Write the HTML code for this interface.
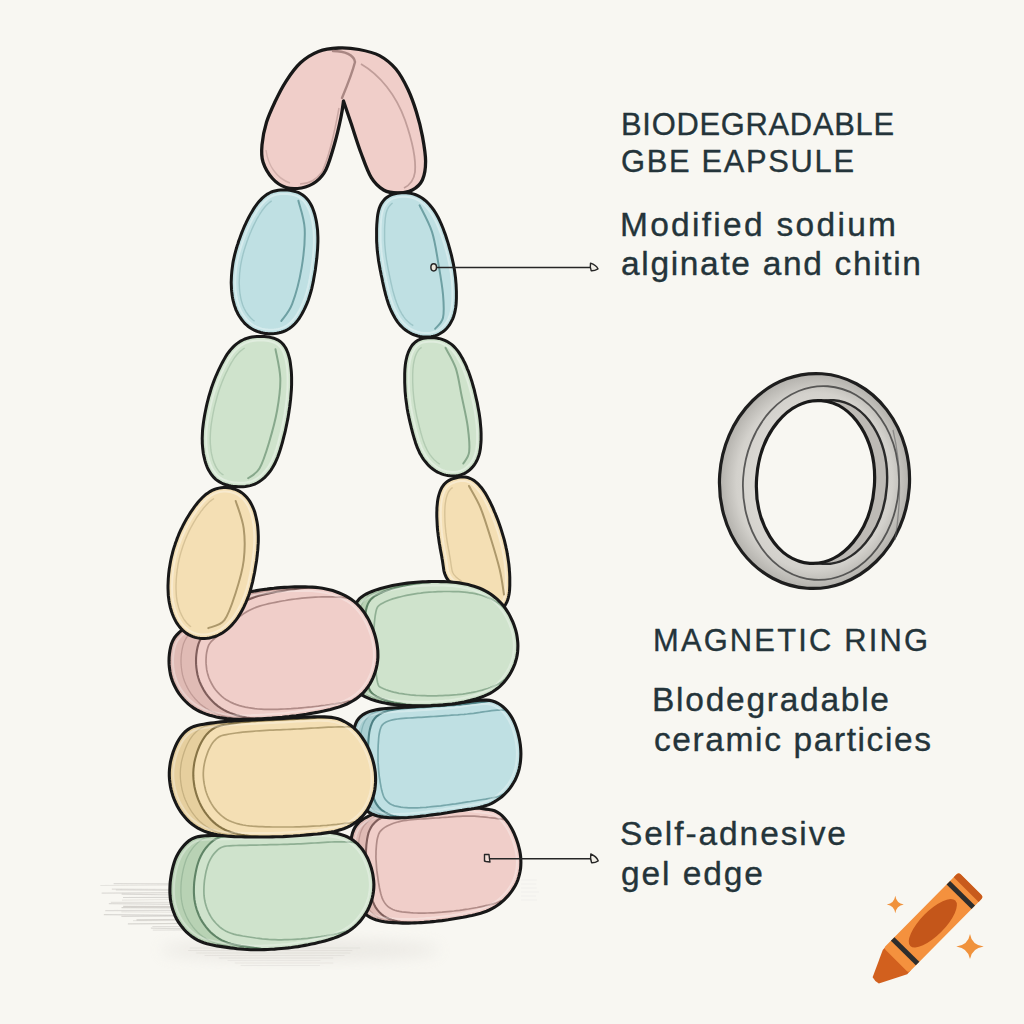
<!DOCTYPE html>
<html><head><meta charset="utf-8"><style>
html,body{margin:0;padding:0;background:#f8f7f2;}
svg{display:block;}
</style></head><body>
<svg width="1024" height="1024" viewBox="0 0 1024 1024">
<defs><filter id="blur06" x="-10%" y="-50%" width="120%" height="200%"><feGaussianBlur stdDeviation="0.7"/></filter><filter id="blur2" x="-50%" y="-50%" width="200%" height="200%"><feGaussianBlur stdDeviation="8"/></filter></defs>
<rect width="1024" height="1024" fill="#f8f7f2"/>
<g stroke="#9f9c97" stroke-width="1.2" filter="url(#blur06)"><line x1="113.6" y1="883.6" x2="176.4" y2="883.8" stroke-opacity="0.30"/><line x1="100.3" y1="885.5" x2="182.0" y2="885.0" stroke-opacity="0.21"/><line x1="111.8" y1="889.2" x2="182.0" y2="889.5" stroke-opacity="0.27"/><line x1="115.9" y1="890.0" x2="182.4" y2="890.5" stroke-opacity="0.28"/><line x1="101.6" y1="893.1" x2="181.1" y2="892.7" stroke-opacity="0.30"/><line x1="121.6" y1="894.2" x2="177.7" y2="895.0" stroke-opacity="0.33"/><line x1="123.0" y1="897.5" x2="176.7" y2="897.4" stroke-opacity="0.35"/><line x1="122.0" y1="900.1" x2="173.2" y2="899.5" stroke-opacity="0.18"/><line x1="110.9" y1="902.3" x2="179.5" y2="902.4" stroke-opacity="0.23"/><line x1="108.8" y1="903.6" x2="179.0" y2="904.4" stroke-opacity="0.30"/><line x1="123.2" y1="906.3" x2="182.3" y2="906.6" stroke-opacity="0.40"/><line x1="121.5" y1="907.7" x2="186.6" y2="907.8" stroke-opacity="0.38"/><line x1="105.3" y1="910.7" x2="188.0" y2="910.3" stroke-opacity="0.29"/><line x1="121.3" y1="911.9" x2="192.9" y2="912.5" stroke-opacity="0.17"/><line x1="103.8" y1="914.7" x2="187.5" y2="915.4" stroke-opacity="0.34"/><line x1="121.4" y1="916.3" x2="187.5" y2="915.9" stroke-opacity="0.33"/><line x1="136.5" y1="919.8" x2="196.1" y2="919.4" stroke-opacity="0.40"/><line x1="133.0" y1="920.7" x2="193.4" y2="920.5" stroke-opacity="0.20"/><line x1="127.9" y1="923.8" x2="196.5" y2="923.4" stroke-opacity="0.37"/><line x1="152.4" y1="926.5" x2="203.5" y2="926.6" stroke-opacity="0.27"/><line x1="150.9" y1="928.2" x2="208.7" y2="929.1" stroke-opacity="0.31"/><line x1="152.8" y1="930.2" x2="213.6" y2="929.8" stroke-opacity="0.21"/><line x1="189.8" y1="948.0" x2="360.4" y2="948.0" stroke-opacity="0.17"/><line x1="188.1" y1="950.5" x2="352.3" y2="950.5" stroke-opacity="0.18"/><line x1="196.2" y1="953.0" x2="350.3" y2="953.0" stroke-opacity="0.18"/><line x1="204.6" y1="955.5" x2="344.5" y2="955.5" stroke-opacity="0.17"/><line x1="218.8" y1="958.0" x2="333.1" y2="958.0" stroke-opacity="0.19"/><line x1="227.4" y1="960.5" x2="320.4" y2="960.5" stroke-opacity="0.13"/><line x1="234.8" y1="963.0" x2="333.3" y2="963.0" stroke-opacity="0.15"/><line x1="240.6" y1="965.5" x2="319.9" y2="965.5" stroke-opacity="0.15"/><line x1="521.0" y1="880.0" x2="536.6" y2="880.0" stroke-opacity="0.08"/><line x1="521.0" y1="884.0" x2="536.1" y2="884.0" stroke-opacity="0.08"/><line x1="521.0" y1="888.0" x2="536.7" y2="888.0" stroke-opacity="0.08"/><line x1="521.0" y1="892.0" x2="539.0" y2="892.0" stroke-opacity="0.08"/><line x1="521.0" y1="896.0" x2="536.0" y2="896.0" stroke-opacity="0.08"/><line x1="521.0" y1="900.0" x2="536.8" y2="900.0" stroke-opacity="0.08"/></g>
<ellipse cx="300" cy="950" rx="140" ry="10" fill="#d9d6d0" opacity="0.45" filter="url(#blur2)"/>
<path d="M343.5,101.0 C343.1,103.7 342.5,109.7 341.0,117.0 C339.5,124.3 336.8,136.1 334.3,144.8 C331.8,153.6 329.1,163.3 326.0,169.5 C322.9,175.7 320.0,178.7 315.9,181.8 C311.8,184.9 306.5,187.1 301.5,188.0 C296.5,188.9 290.8,189.1 286.0,187.5 C281.2,185.9 276.3,182.8 272.5,178.5 C268.7,174.2 264.8,167.6 263.0,162.0 C261.2,156.4 261.4,151.4 262.0,144.8 C262.6,138.2 264.3,129.5 266.5,122.3 C268.7,115.1 271.8,108.6 275.0,101.8 C278.2,95.0 281.8,87.8 286.0,81.3 C290.2,74.8 295.1,67.8 300.5,62.8 C305.9,57.8 312.2,54.0 318.5,51.5 C324.8,49.0 331.6,48.3 338.4,48.0 C345.1,47.7 352.1,48.2 359.0,49.5 C365.9,50.8 373.4,52.4 379.5,55.6 C385.6,58.9 391.1,63.4 395.9,69.0 C400.6,74.7 404.6,82.3 408.0,89.5 C411.4,96.7 414.0,104.2 416.4,112.0 C418.8,119.8 421.0,128.4 422.5,136.6 C424.0,144.8 425.6,154.1 425.6,161.3 C425.6,168.5 424.7,174.9 422.5,179.7 C420.3,184.5 416.4,187.8 412.3,190.0 C408.2,192.2 402.8,193.0 398.0,193.0 C393.2,193.0 388.1,192.6 383.6,190.0 C379.2,187.4 375.1,183.9 371.3,177.7 C367.5,171.5 364.4,162.1 361.0,153.0 C357.6,143.9 353.9,131.7 351.0,123.0 C348.1,114.3 344.8,104.7 343.5,101.0Z" fill="#f0cec9" stroke="#181818" stroke-width="3.3" stroke-linejoin="round"/>
<path d="M333,51 C345,51 354,55 355,62 C352,74 347,86 342,98" fill="none" stroke="#9c7a77" stroke-width="2.4" stroke-linecap="round" opacity="0.85"/>
<path d="M361,64 C380,75 396,95 405,120 C412,140 416,160 415,172 C414,180 410,185 404,188" fill="none" stroke="#b08e8a" stroke-width="1.8" opacity="0.75"/>
<path d="M339,108 C335,130 330,155 322,172 C316,180 308,184 300,184" fill="none" stroke="#b08e8a" stroke-width="1.5" opacity="0.6"/>
<path d="M266,150 C268,165 276,178 290,183" fill="none" stroke="#b08e8a" stroke-width="1.4" opacity="0.45"/>
<path d="M287.5,190.0 L289.8,190.3 L292.1,190.7 L294.3,191.2 L296.5,191.9 L298.7,192.7 L300.7,193.8 L302.7,195.0 L304.5,196.4 L306.2,198.0 L307.7,199.7 L309.1,201.5 L310.3,203.5 L311.4,205.5 L312.4,207.6 L313.2,209.8 L314.0,212.0 L314.7,214.2 L315.3,216.5 L315.8,218.8 L316.3,221.1 L316.7,223.4 L317.0,225.7 L317.3,228.0 L317.6,230.3 L317.7,232.6 L317.8,235.0 L317.9,237.3 L317.9,239.6 L317.9,242.0 L317.8,244.3 L317.7,246.7 L317.6,249.0 L317.4,251.3 L317.2,253.7 L317.0,256.0 L316.8,258.3 L316.5,260.6 L316.2,263.0 L315.9,265.3 L315.6,267.6 L315.3,269.9 L314.9,272.2 L314.5,274.5 L314.1,276.8 L313.7,279.1 L313.3,281.4 L312.8,283.7 L312.3,286.0 L311.8,288.3 L311.2,290.5 L310.6,292.8 L309.9,295.0 L309.2,297.3 L308.5,299.5 L307.7,301.7 L306.8,303.8 L305.9,306.0 L304.9,308.1 L303.9,310.2 L302.8,312.3 L301.7,314.3 L300.5,316.3 L299.2,318.3 L297.9,320.2 L296.4,322.0 L294.9,323.7 L293.2,325.4 L291.5,326.9 L289.7,328.3 L287.7,329.5 L285.7,330.6 L283.5,331.5 L281.3,332.2 L279.1,332.8 L276.8,333.3 L274.5,333.6 L272.2,333.7 L269.9,333.7 L267.6,333.6 L265.2,333.4 L263.0,333.0 L260.7,332.5 L258.5,331.8 L256.3,331.0 L254.2,330.1 L252.1,329.0 L250.1,327.8 L248.3,326.5 L246.5,325.0 L244.8,323.4 L243.3,321.6 L241.8,319.8 L240.5,317.9 L239.2,316.0 L238.0,314.0 L237.0,311.9 L236.0,309.8 L235.2,307.6 L234.4,305.4 L233.8,303.2 L233.2,300.9 L232.7,298.6 L232.3,296.3 L232.0,294.0 L231.7,291.7 L231.5,289.4 L231.4,287.0 L231.3,284.7 L231.2,282.4 L231.3,280.0 L231.4,277.7 L231.5,275.4 L231.7,273.0 L231.9,270.7 L232.2,268.4 L232.5,266.1 L232.8,263.7 L233.2,261.4 L233.7,259.1 L234.2,256.9 L234.7,254.6 L235.3,252.3 L235.9,250.1 L236.6,247.8 L237.2,245.6 L238.0,243.4 L238.7,241.1 L239.5,238.9 L240.3,236.7 L241.1,234.5 L241.9,232.4 L242.8,230.2 L243.7,228.0 L244.6,225.9 L245.6,223.8 L246.6,221.7 L247.6,219.6 L248.7,217.5 L249.8,215.4 L250.9,213.4 L252.1,211.4 L253.3,209.4 L254.6,207.4 L255.9,205.5 L257.3,203.6 L258.8,201.8 L260.4,200.1 L262.0,198.4 L263.7,196.9 L265.5,195.4 L267.4,194.1 L269.4,193.0 L271.5,192.0 L273.7,191.2 L275.9,190.7 L278.2,190.2 L280.5,190.0 L282.8,189.9 L285.2,189.9Z" fill="#bfe0e3" stroke="#181818" stroke-width="3.0"/>
<path d="M287.1,194.0 L289.2,194.2 L291.3,194.6 L293.3,195.1 L295.2,195.6 L297.1,196.4 L298.8,197.2 L300.4,198.3 L301.9,199.4 L303.3,200.7 L304.6,202.2 L305.8,203.8 L306.8,205.5 L307.8,207.3 L308.7,209.2 L309.5,211.2 L310.2,213.2 L310.8,215.3 L311.4,217.5 L311.9,219.6 L312.4,221.8 L312.7,224.0 L313.1,226.2 L313.3,228.4 L313.6,230.6 L313.7,232.9 L313.8,235.1 L313.9,237.4 L313.9,239.6 L313.9,241.9 L313.8,244.2 L313.7,246.4 L313.6,248.7 L313.4,251.0 L313.3,253.3 L313.0,255.6 L312.8,257.9 L312.5,260.2 L312.3,262.4 L312.0,264.7 L311.6,267.0 L311.3,269.3 L311.0,271.6 L310.6,273.9 L310.2,276.1 L309.8,278.4 L309.3,280.6 L308.9,282.9 L308.4,285.1 L307.9,287.3 L307.3,289.5 L306.7,291.7 L306.1,293.9 L305.4,296.0 L304.7,298.1 L303.9,300.2 L303.1,302.3 L302.2,304.4 L301.3,306.4 L300.3,308.4 L299.3,310.4 L298.2,312.3 L297.1,314.2 L295.9,316.0 L294.7,317.8 L293.3,319.4 L292.0,321.0 L290.5,322.5 L289.0,323.8 L287.4,325.0 L285.7,326.1 L283.9,327.0 L282.1,327.8 L280.2,328.4 L278.2,328.9 L276.2,329.3 L274.1,329.6 L272.0,329.7 L270.0,329.7 L267.9,329.6 L265.8,329.4 L263.7,329.1 L261.7,328.6 L259.7,328.0 L257.7,327.3 L255.9,326.5 L254.1,325.6 L252.4,324.5 L250.7,323.3 L249.2,322.0 L247.7,320.6 L246.3,319.0 L245.0,317.4 L243.8,315.7 L242.6,313.9 L241.6,312.1 L240.6,310.2 L239.7,308.2 L238.9,306.2 L238.3,304.2 L237.7,302.1 L237.1,300.0 L236.7,297.8 L236.3,295.7 L236.0,293.5 L235.7,291.3 L235.5,289.1 L235.4,286.8 L235.3,284.6 L235.2,282.4 L235.3,280.1 L235.4,277.9 L235.5,275.6 L235.7,273.4 L235.9,271.1 L236.1,268.9 L236.4,266.6 L236.8,264.4 L237.2,262.2 L237.6,260.0 L238.1,257.7 L238.6,255.5 L239.1,253.4 L239.8,251.2 L240.4,249.0 L241.1,246.8 L241.8,244.6 L242.5,242.4 L243.2,240.3 L244.0,238.1 L244.8,236.0 L245.6,233.8 L246.5,231.7 L247.4,229.6 L248.3,227.5 L249.2,225.5 L250.2,223.4 L251.2,221.4 L252.3,219.3 L253.3,217.3 L254.4,215.4 L255.6,213.4 L256.7,211.5 L257.9,209.6 L259.2,207.8 L260.5,206.1 L261.9,204.4 L263.3,202.8 L264.8,201.3 L266.3,199.9 L267.9,198.7 L269.6,197.5 L271.3,196.5 L273.1,195.7 L274.9,195.1 L276.8,194.6 L278.8,194.2 L280.8,194.0 L282.9,193.9 L285.0,193.9Z" fill="none" stroke="#ffffff" stroke-width="2" opacity="0.35"/>
<path d="M254.6,321.2 L253.2,320.2 L251.9,319.1 L250.6,317.8 L249.4,316.4 L248.2,315.0 L247.1,313.4 L246.0,311.8 L245.1,310.2 L244.2,308.5 L243.4,306.7 L242.7,304.9 L242.1,303.0 L241.5,301.1 L241.0,299.1 L240.6,297.1 L240.2,295.0 L239.9,293.0 L239.7,290.9 L239.5,288.7 L239.4,286.6 L239.3,284.5 L239.2,282.4 L239.3,280.2 L239.4,278.1 L239.5,275.9 L239.6,273.7 L239.9,271.5 L240.1,269.4 L240.4,267.2 L240.7,265.0 L241.1,262.9 L241.5,260.8 L242.0,258.6 L242.5,256.5 L243.0,254.4 L243.6,252.3 L244.2,250.1 L244.9,248.0 L245.6,245.8 L246.3,243.7 L247.0,241.6 L247.8,239.5 L248.5,237.4 L249.4,235.3 L250.2,233.2 L251.1,231.2 L251.9,229.2 L252.9,227.1 L253.8,225.1 L254.8,223.2 L255.8,221.2 L256.8,219.2 L257.9,217.3 L259.0,215.5 L260.1,213.6 L261.3,211.9 L262.4,210.2 L263.7,208.5 L264.9,207.0 L266.2,205.6 L267.5,204.2 L268.9,203.0 L270.3,201.9 L271.7,200.9" fill="none" stroke="#5f9498" stroke-width="1.4" opacity="0.35"/>
<path d="M298.4,200.8 C299.4,205.5 304.2,217.7 304.7,228.9 C305.2,240.1 303.7,255.4 301.6,267.9 C299.5,280.4 295.6,295.0 292.2,303.9 C288.8,312.8 283.1,318.1 281.3,321.0" fill="none" stroke="#5f9498" stroke-width="2" opacity="0.85" stroke-linecap="round"/>
<path d="M399.3,193.0 L401.6,192.8 L403.9,192.7 L406.2,192.8 L408.4,193.0 L410.7,193.3 L412.9,193.9 L415.1,194.5 L417.2,195.4 L419.2,196.4 L421.2,197.5 L423.1,198.8 L424.9,200.2 L426.6,201.7 L428.2,203.3 L429.8,205.0 L431.2,206.7 L432.6,208.5 L434.0,210.4 L435.2,212.3 L436.4,214.3 L437.5,216.3 L438.6,218.3 L439.6,220.4 L440.6,222.5 L441.5,224.6 L442.4,226.7 L443.2,228.8 L444.0,231.0 L444.8,233.1 L445.6,235.3 L446.3,237.5 L447.0,239.7 L447.7,241.9 L448.4,244.1 L449.0,246.3 L449.6,248.5 L450.2,250.7 L450.8,252.9 L451.4,255.2 L451.9,257.4 L452.4,259.6 L452.9,261.9 L453.4,264.1 L453.8,266.4 L454.2,268.6 L454.6,270.9 L454.9,273.2 L455.2,275.5 L455.5,277.7 L455.7,280.0 L455.9,282.3 L456.1,284.6 L456.2,286.9 L456.3,289.2 L456.4,291.5 L456.4,293.8 L456.4,296.1 L456.4,298.4 L456.3,300.7 L456.2,303.0 L456.0,305.3 L455.7,307.5 L455.3,309.8 L454.9,312.0 L454.3,314.2 L453.6,316.4 L452.8,318.6 L451.8,320.6 L450.8,322.6 L449.6,324.6 L448.3,326.4 L446.8,328.2 L445.2,329.8 L443.5,331.3 L441.7,332.6 L439.7,333.8 L437.7,334.8 L435.6,335.6 L433.4,336.2 L431.2,336.7 L428.9,336.9 L426.7,337.1 L424.4,337.0 L422.1,336.8 L419.9,336.5 L417.7,336.0 L415.5,335.3 L413.3,334.5 L411.3,333.6 L409.3,332.5 L407.3,331.3 L405.5,330.0 L403.7,328.6 L402.0,327.0 L400.4,325.4 L398.9,323.6 L397.5,321.8 L396.2,320.0 L395.0,318.0 L393.9,316.0 L392.8,314.0 L391.8,312.0 L390.8,309.9 L389.9,307.7 L389.1,305.6 L388.3,303.5 L387.6,301.3 L386.9,299.1 L386.3,296.9 L385.6,294.7 L385.1,292.4 L384.5,290.2 L384.0,288.0 L383.5,285.7 L383.0,283.5 L382.5,281.2 L382.1,279.0 L381.6,276.7 L381.1,274.5 L380.7,272.2 L380.2,270.0 L379.8,267.7 L379.4,265.5 L379.0,263.2 L378.6,260.9 L378.3,258.7 L378.0,256.4 L377.7,254.1 L377.4,251.8 L377.2,249.5 L377.0,247.2 L376.9,244.9 L376.7,242.7 L376.6,240.4 L376.6,238.1 L376.6,235.8 L376.6,233.5 L376.6,231.2 L376.6,228.9 L376.7,226.6 L376.8,224.3 L377.0,222.0 L377.2,219.7 L377.4,217.4 L377.7,215.1 L378.1,212.9 L378.6,210.7 L379.2,208.5 L380.0,206.4 L381.0,204.3 L382.2,202.4 L383.5,200.6 L385.0,198.9 L386.7,197.5 L388.6,196.2 L390.6,195.2 L392.7,194.4 L394.8,193.8 L397.1,193.3Z" fill="#bfe0e3" stroke="#181818" stroke-width="3.0"/>
<path d="M399.8,197.0 L401.8,196.8 L403.9,196.7 L405.9,196.8 L408.0,197.0 L409.9,197.3 L411.8,197.7 L413.7,198.3 L415.6,199.0 L417.3,199.9 L419.1,200.9 L420.7,202.0 L422.3,203.3 L423.9,204.6 L425.4,206.1 L426.8,207.6 L428.1,209.2 L429.4,210.9 L430.7,212.7 L431.8,214.5 L432.9,216.3 L434.0,218.2 L435.0,220.1 L436.0,222.1 L436.9,224.1 L437.8,226.2 L438.7,228.2 L439.5,230.3 L440.3,232.4 L441.1,234.5 L441.8,236.6 L442.5,238.7 L443.2,240.9 L443.9,243.0 L444.6,245.2 L445.2,247.4 L445.8,249.5 L446.4,251.7 L446.9,253.9 L447.5,256.1 L448.0,258.3 L448.5,260.5 L449.0,262.7 L449.4,264.9 L449.9,267.1 L450.2,269.3 L450.6,271.5 L451.0,273.8 L451.3,276.0 L451.5,278.2 L451.8,280.4 L452.0,282.6 L452.1,284.9 L452.3,287.1 L452.3,289.3 L452.4,291.6 L452.4,293.8 L452.4,296.0 L452.4,298.3 L452.3,300.5 L452.2,302.7 L452.0,304.8 L451.7,307.0 L451.4,309.1 L451.0,311.1 L450.4,313.1 L449.8,315.1 L449.1,317.0 L448.3,318.9 L447.3,320.7 L446.3,322.4 L445.1,324.0 L443.8,325.5 L442.5,326.9 L441.0,328.2 L439.5,329.3 L437.8,330.3 L436.1,331.1 L434.3,331.8 L432.5,332.3 L430.6,332.7 L428.6,333.0 L426.6,333.1 L424.6,333.0 L422.6,332.8 L420.6,332.5 L418.7,332.1 L416.7,331.5 L414.9,330.8 L413.0,330.0 L411.3,329.1 L409.5,328.0 L407.9,326.8 L406.3,325.5 L404.8,324.1 L403.4,322.7 L402.0,321.1 L400.7,319.5 L399.5,317.8 L398.4,316.0 L397.4,314.1 L396.3,312.2 L395.4,310.3 L394.5,308.3 L393.6,306.2 L392.8,304.2 L392.1,302.1 L391.4,300.0 L390.7,297.9 L390.1,295.8 L389.5,293.6 L389.0,291.5 L388.4,289.3 L387.9,287.1 L387.4,284.9 L386.9,282.6 L386.4,280.4 L386.0,278.2 L385.5,275.9 L385.1,273.7 L384.6,271.5 L384.2,269.2 L383.8,267.0 L383.3,264.8 L383.0,262.5 L382.6,260.3 L382.3,258.1 L381.9,255.8 L381.7,253.6 L381.4,251.4 L381.2,249.2 L381.0,246.9 L380.9,244.7 L380.7,242.5 L380.6,240.2 L380.6,238.0 L380.6,235.7 L380.6,233.5 L380.6,231.2 L380.6,229.0 L380.7,226.7 L380.8,224.5 L381.0,222.3 L381.1,220.1 L381.4,217.9 L381.6,215.8 L382.0,213.7 L382.5,211.7 L383.0,209.8 L383.7,207.9 L384.5,206.2 L385.5,204.6 L386.6,203.1 L387.8,201.8 L389.1,200.7 L390.6,199.7 L392.2,198.9 L393.9,198.2 L395.8,197.7 L397.7,197.3Z" fill="none" stroke="#ffffff" stroke-width="2" opacity="0.35"/>
<path d="M413.3,325.6 L411.8,324.7 L410.3,323.6 L408.9,322.5 L407.6,321.3 L406.3,320.0 L405.1,318.6 L404.0,317.1 L402.9,315.5 L401.8,313.9 L400.9,312.2 L399.9,310.4 L399.0,308.6 L398.2,306.7 L397.4,304.7 L396.6,302.8 L395.9,300.8 L395.2,298.8 L394.6,296.8 L394.0,294.7 L393.4,292.6 L392.8,290.5 L392.3,288.4 L391.8,286.2 L391.3,284.0 L390.8,281.8 L390.4,279.6 L389.9,277.3 L389.4,275.1 L389.0,272.9 L388.5,270.7 L388.1,268.5 L387.7,266.3 L387.3,264.1 L386.9,261.9 L386.5,259.7 L386.2,257.5 L385.9,255.3 L385.6,253.1 L385.4,251.0 L385.2,248.8 L385.0,246.6 L384.8,244.5 L384.7,242.3 L384.6,240.1 L384.6,237.9 L384.6,235.7 L384.6,233.5 L384.6,231.3 L384.6,229.1 L384.7,226.9 L384.8,224.7 L385.0,222.5 L385.1,220.4 L385.3,218.4 L385.6,216.4 L385.9,214.5 L386.3,212.7 L386.8,211.0 L387.4,209.5 L388.1,208.1 L388.8,206.8 L389.7,205.7 L390.6,204.7 L391.6,203.8 L392.6,203.1" fill="none" stroke="#5f9498" stroke-width="1.4" opacity="0.35"/>
<path d="M419.6,205.3 C421.7,209.7 428.9,222.3 432.0,231.9 C435.1,241.5 436.5,252.7 438.3,263.1 C440.1,273.5 442.2,285.3 443.0,294.4 C443.8,303.5 444.3,312.1 443.0,317.8 C441.7,323.5 436.5,326.9 435.2,328.8" fill="none" stroke="#5f9498" stroke-width="2" opacity="0.85" stroke-linecap="round"/>
<path d="M264.2,336.6 L266.6,336.8 L269.0,337.1 L271.4,337.6 L273.8,338.2 L276.0,339.1 L278.1,340.1 L280.1,341.4 L281.9,343.0 L283.5,344.8 L284.9,346.7 L286.1,348.8 L287.1,351.0 L288.0,353.3 L288.7,355.6 L289.4,358.0 L289.9,360.3 L290.3,362.8 L290.6,365.2 L290.9,367.6 L291.2,370.1 L291.4,372.5 L291.5,374.9 L291.6,377.4 L291.6,379.9 L291.6,382.3 L291.6,384.8 L291.5,387.2 L291.4,389.7 L291.2,392.1 L291.0,394.6 L290.8,397.0 L290.6,399.4 L290.3,401.9 L290.0,404.3 L289.7,406.8 L289.3,409.2 L289.0,411.6 L288.6,414.0 L288.2,416.5 L287.8,418.9 L287.3,421.3 L286.8,423.7 L286.3,426.1 L285.8,428.5 L285.3,430.9 L284.7,433.3 L284.1,435.7 L283.5,438.0 L282.9,440.4 L282.3,442.8 L281.6,445.1 L280.9,447.5 L280.2,449.8 L279.4,452.2 L278.6,454.5 L277.8,456.8 L276.8,459.1 L275.8,461.3 L274.8,463.5 L273.6,465.7 L272.4,467.8 L271.1,469.8 L269.7,471.8 L268.1,473.7 L266.5,475.6 L264.8,477.3 L263.0,478.9 L261.1,480.4 L259.1,481.8 L257.0,483.0 L254.8,484.1 L252.5,484.9 L250.2,485.6 L247.8,486.1 L245.4,486.5 L243.0,486.7 L240.6,486.8 L238.1,486.8 L235.7,486.6 L233.3,486.4 L230.8,486.0 L228.5,485.5 L226.1,484.8 L223.8,484.0 L221.6,483.0 L219.5,481.9 L217.4,480.6 L215.5,479.1 L213.8,477.4 L212.2,475.6 L210.8,473.7 L209.5,471.6 L208.3,469.5 L207.3,467.3 L206.4,465.0 L205.6,462.7 L204.9,460.3 L204.3,458.0 L203.8,455.6 L203.3,453.2 L203.0,450.7 L202.7,448.3 L202.5,445.9 L202.3,443.4 L202.3,441.0 L202.2,438.5 L202.3,436.1 L202.4,433.6 L202.5,431.2 L202.7,428.7 L203.0,426.3 L203.3,423.8 L203.6,421.4 L204.0,419.0 L204.4,416.6 L204.8,414.2 L205.3,411.8 L205.8,409.3 L206.3,406.9 L206.8,404.6 L207.4,402.2 L208.0,399.8 L208.6,397.4 L209.3,395.0 L210.0,392.7 L210.7,390.3 L211.4,388.0 L212.2,385.7 L213.0,383.4 L213.9,381.1 L214.8,378.8 L215.7,376.5 L216.7,374.3 L217.7,372.0 L218.7,369.8 L219.8,367.6 L220.9,365.4 L222.0,363.2 L223.2,361.1 L224.4,358.9 L225.6,356.8 L226.9,354.7 L228.3,352.7 L229.8,350.8 L231.3,348.9 L233.0,347.1 L234.8,345.4 L236.6,343.9 L238.6,342.4 L240.6,341.1 L242.8,340.0 L245.0,339.0 L247.3,338.2 L249.6,337.5 L252.0,337.0 L254.4,336.7 L256.9,336.5 L259.3,336.4 L261.7,336.5Z" fill="#cfe3cc" stroke="#181818" stroke-width="3.0"/>
<path d="M263.9,340.6 L266.2,340.8 L268.4,341.1 L270.5,341.5 L272.5,342.0 L274.4,342.7 L276.1,343.6 L277.7,344.6 L279.1,345.9 L280.4,347.3 L281.5,348.9 L282.6,350.6 L283.5,352.6 L284.2,354.6 L284.9,356.7 L285.5,358.9 L285.9,361.1 L286.3,363.4 L286.7,365.7 L287.0,368.0 L287.2,370.4 L287.4,372.8 L287.5,375.1 L287.6,377.5 L287.6,379.9 L287.6,382.3 L287.6,384.7 L287.5,387.0 L287.4,389.4 L287.2,391.8 L287.0,394.2 L286.8,396.6 L286.6,399.0 L286.3,401.4 L286.0,403.8 L285.7,406.2 L285.4,408.6 L285.0,411.0 L284.7,413.4 L284.3,415.8 L283.8,418.2 L283.4,420.5 L282.9,422.9 L282.4,425.3 L281.9,427.6 L281.4,430.0 L280.8,432.3 L280.2,434.7 L279.6,437.0 L279.0,439.4 L278.4,441.7 L277.8,444.0 L277.1,446.3 L276.4,448.6 L275.6,450.9 L274.9,453.1 L274.0,455.3 L273.1,457.5 L272.2,459.6 L271.2,461.7 L270.1,463.7 L269.0,465.7 L267.8,467.6 L266.4,469.4 L265.1,471.2 L263.6,472.8 L262.1,474.4 L260.4,475.9 L258.7,477.2 L257.0,478.4 L255.1,479.5 L253.2,480.4 L251.3,481.1 L249.2,481.7 L247.1,482.2 L245.0,482.5 L242.8,482.7 L240.5,482.8 L238.3,482.8 L236.0,482.6 L233.8,482.4 L231.6,482.0 L229.4,481.6 L227.3,481.0 L225.3,480.3 L223.3,479.4 L221.5,478.4 L219.7,477.3 L218.1,476.1 L216.7,474.7 L215.3,473.1 L214.1,471.4 L212.9,469.6 L211.9,467.7 L211.0,465.7 L210.1,463.6 L209.4,461.4 L208.7,459.3 L208.2,457.0 L207.7,454.8 L207.3,452.5 L206.9,450.2 L206.7,447.9 L206.5,445.6 L206.3,443.2 L206.3,440.9 L206.2,438.5 L206.3,436.2 L206.4,433.8 L206.5,431.5 L206.7,429.1 L206.9,426.7 L207.2,424.4 L207.6,422.0 L207.9,419.6 L208.3,417.3 L208.8,414.9 L209.2,412.5 L209.7,410.2 L210.2,407.8 L210.7,405.5 L211.3,403.1 L211.9,400.8 L212.5,398.5 L213.1,396.1 L213.8,393.8 L214.5,391.5 L215.2,389.3 L216.0,387.0 L216.8,384.7 L217.6,382.5 L218.5,380.3 L219.4,378.1 L220.3,375.9 L221.3,373.7 L222.3,371.5 L223.4,369.4 L224.4,367.2 L225.5,365.1 L226.7,363.0 L227.8,360.9 L229.0,358.9 L230.3,356.9 L231.6,355.0 L232.9,353.2 L234.3,351.5 L235.8,349.9 L237.4,348.4 L239.1,347.0 L240.8,345.7 L242.7,344.6 L244.5,343.6 L246.5,342.7 L248.5,342.0 L250.5,341.4 L252.7,341.0 L254.8,340.7 L257.1,340.5 L259.3,340.4 L261.6,340.5Z" fill="none" stroke="#ffffff" stroke-width="2" opacity="0.35"/>
<path d="M223.5,475.0 L222.1,474.1 L220.7,473.0 L219.5,471.9 L218.4,470.6 L217.4,469.2 L216.4,467.6 L215.5,465.9 L214.7,464.1 L213.9,462.2 L213.2,460.2 L212.6,458.2 L212.1,456.1 L211.6,454.0 L211.2,451.9 L210.9,449.7 L210.7,447.5 L210.5,445.3 L210.3,443.1 L210.3,440.8 L210.2,438.5 L210.3,436.3 L210.4,434.0 L210.5,431.7 L210.7,429.5 L210.9,427.2 L211.2,424.9 L211.5,422.6 L211.9,420.3 L212.3,418.0 L212.7,415.6 L213.1,413.3 L213.6,411.0 L214.1,408.7 L214.6,406.4 L215.2,404.1 L215.8,401.8 L216.4,399.5 L217.0,397.2 L217.6,395.0 L218.3,392.7 L219.0,390.5 L219.8,388.3 L220.6,386.1 L221.4,383.9 L222.2,381.7 L223.1,379.6 L224.0,377.5 L225.0,375.3 L225.9,373.2 L227.0,371.1 L228.0,369.0 L229.1,367.0 L230.2,364.9 L231.3,362.9 L232.5,361.0 L233.6,359.1 L234.8,357.4 L236.1,355.7 L237.3,354.2 L238.7,352.7 L240.1,351.4 L241.6,350.2 L243.1,349.0 L244.7,348.0" fill="none" stroke="#7a9e80" stroke-width="1.4" opacity="0.35"/>
<path d="M275.5,349.3 C276.3,354.1 280.0,368.1 280.3,378.3 C280.6,388.5 279.0,399.8 277.1,410.5 C275.2,421.2 271.9,433.0 269.0,442.7 C266.1,452.4 262.9,462.6 259.4,468.5 C255.9,474.4 250.0,476.6 248.1,478.2" fill="none" stroke="#7a9e80" stroke-width="2" opacity="0.85" stroke-linecap="round"/>
<path d="M427.7,337.7 L429.9,337.6 L432.1,337.7 L434.3,337.8 L436.5,338.1 L438.6,338.4 L440.7,338.9 L442.8,339.6 L444.8,340.4 L446.8,341.3 L448.7,342.4 L450.5,343.6 L452.2,344.9 L453.8,346.4 L455.3,347.9 L456.7,349.6 L458.1,351.3 L459.3,353.1 L460.5,355.0 L461.6,356.9 L462.7,358.8 L463.7,360.8 L464.7,362.7 L465.6,364.7 L466.5,366.7 L467.3,368.8 L468.2,370.8 L469.0,372.9 L469.7,375.0 L470.4,377.0 L471.1,379.1 L471.8,381.2 L472.4,383.3 L473.0,385.5 L473.6,387.6 L474.2,389.7 L474.7,391.9 L475.2,394.0 L475.7,396.2 L476.2,398.3 L476.7,400.5 L477.2,402.6 L477.6,404.8 L478.0,407.0 L478.4,409.1 L478.8,411.3 L479.2,413.5 L479.5,415.7 L479.8,417.8 L480.1,420.0 L480.3,422.2 L480.5,424.4 L480.7,426.6 L480.9,428.8 L481.0,431.0 L481.1,433.2 L481.1,435.4 L481.1,437.6 L481.1,439.8 L481.0,442.0 L480.8,444.2 L480.6,446.4 L480.4,448.6 L480.0,450.8 L479.6,452.9 L479.0,455.0 L478.3,457.1 L477.5,459.1 L476.6,461.1 L475.5,463.0 L474.3,464.8 L473.0,466.5 L471.5,468.1 L470.0,469.6 L468.3,471.0 L466.5,472.2 L464.7,473.3 L462.7,474.2 L460.7,474.9 L458.6,475.4 L456.5,475.8 L454.3,475.9 L452.1,476.0 L450.0,475.8 L447.8,475.5 L445.7,475.1 L443.6,474.6 L441.5,473.9 L439.5,473.0 L437.5,472.1 L435.6,471.0 L433.8,469.8 L432.1,468.5 L430.4,467.1 L428.8,465.6 L427.3,464.0 L425.9,462.3 L424.5,460.6 L423.2,458.8 L422.0,457.0 L420.9,455.1 L419.8,453.2 L418.9,451.2 L418.0,449.2 L417.1,447.2 L416.4,445.1 L415.6,443.0 L415.0,440.9 L414.3,438.8 L413.7,436.7 L413.1,434.6 L412.5,432.5 L412.0,430.3 L411.4,428.2 L410.9,426.0 L410.4,423.9 L409.9,421.8 L409.4,419.6 L408.9,417.4 L408.5,415.3 L408.0,413.1 L407.6,411.0 L407.2,408.8 L406.9,406.6 L406.6,404.4 L406.3,402.2 L406.0,400.1 L405.7,397.9 L405.5,395.7 L405.3,393.5 L405.1,391.3 L405.0,389.1 L404.9,386.9 L404.8,384.7 L404.7,382.5 L404.7,380.2 L404.7,378.0 L404.7,375.8 L404.7,373.6 L404.8,371.4 L404.9,369.2 L405.1,367.0 L405.3,364.8 L405.6,362.7 L406.0,360.5 L406.5,358.4 L407.0,356.2 L407.7,354.1 L408.4,352.1 L409.3,350.1 L410.3,348.2 L411.4,346.3 L412.7,344.6 L414.2,343.1 L415.8,341.7 L417.5,340.5 L419.4,339.6 L421.4,338.8 L423.4,338.3 L425.6,337.9Z" fill="#cfe3cc" stroke="#181818" stroke-width="3.0"/>
<path d="M428.0,341.7 L430.0,341.6 L431.9,341.7 L433.9,341.8 L435.9,342.0 L437.8,342.3 L439.7,342.8 L441.5,343.3 L443.2,344.0 L444.9,344.8 L446.6,345.8 L448.1,346.8 L449.6,348.0 L451.0,349.2 L452.4,350.6 L453.6,352.1 L454.8,353.7 L456.0,355.3 L457.1,357.1 L458.1,358.9 L459.1,360.7 L460.1,362.6 L461.1,364.5 L462.0,366.4 L462.8,368.3 L463.7,370.3 L464.4,372.3 L465.2,374.3 L465.9,376.3 L466.6,378.3 L467.3,380.4 L468.0,382.4 L468.6,384.5 L469.2,386.5 L469.7,388.6 L470.3,390.7 L470.8,392.8 L471.4,394.9 L471.9,397.1 L472.3,399.2 L472.8,401.3 L473.3,403.4 L473.7,405.6 L474.1,407.7 L474.5,409.8 L474.9,412.0 L475.2,414.1 L475.5,416.2 L475.8,418.4 L476.1,420.5 L476.3,422.6 L476.6,424.8 L476.7,426.9 L476.9,429.1 L477.0,431.2 L477.1,433.3 L477.1,435.5 L477.1,437.6 L477.1,439.7 L477.0,441.8 L476.9,443.9 L476.7,446.0 L476.4,448.0 L476.1,450.0 L475.7,452.0 L475.2,453.9 L474.6,455.7 L473.9,457.5 L473.1,459.2 L472.1,460.9 L471.1,462.4 L469.9,463.9 L468.7,465.3 L467.3,466.6 L465.9,467.8 L464.4,468.8 L462.8,469.7 L461.2,470.4 L459.5,471.0 L457.8,471.5 L456.0,471.8 L454.1,471.9 L452.2,472.0 L450.3,471.8 L448.5,471.6 L446.6,471.2 L444.7,470.7 L442.9,470.1 L441.1,469.4 L439.4,468.5 L437.7,467.6 L436.1,466.5 L434.6,465.3 L433.1,464.1 L431.6,462.7 L430.2,461.3 L428.9,459.8 L427.7,458.2 L426.5,456.6 L425.4,454.9 L424.4,453.1 L423.4,451.3 L422.5,449.5 L421.6,447.6 L420.9,445.7 L420.1,443.8 L419.4,441.8 L418.8,439.7 L418.2,437.7 L417.6,435.6 L417.0,433.5 L416.4,431.4 L415.9,429.3 L415.3,427.2 L414.8,425.1 L414.3,423.0 L413.8,420.9 L413.3,418.7 L412.8,416.6 L412.4,414.5 L412.0,412.4 L411.6,410.2 L411.2,408.1 L410.8,406.0 L410.5,403.8 L410.2,401.7 L409.9,399.6 L409.7,397.4 L409.5,395.3 L409.3,393.1 L409.1,391.0 L409.0,388.8 L408.9,386.7 L408.8,384.5 L408.7,382.4 L408.7,380.2 L408.7,378.1 L408.7,375.9 L408.7,373.8 L408.8,371.6 L408.9,369.5 L409.1,367.4 L409.3,365.3 L409.6,363.3 L409.9,361.3 L410.4,359.3 L410.9,357.3 L411.4,355.4 L412.1,353.6 L412.9,351.8 L413.8,350.2 L414.7,348.6 L415.8,347.2 L416.9,346.0 L418.2,344.9 L419.5,344.0 L421.0,343.2 L422.6,342.6 L424.3,342.2 L426.1,341.9Z" fill="none" stroke="#ffffff" stroke-width="2" opacity="0.35"/>
<path d="M439.8,464.2 L438.4,463.2 L437.0,462.2 L435.7,461.1 L434.4,459.9 L433.2,458.6 L432.0,457.3 L430.9,455.8 L429.8,454.3 L428.8,452.8 L427.8,451.2 L426.9,449.5 L426.1,447.8 L425.3,446.1 L424.6,444.3 L423.9,442.4 L423.2,440.5 L422.6,438.6 L422.0,436.6 L421.4,434.5 L420.8,432.5 L420.3,430.4 L419.7,428.3 L419.2,426.2 L418.7,424.1 L418.2,422.0 L417.7,420.0 L417.2,417.9 L416.7,415.8 L416.3,413.7 L415.9,411.6 L415.5,409.5 L415.1,407.4 L414.8,405.4 L414.5,403.3 L414.2,401.2 L413.9,399.1 L413.7,397.0 L413.5,394.9 L413.3,392.8 L413.1,390.7 L413.0,388.6 L412.9,386.5 L412.8,384.4 L412.7,382.3 L412.7,380.2 L412.7,378.1 L412.7,376.0 L412.7,373.9 L412.8,371.8 L412.9,369.8 L413.1,367.8 L413.3,365.8 L413.5,363.9 L413.9,362.0 L414.3,360.2 L414.7,358.4 L415.2,356.7 L415.8,355.1 L416.5,353.5 L417.2,352.1 L418.0,350.9 L418.8,349.8 L419.7,348.8 L420.6,348.1 L421.6,347.4" fill="none" stroke="#7a9e80" stroke-width="1.4" opacity="0.35"/>
<path d="M445.5,347.8 C447.2,351.3 453.2,360.4 455.9,368.6 C458.6,376.8 459.8,387.2 461.8,396.8 C463.8,406.4 466.5,417.4 467.7,426.5 C468.9,435.6 469.9,445.5 469.2,451.7 C468.5,457.9 464.3,461.5 463.3,463.5" fill="none" stroke="#7a9e80" stroke-width="2" opacity="0.85" stroke-linecap="round"/>
<path d="M454.4,478.3 L456.4,477.7 L458.4,477.3 L460.5,477.0 L462.5,476.9 L464.6,477.0 L466.6,477.3 L468.5,477.8 L470.4,478.5 L472.3,479.5 L474.0,480.6 L475.7,481.8 L477.2,483.2 L478.7,484.6 L480.1,486.2 L481.5,487.8 L482.7,489.4 L483.9,491.2 L485.1,492.9 L486.2,494.7 L487.2,496.6 L488.2,498.4 L489.2,500.3 L490.2,502.2 L491.1,504.1 L492.0,506.0 L492.9,507.9 L493.7,509.8 L494.5,511.8 L495.4,513.7 L496.1,515.7 L496.9,517.6 L497.7,519.6 L498.4,521.6 L499.1,523.6 L499.8,525.6 L500.5,527.6 L501.2,529.6 L501.8,531.6 L502.4,533.6 L503.0,535.6 L503.6,537.6 L504.2,539.7 L504.7,541.7 L505.2,543.8 L505.7,545.8 L506.1,547.9 L506.6,550.0 L507.0,552.0 L507.3,554.1 L507.7,556.2 L508.0,558.3 L508.3,560.4 L508.6,562.4 L508.9,564.5 L509.1,566.6 L509.3,568.7 L509.4,570.8 L509.6,572.9 L509.7,575.1 L509.8,577.2 L509.8,579.3 L509.8,581.4 L509.8,583.5 L509.8,585.6 L509.7,587.7 L509.6,589.8 L509.4,591.9 L509.1,594.0 L508.7,596.0 L508.2,598.1 L507.6,600.0 L506.9,602.0 L505.9,603.8 L504.9,605.5 L503.6,607.0 L502.2,608.3 L500.6,609.3 L498.8,610.0 L496.9,610.3 L495.0,610.4 L493.0,610.1 L491.0,609.6 L489.1,608.9 L487.2,608.1 L485.4,607.1 L483.6,606.0 L481.8,604.9 L480.1,603.6 L478.4,602.4 L476.8,601.1 L475.1,599.9 L473.4,598.6 L471.6,597.4 L469.9,596.2 L468.2,595.0 L466.4,593.9 L464.6,592.7 L462.8,591.6 L461.0,590.5 L459.3,589.3 L457.5,588.2 L455.8,587.0 L454.1,585.7 L452.4,584.4 L450.9,583.0 L449.4,581.6 L448.1,580.0 L446.9,578.4 L445.9,576.6 L445.1,574.7 L444.4,572.8 L443.9,570.8 L443.6,568.7 L443.3,566.6 L443.0,564.6 L442.7,562.5 L442.4,560.4 L442.0,558.3 L441.7,556.2 L441.3,554.1 L440.9,552.1 L440.5,550.0 L440.1,547.9 L439.8,545.8 L439.4,543.8 L439.1,541.7 L438.8,539.6 L438.5,537.5 L438.2,535.4 L438.0,533.3 L437.7,531.2 L437.5,529.1 L437.3,527.0 L437.2,524.9 L437.1,522.8 L437.0,520.7 L436.9,518.6 L436.8,516.5 L436.8,514.4 L436.8,512.3 L436.9,510.1 L436.9,508.0 L437.1,505.9 L437.3,503.8 L437.5,501.8 L437.8,499.7 L438.2,497.6 L438.7,495.6 L439.3,493.6 L440.0,491.6 L440.8,489.7 L441.7,487.8 L442.8,486.1 L444.0,484.5 L445.4,483.0 L447.0,481.7 L448.7,480.6 L450.5,479.7 L452.4,478.9Z" fill="#f4dfb4" stroke="#181818" stroke-width="3.0"/>
<path d="M455.5,482.1 L457.3,481.6 L459.1,481.2 L460.9,481.0 L462.6,480.9 L464.2,481.0 L465.8,481.2 L467.3,481.6 L468.8,482.2 L470.3,482.9 L471.7,483.9 L473.1,484.9 L474.5,486.1 L475.9,487.4 L477.1,488.8 L478.3,490.3 L479.5,491.8 L480.6,493.4 L481.7,495.1 L482.7,496.8 L483.7,498.5 L484.7,500.3 L485.6,502.1 L486.6,504.0 L487.5,505.8 L488.3,507.7 L489.2,509.5 L490.0,511.4 L490.9,513.3 L491.7,515.2 L492.4,517.2 L493.2,519.1 L493.9,521.0 L494.7,523.0 L495.4,524.9 L496.0,526.9 L496.7,528.8 L497.4,530.8 L498.0,532.8 L498.6,534.7 L499.2,536.7 L499.7,538.7 L500.3,540.7 L500.8,542.7 L501.3,544.7 L501.8,546.7 L502.2,548.7 L502.6,550.8 L503.0,552.8 L503.4,554.8 L503.8,556.8 L504.1,558.9 L504.4,560.9 L504.7,562.9 L504.9,565.0 L505.1,567.0 L505.3,569.1 L505.5,571.1 L505.6,573.2 L505.7,575.2 L505.8,577.3 L505.8,579.3 L505.8,581.4 L505.8,583.5 L505.8,585.5 L505.7,587.5 L505.6,589.5 L505.4,591.4 L505.2,593.3 L504.8,595.2 L504.4,597.0 L503.9,598.7 L503.2,600.3 L502.5,601.8 L501.6,603.1 L500.7,604.2 L499.8,605.1 L498.8,605.7 L497.7,606.1 L496.5,606.3 L495.2,606.4 L493.7,606.2 L492.2,605.8 L490.6,605.2 L489.0,604.5 L487.4,603.6 L485.7,602.7 L484.1,601.6 L482.5,600.4 L480.8,599.2 L479.2,597.9 L477.4,596.6 L475.7,595.4 L473.9,594.1 L472.2,592.9 L470.4,591.7 L468.6,590.5 L466.8,589.4 L465.0,588.2 L463.2,587.1 L461.5,586.0 L459.8,584.8 L458.1,583.7 L456.5,582.5 L455.0,581.3 L453.6,580.1 L452.3,578.9 L451.2,577.6 L450.3,576.2 L449.5,574.8 L448.8,573.3 L448.3,571.7 L447.8,569.9 L447.5,568.1 L447.2,566.1 L446.9,564.0 L446.6,561.9 L446.3,559.8 L446.0,557.6 L445.6,555.5 L445.2,553.4 L444.8,551.3 L444.5,549.3 L444.1,547.2 L443.7,545.2 L443.4,543.1 L443.0,541.1 L442.7,539.0 L442.5,537.0 L442.2,534.9 L441.9,532.9 L441.7,530.8 L441.5,528.7 L441.3,526.7 L441.2,524.6 L441.1,522.6 L440.9,520.5 L440.9,518.5 L440.8,516.4 L440.8,514.4 L440.8,512.3 L440.9,510.3 L440.9,508.2 L441.1,506.2 L441.2,504.3 L441.5,502.3 L441.8,500.4 L442.1,498.5 L442.6,496.6 L443.1,494.8 L443.7,493.0 L444.4,491.3 L445.2,489.8 L446.1,488.4 L447.0,487.1 L448.1,486.0 L449.3,485.0 L450.7,484.1 L452.2,483.3 L453.8,482.7Z" fill="none" stroke="#ffffff" stroke-width="2" opacity="0.35"/>
<path d="M487.9,599.3 L486.4,598.3 L484.8,597.2 L483.2,596.0 L481.5,594.7 L479.8,593.4 L478.0,592.1 L476.2,590.8 L474.4,589.6 L472.6,588.3 L470.7,587.1 L468.9,586.0 L467.1,584.9 L465.4,583.7 L463.7,582.6 L462.0,581.5 L460.4,580.4 L458.9,579.3 L457.6,578.3 L456.3,577.2 L455.3,576.1 L454.4,575.1 L453.6,574.1 L453.0,573.0 L452.5,571.9 L452.1,570.6 L451.8,569.1 L451.5,567.4 L451.2,565.5 L450.9,563.5 L450.6,561.3 L450.3,559.1 L449.9,557.0 L449.5,554.8 L449.2,552.7 L448.8,550.6 L448.4,548.6 L448.0,546.5 L447.7,544.5 L447.3,542.5 L447.0,540.4 L446.7,538.4 L446.4,536.4 L446.2,534.4 L445.9,532.4 L445.7,530.4 L445.5,528.4 L445.3,526.4 L445.2,524.4 L445.0,522.3 L444.9,520.3 L444.9,518.3 L444.8,516.3 L444.8,514.3 L444.8,512.4 L444.8,510.4 L444.9,508.5 L445.0,506.5 L445.2,504.7 L445.4,502.8 L445.7,501.0 L446.0,499.3 L446.4,497.6 L446.9,496.0 L447.4,494.4 L448.0,493.0 L448.7,491.7 L449.4,490.6 L450.1,489.7 L450.8,488.9 L451.7,488.2 L452.7,487.6" fill="none" stroke="#a08c5e" stroke-width="1.4" opacity="0.35"/>
<path d="M469.0,486.0 C470.9,489.7 477.0,499.2 480.6,508.0 C484.2,516.8 487.7,528.5 490.9,538.8 C494.1,549.1 497.5,560.3 499.7,569.6 C501.9,578.9 503.3,590.4 504.0,594.5" fill="none" stroke="#a08c5e" stroke-width="2" opacity="0.85" stroke-linecap="round"/>
<clipPath id="c1"><path d="M380.0,812.1 L383.0,811.5 L386.0,810.9 L389.0,810.4 L392.0,810.0 L395.0,809.7 L398.0,809.5 L401.0,809.2 L404.1,809.0 L407.1,808.8 L410.1,808.6 L413.2,808.4 L416.2,808.2 L419.2,808.0 L422.2,807.8 L425.3,807.6 L428.3,807.3 L431.3,807.1 L434.4,806.9 L437.4,806.6 L440.4,806.5 L443.4,806.3 L446.5,806.2 L449.5,806.1 L452.5,806.1 L455.6,806.1 L458.6,806.2 L461.6,806.4 L464.7,806.6 L467.7,806.9 L470.7,807.2 L473.7,807.5 L476.7,807.9 L479.8,808.3 L482.8,808.7 L485.8,809.1 L488.8,809.5 L491.7,810.0 L494.6,810.8 L497.2,812.1 L499.7,813.7 L502.0,815.7 L504.1,817.8 L506.0,820.1 L507.9,822.5 L509.6,825.0 L511.1,827.6 L512.6,830.3 L513.9,833.0 L515.1,835.8 L516.2,838.6 L517.2,841.5 L518.1,844.3 L518.9,847.3 L519.6,850.2 L520.2,853.2 L520.6,856.2 L520.8,859.2 L520.9,862.2 L520.8,865.3 L520.6,868.3 L520.1,871.3 L519.5,874.2 L518.7,877.1 L517.8,880.0 L516.6,882.8 L515.3,885.5 L513.7,888.1 L512.1,890.6 L510.3,893.1 L508.4,895.4 L506.3,897.6 L504.2,899.8 L501.9,901.8 L499.6,903.7 L497.1,905.5 L494.6,907.2 L492.0,908.6 L489.3,910.0 L486.5,911.2 L483.6,912.2 L480.7,913.2 L477.8,914.0 L474.9,914.8 L471.9,915.5 L469.0,916.1 L466.0,916.7 L463.0,917.3 L460.0,917.8 L457.0,918.3 L454.0,918.8 L451.0,919.3 L448.0,919.8 L445.0,920.2 L442.0,920.6 L439.0,920.9 L436.0,921.3 L433.0,921.6 L430.0,921.9 L426.9,922.1 L423.9,922.4 L420.9,922.6 L417.8,922.8 L414.8,922.9 L411.8,923.0 L408.7,923.1 L405.7,923.1 L402.7,923.1 L399.6,923.0 L396.6,922.8 L393.6,922.6 L390.6,922.4 L387.5,922.1 L384.5,921.7 L381.5,921.2 L378.6,920.6 L375.7,919.8 L372.9,918.7 L370.2,917.4 L367.6,915.8 L365.3,914.0 L363.1,911.9 L361.2,909.6 L359.5,907.1 L358.1,904.4 L356.9,901.7 L355.9,898.8 L355.1,895.9 L354.4,893.0 L353.7,890.0 L353.2,887.0 L352.7,884.0 L352.2,881.0 L351.8,878.0 L351.4,875.0 L351.0,872.0 L350.7,869.0 L350.4,866.0 L350.2,862.9 L350.0,859.9 L349.9,856.9 L350.0,853.8 L350.0,850.8 L350.2,847.8 L350.4,844.7 L350.8,841.7 L351.2,838.7 L351.8,835.8 L352.5,832.9 L353.6,830.1 L355.0,827.4 L356.6,825.0 L358.6,822.7 L360.9,820.7 L363.3,819.0 L365.9,817.5 L368.6,816.1 L371.4,814.9 L374.2,813.9 L377.1,812.9Z"/></clipPath>
<path d="M380.0,812.1 L383.0,811.5 L386.0,810.9 L389.0,810.4 L392.0,810.0 L395.0,809.7 L398.0,809.5 L401.0,809.2 L404.1,809.0 L407.1,808.8 L410.1,808.6 L413.2,808.4 L416.2,808.2 L419.2,808.0 L422.2,807.8 L425.3,807.6 L428.3,807.3 L431.3,807.1 L434.4,806.9 L437.4,806.6 L440.4,806.5 L443.4,806.3 L446.5,806.2 L449.5,806.1 L452.5,806.1 L455.6,806.1 L458.6,806.2 L461.6,806.4 L464.7,806.6 L467.7,806.9 L470.7,807.2 L473.7,807.5 L476.7,807.9 L479.8,808.3 L482.8,808.7 L485.8,809.1 L488.8,809.5 L491.7,810.0 L494.6,810.8 L497.2,812.1 L499.7,813.7 L502.0,815.7 L504.1,817.8 L506.0,820.1 L507.9,822.5 L509.6,825.0 L511.1,827.6 L512.6,830.3 L513.9,833.0 L515.1,835.8 L516.2,838.6 L517.2,841.5 L518.1,844.3 L518.9,847.3 L519.6,850.2 L520.2,853.2 L520.6,856.2 L520.8,859.2 L520.9,862.2 L520.8,865.3 L520.6,868.3 L520.1,871.3 L519.5,874.2 L518.7,877.1 L517.8,880.0 L516.6,882.8 L515.3,885.5 L513.7,888.1 L512.1,890.6 L510.3,893.1 L508.4,895.4 L506.3,897.6 L504.2,899.8 L501.9,901.8 L499.6,903.7 L497.1,905.5 L494.6,907.2 L492.0,908.6 L489.3,910.0 L486.5,911.2 L483.6,912.2 L480.7,913.2 L477.8,914.0 L474.9,914.8 L471.9,915.5 L469.0,916.1 L466.0,916.7 L463.0,917.3 L460.0,917.8 L457.0,918.3 L454.0,918.8 L451.0,919.3 L448.0,919.8 L445.0,920.2 L442.0,920.6 L439.0,920.9 L436.0,921.3 L433.0,921.6 L430.0,921.9 L426.9,922.1 L423.9,922.4 L420.9,922.6 L417.8,922.8 L414.8,922.9 L411.8,923.0 L408.7,923.1 L405.7,923.1 L402.7,923.1 L399.6,923.0 L396.6,922.8 L393.6,922.6 L390.6,922.4 L387.5,922.1 L384.5,921.7 L381.5,921.2 L378.6,920.6 L375.7,919.8 L372.9,918.7 L370.2,917.4 L367.6,915.8 L365.3,914.0 L363.1,911.9 L361.2,909.6 L359.5,907.1 L358.1,904.4 L356.9,901.7 L355.9,898.8 L355.1,895.9 L354.4,893.0 L353.7,890.0 L353.2,887.0 L352.7,884.0 L352.2,881.0 L351.8,878.0 L351.4,875.0 L351.0,872.0 L350.7,869.0 L350.4,866.0 L350.2,862.9 L350.0,859.9 L349.9,856.9 L350.0,853.8 L350.0,850.8 L350.2,847.8 L350.4,844.7 L350.8,841.7 L351.2,838.7 L351.8,835.8 L352.5,832.9 L353.6,830.1 L355.0,827.4 L356.6,825.0 L358.6,822.7 L360.9,820.7 L363.3,819.0 L365.9,817.5 L368.6,816.1 L371.4,814.9 L374.2,813.9 L377.1,812.9Z" fill="#e0bbb5"/>
<g clip-path="url(#c1)"><path d="M380.0,812.1 L383.0,811.5 L386.0,810.9 L389.0,810.4 L392.0,810.0 L395.0,809.7 L398.0,809.5 L401.0,809.2 L404.1,809.0 L407.1,808.8 L410.1,808.6 L413.2,808.4 L416.2,808.2 L419.2,808.0 L422.2,807.8 L425.3,807.6 L428.3,807.3 L431.3,807.1 L434.4,806.9 L437.4,806.6 L440.4,806.5 L443.4,806.3 L446.5,806.2 L449.5,806.1 L452.5,806.1 L455.6,806.1 L458.6,806.2 L461.6,806.4 L464.7,806.6 L467.7,806.9 L470.7,807.2 L473.7,807.5 L476.7,807.9 L479.8,808.3 L482.8,808.7 L485.8,809.1 L488.8,809.5 L491.7,810.0 L494.6,810.8 L497.2,812.1 L499.7,813.7 L502.0,815.7 L504.1,817.8 L506.0,820.1 L507.9,822.5 L509.6,825.0 L511.1,827.6 L512.6,830.3 L513.9,833.0 L515.1,835.8 L516.2,838.6 L517.2,841.5 L518.1,844.3 L518.9,847.3 L519.6,850.2 L520.2,853.2 L520.6,856.2 L520.8,859.2 L520.9,862.2 L520.8,865.3 L520.6,868.3 L520.1,871.3 L519.5,874.2 L518.7,877.1 L517.8,880.0 L516.6,882.8 L515.3,885.5 L513.7,888.1 L512.1,890.6 L510.3,893.1 L508.4,895.4 L506.3,897.6 L504.2,899.8 L501.9,901.8 L499.6,903.7 L497.1,905.5 L494.6,907.2 L492.0,908.6 L489.3,910.0 L486.5,911.2 L483.6,912.2 L480.7,913.2 L477.8,914.0 L474.9,914.8 L471.9,915.5 L469.0,916.1 L466.0,916.7 L463.0,917.3 L460.0,917.8 L457.0,918.3 L454.0,918.8 L451.0,919.3 L448.0,919.8 L445.0,920.2 L442.0,920.6 L439.0,920.9 L436.0,921.3 L433.0,921.6 L430.0,921.9 L426.9,922.1 L423.9,922.4 L420.9,922.6 L417.8,922.8 L414.8,922.9 L411.8,923.0 L408.7,923.1 L405.7,923.1 L402.7,923.1 L399.6,923.0 L396.6,922.8 L393.6,922.6 L390.6,922.4 L387.5,922.1 L384.5,921.7 L381.5,921.2 L378.6,920.6 L375.7,919.8 L372.9,918.7 L370.2,917.4 L367.6,915.8 L365.3,914.0 L363.1,911.9 L361.2,909.6 L359.5,907.1 L358.1,904.4 L356.9,901.7 L355.9,898.8 L355.1,895.9 L354.4,893.0 L353.7,890.0 L353.2,887.0 L352.7,884.0 L352.2,881.0 L351.8,878.0 L351.4,875.0 L351.0,872.0 L350.7,869.0 L350.4,866.0 L350.2,862.9 L350.0,859.9 L349.9,856.9 L350.0,853.8 L350.0,850.8 L350.2,847.8 L350.4,844.7 L350.8,841.7 L351.2,838.7 L351.8,835.8 L352.5,832.9 L353.6,830.1 L355.0,827.4 L356.6,825.0 L358.6,822.7 L360.9,820.7 L363.3,819.0 L365.9,817.5 L368.6,816.1 L371.4,814.9 L374.2,813.9 L377.1,812.9Z" transform="translate(8 0)" fill="none" stroke="#9b7672" stroke-width="1.3" opacity="0.45"/><path d="M380.0,812.1 L383.0,811.5 L386.0,810.9 L389.0,810.4 L392.0,810.0 L395.0,809.7 L398.0,809.5 L401.0,809.2 L404.1,809.0 L407.1,808.8 L410.1,808.6 L413.2,808.4 L416.2,808.2 L419.2,808.0 L422.2,807.8 L425.3,807.6 L428.3,807.3 L431.3,807.1 L434.4,806.9 L437.4,806.6 L440.4,806.5 L443.4,806.3 L446.5,806.2 L449.5,806.1 L452.5,806.1 L455.6,806.1 L458.6,806.2 L461.6,806.4 L464.7,806.6 L467.7,806.9 L470.7,807.2 L473.7,807.5 L476.7,807.9 L479.8,808.3 L482.8,808.7 L485.8,809.1 L488.8,809.5 L491.7,810.0 L494.6,810.8 L497.2,812.1 L499.7,813.7 L502.0,815.7 L504.1,817.8 L506.0,820.1 L507.9,822.5 L509.6,825.0 L511.1,827.6 L512.6,830.3 L513.9,833.0 L515.1,835.8 L516.2,838.6 L517.2,841.5 L518.1,844.3 L518.9,847.3 L519.6,850.2 L520.2,853.2 L520.6,856.2 L520.8,859.2 L520.9,862.2 L520.8,865.3 L520.6,868.3 L520.1,871.3 L519.5,874.2 L518.7,877.1 L517.8,880.0 L516.6,882.8 L515.3,885.5 L513.7,888.1 L512.1,890.6 L510.3,893.1 L508.4,895.4 L506.3,897.6 L504.2,899.8 L501.9,901.8 L499.6,903.7 L497.1,905.5 L494.6,907.2 L492.0,908.6 L489.3,910.0 L486.5,911.2 L483.6,912.2 L480.7,913.2 L477.8,914.0 L474.9,914.8 L471.9,915.5 L469.0,916.1 L466.0,916.7 L463.0,917.3 L460.0,917.8 L457.0,918.3 L454.0,918.8 L451.0,919.3 L448.0,919.8 L445.0,920.2 L442.0,920.6 L439.0,920.9 L436.0,921.3 L433.0,921.6 L430.0,921.9 L426.9,922.1 L423.9,922.4 L420.9,922.6 L417.8,922.8 L414.8,922.9 L411.8,923.0 L408.7,923.1 L405.7,923.1 L402.7,923.1 L399.6,923.0 L396.6,922.8 L393.6,922.6 L390.6,922.4 L387.5,922.1 L384.5,921.7 L381.5,921.2 L378.6,920.6 L375.7,919.8 L372.9,918.7 L370.2,917.4 L367.6,915.8 L365.3,914.0 L363.1,911.9 L361.2,909.6 L359.5,907.1 L358.1,904.4 L356.9,901.7 L355.9,898.8 L355.1,895.9 L354.4,893.0 L353.7,890.0 L353.2,887.0 L352.7,884.0 L352.2,881.0 L351.8,878.0 L351.4,875.0 L351.0,872.0 L350.7,869.0 L350.4,866.0 L350.2,862.9 L350.0,859.9 L349.9,856.9 L350.0,853.8 L350.0,850.8 L350.2,847.8 L350.4,844.7 L350.8,841.7 L351.2,838.7 L351.8,835.8 L352.5,832.9 L353.6,830.1 L355.0,827.4 L356.6,825.0 L358.6,822.7 L360.9,820.7 L363.3,819.0 L365.9,817.5 L368.6,816.1 L371.4,814.9 L374.2,813.9 L377.1,812.9Z" transform="translate(16 0)" fill="#f0cec9" stroke="#7f5e5b" stroke-width="2.1"/><path d="M398.5,821.8 L401.1,821.2 L403.7,820.7 L406.4,820.3 L409.1,820.0 L412.0,819.7 L414.8,819.4 L417.8,819.2 L420.7,819.0 L423.7,818.8 L426.7,818.6 L429.8,818.4 L432.9,818.2 L436.0,818.0 L439.0,817.8 L442.1,817.5 L445.1,817.3 L448.1,817.1 L451.1,816.8 L454.0,816.6 L457.0,816.4 L459.9,816.3 L462.8,816.2 L465.7,816.1 L468.5,816.1 L471.4,816.1 L474.2,816.2 L477.0,816.3 L479.8,816.6 L482.7,816.8 L485.6,817.1 L488.5,817.5 L491.5,817.8 L494.5,818.2 L497.5,818.6 L500.5,819.0 L503.2,819.3 L505.4,819.7 L507.0,820.2 L508.3,820.8 L509.6,821.7 L511.1,822.9 L512.7,824.5 L514.2,826.4 L515.7,828.4 L517.2,830.4 L518.5,832.6 L519.7,834.8 L520.8,837.2 L521.9,839.6 L522.8,842.1 L523.7,844.6 L524.5,847.2 L525.2,849.7 L525.8,852.3 L526.3,854.8 L526.7,857.3 L526.9,859.7 L526.9,862.2 L526.8,864.6 L526.6,867.1 L526.3,869.5 L525.8,871.9 L525.2,874.2 L524.4,876.5 L523.5,878.6 L522.5,880.8 L521.2,882.8 L519.9,884.9 L518.4,886.9 L516.8,888.9 L515.1,890.7 L513.3,892.5 L511.4,894.2 L509.5,895.8 L507.5,897.3 L505.4,898.6 L503.3,899.8 L501.1,900.9 L498.8,901.9 L496.3,902.8 L493.8,903.6 L491.2,904.4 L488.5,905.1 L485.7,905.7 L482.9,906.3 L480.1,906.9 L477.2,907.5 L474.3,908.0 L471.4,908.5 L468.5,909.0 L465.5,909.4 L462.6,909.9 L459.7,910.3 L456.8,910.6 L453.9,911.0 L450.9,911.3 L448.0,911.6 L445.0,911.9 L442.1,912.2 L439.2,912.4 L436.2,912.6 L433.3,912.8 L430.4,912.9 L427.5,913.0 L424.6,913.1 L421.7,913.1 L418.9,913.1 L416.0,913.0 L413.2,912.9 L410.3,912.7 L407.5,912.4 L404.7,912.1 L402.0,911.8 L399.4,911.4 L397.0,910.9 L394.8,910.3 L392.8,909.5 L391.0,908.6 L389.3,907.6 L387.8,906.4 L386.4,905.0 L385.2,903.6 L384.1,901.9 L383.1,900.1 L382.2,898.1 L381.4,895.8 L380.7,893.3 L380.1,890.7 L379.5,888.0 L379.0,885.2 L378.5,882.4 L378.1,879.5 L377.7,876.6 L377.3,873.8 L376.9,870.9 L376.6,868.0 L376.4,865.1 L376.2,862.3 L376.0,859.5 L375.9,856.8 L376.0,854.0 L376.0,851.2 L376.2,848.4 L376.4,845.6 L376.7,842.9 L377.0,840.4 L377.5,838.0 L378.1,835.9 L378.7,834.1 L379.5,832.5 L380.5,831.1 L381.7,829.8 L383.1,828.6 L384.8,827.4 L386.7,826.2 L388.8,825.2 L391.1,824.2 L393.5,823.3 L396.0,822.5Z" fill="none" stroke="#9b7672" stroke-width="1.7" opacity="0.75"/><path d="M381.0,816.0 L383.8,815.4 L386.6,814.8 L389.5,814.4 L392.4,814.0 L395.4,813.7 L398.3,813.4 L401.3,813.2 L404.3,813.0 L407.3,812.8 L410.4,812.6 L413.4,812.4 L416.5,812.2 L419.5,812.0 L422.6,811.8 L425.6,811.6 L428.6,811.3 L431.6,811.1 L434.6,810.8 L437.7,810.6 L440.6,810.4 L443.6,810.3 L446.6,810.2 L449.6,810.1 L452.5,810.1 L455.5,810.1 L458.4,810.2 L461.4,810.4 L464.3,810.6 L467.3,810.8 L470.3,811.2 L473.2,811.5 L476.2,811.9 L479.2,812.3 L482.3,812.7 L485.3,813.0 L488.2,813.4 L490.8,813.9 L493.1,814.6 L495.3,815.5 L497.3,816.9 L499.2,818.6 L501.1,820.5 L502.9,822.6 L504.6,824.9 L506.2,827.2 L507.7,829.6 L509.0,832.1 L510.3,834.7 L511.4,837.3 L512.5,840.0 L513.4,842.7 L514.3,845.5 L515.1,848.3 L515.7,851.0 L516.2,853.8 L516.6,856.6 L516.9,859.4 L516.9,862.2 L516.8,865.0 L516.6,867.8 L516.2,870.6 L515.6,873.3 L514.9,876.0 L514.0,878.6 L513.0,881.1 L511.7,883.6 L510.3,886.0 L508.8,888.3 L507.1,890.6 L505.3,892.8 L503.4,894.9 L501.4,896.9 L499.3,898.8 L497.1,900.6 L494.9,902.2 L492.5,903.7 L490.1,905.1 L487.6,906.3 L485.0,907.4 L482.3,908.4 L479.6,909.3 L476.8,910.1 L473.9,910.9 L471.1,911.6 L468.2,912.2 L465.2,912.8 L462.3,913.4 L459.3,913.9 L456.4,914.4 L453.4,914.9 L450.4,915.4 L447.5,915.8 L444.5,916.2 L441.5,916.6 L438.6,916.9 L435.6,917.3 L432.6,917.6 L429.6,917.9 L426.6,918.1 L423.6,918.4 L420.6,918.6 L417.6,918.8 L414.6,918.9 L411.7,919.0 L408.7,919.1 L405.7,919.1 L402.8,919.1 L399.8,919.0 L396.8,918.8 L393.9,918.6 L390.9,918.4 L388.0,918.1 L385.1,917.7 L382.3,917.3 L379.5,916.7 L376.9,916.0 L374.5,915.0 L372.1,913.9 L369.9,912.5 L367.9,910.9 L366.0,909.1 L364.4,907.2 L362.9,905.0 L361.7,902.7 L360.6,900.2 L359.7,897.6 L358.9,894.9 L358.3,892.1 L357.7,889.2 L357.1,886.3 L356.6,883.4 L356.1,880.4 L355.7,877.5 L355.3,874.5 L355.0,871.5 L354.7,868.6 L354.4,865.6 L354.2,862.7 L354.0,859.7 L353.9,856.8 L354.0,853.9 L354.0,851.0 L354.2,848.0 L354.4,845.1 L354.7,842.2 L355.1,839.4 L355.7,836.7 L356.4,834.1 L357.3,831.7 L358.4,829.5 L359.8,827.4 L361.5,825.6 L363.4,823.9 L365.5,822.3 L367.8,821.0 L370.3,819.7 L372.9,818.6 L375.5,817.7 L378.3,816.8Z" fill="none" stroke="#ffffff" stroke-width="2" opacity="0.3"/></g>
<path d="M380.0,812.1 L383.0,811.5 L386.0,810.9 L389.0,810.4 L392.0,810.0 L395.0,809.7 L398.0,809.5 L401.0,809.2 L404.1,809.0 L407.1,808.8 L410.1,808.6 L413.2,808.4 L416.2,808.2 L419.2,808.0 L422.2,807.8 L425.3,807.6 L428.3,807.3 L431.3,807.1 L434.4,806.9 L437.4,806.6 L440.4,806.5 L443.4,806.3 L446.5,806.2 L449.5,806.1 L452.5,806.1 L455.6,806.1 L458.6,806.2 L461.6,806.4 L464.7,806.6 L467.7,806.9 L470.7,807.2 L473.7,807.5 L476.7,807.9 L479.8,808.3 L482.8,808.7 L485.8,809.1 L488.8,809.5 L491.7,810.0 L494.6,810.8 L497.2,812.1 L499.7,813.7 L502.0,815.7 L504.1,817.8 L506.0,820.1 L507.9,822.5 L509.6,825.0 L511.1,827.6 L512.6,830.3 L513.9,833.0 L515.1,835.8 L516.2,838.6 L517.2,841.5 L518.1,844.3 L518.9,847.3 L519.6,850.2 L520.2,853.2 L520.6,856.2 L520.8,859.2 L520.9,862.2 L520.8,865.3 L520.6,868.3 L520.1,871.3 L519.5,874.2 L518.7,877.1 L517.8,880.0 L516.6,882.8 L515.3,885.5 L513.7,888.1 L512.1,890.6 L510.3,893.1 L508.4,895.4 L506.3,897.6 L504.2,899.8 L501.9,901.8 L499.6,903.7 L497.1,905.5 L494.6,907.2 L492.0,908.6 L489.3,910.0 L486.5,911.2 L483.6,912.2 L480.7,913.2 L477.8,914.0 L474.9,914.8 L471.9,915.5 L469.0,916.1 L466.0,916.7 L463.0,917.3 L460.0,917.8 L457.0,918.3 L454.0,918.8 L451.0,919.3 L448.0,919.8 L445.0,920.2 L442.0,920.6 L439.0,920.9 L436.0,921.3 L433.0,921.6 L430.0,921.9 L426.9,922.1 L423.9,922.4 L420.9,922.6 L417.8,922.8 L414.8,922.9 L411.8,923.0 L408.7,923.1 L405.7,923.1 L402.7,923.1 L399.6,923.0 L396.6,922.8 L393.6,922.6 L390.6,922.4 L387.5,922.1 L384.5,921.7 L381.5,921.2 L378.6,920.6 L375.7,919.8 L372.9,918.7 L370.2,917.4 L367.6,915.8 L365.3,914.0 L363.1,911.9 L361.2,909.6 L359.5,907.1 L358.1,904.4 L356.9,901.7 L355.9,898.8 L355.1,895.9 L354.4,893.0 L353.7,890.0 L353.2,887.0 L352.7,884.0 L352.2,881.0 L351.8,878.0 L351.4,875.0 L351.0,872.0 L350.7,869.0 L350.4,866.0 L350.2,862.9 L350.0,859.9 L349.9,856.9 L350.0,853.8 L350.0,850.8 L350.2,847.8 L350.4,844.7 L350.8,841.7 L351.2,838.7 L351.8,835.8 L352.5,832.9 L353.6,830.1 L355.0,827.4 L356.6,825.0 L358.6,822.7 L360.9,820.7 L363.3,819.0 L365.9,817.5 L368.6,816.1 L371.4,814.9 L374.2,813.9 L377.1,812.9Z" fill="none" stroke="#181818" stroke-width="3.1"/>
<clipPath id="c2"><path d="M360.7,716.4 L363.1,714.6 L365.7,713.1 L368.5,711.9 L371.3,710.9 L374.3,710.2 L377.3,709.6 L380.3,709.1 L383.3,708.8 L386.3,708.5 L389.4,708.2 L392.4,708.0 L395.5,707.8 L398.5,707.6 L401.6,707.5 L404.6,707.3 L407.7,707.1 L410.7,706.9 L413.7,706.7 L416.8,706.5 L419.8,706.3 L422.9,706.1 L425.9,705.9 L429.0,705.7 L432.0,705.5 L435.0,705.3 L438.1,705.1 L441.1,704.8 L444.2,704.6 L447.2,704.3 L450.2,704.0 L453.3,703.7 L456.3,703.3 L459.3,702.9 L462.4,702.5 L465.4,702.0 L468.4,701.6 L471.4,701.2 L474.4,700.8 L477.5,700.4 L480.5,700.2 L483.5,700.0 L486.6,700.1 L489.6,700.4 L492.5,701.0 L495.3,702.0 L498.0,703.3 L500.6,704.9 L502.9,706.8 L505.2,708.8 L507.2,711.0 L509.1,713.4 L510.8,715.9 L512.4,718.5 L513.7,721.2 L515.0,724.0 L516.1,726.9 L517.0,729.7 L517.9,732.7 L518.6,735.6 L519.3,738.6 L519.8,741.6 L520.3,744.6 L520.6,747.6 L520.8,750.7 L520.9,753.7 L520.8,756.8 L520.6,759.8 L520.3,762.8 L519.8,765.8 L519.2,768.8 L518.4,771.7 L517.4,774.6 L516.3,777.4 L515.0,780.2 L513.5,782.8 L511.9,785.4 L510.2,787.9 L508.3,790.3 L506.2,792.5 L504.1,794.7 L501.8,796.7 L499.4,798.6 L496.9,800.3 L494.3,801.9 L491.7,803.3 L488.9,804.6 L486.0,805.6 L483.1,806.5 L480.2,807.3 L477.2,807.9 L474.2,808.5 L471.2,809.0 L468.2,809.4 L465.2,809.9 L462.2,810.4 L459.2,810.8 L456.1,811.3 L453.1,811.8 L450.1,812.3 L447.1,812.8 L444.1,813.2 L441.1,813.7 L438.0,814.1 L435.0,814.5 L432.0,814.9 L429.0,815.3 L425.9,815.7 L422.9,816.0 L419.9,816.4 L416.9,816.7 L413.8,817.0 L410.8,817.2 L407.7,817.5 L404.7,817.7 L401.6,817.8 L398.6,817.9 L395.5,817.9 L392.5,817.8 L389.5,817.7 L386.4,817.4 L383.4,817.1 L380.4,816.6 L377.4,815.9 L374.6,815.0 L371.8,813.8 L369.1,812.4 L366.6,810.7 L364.3,808.8 L362.3,806.6 L360.5,804.2 L359.1,801.5 L357.9,798.8 L356.9,795.9 L356.1,793.0 L355.5,790.0 L354.9,787.0 L354.3,784.0 L353.9,781.0 L353.4,778.0 L353.1,774.9 L352.7,771.9 L352.5,768.9 L352.3,765.8 L352.1,762.8 L352.0,759.7 L352.0,756.7 L352.0,753.6 L352.0,750.6 L352.1,747.5 L352.2,744.5 L352.4,741.4 L352.6,738.4 L352.9,735.4 L353.3,732.4 L353.9,729.4 L354.7,726.4 L355.7,723.6 L357.0,720.9 L358.7,718.5Z"/></clipPath>
<path d="M360.7,716.4 L363.1,714.6 L365.7,713.1 L368.5,711.9 L371.3,710.9 L374.3,710.2 L377.3,709.6 L380.3,709.1 L383.3,708.8 L386.3,708.5 L389.4,708.2 L392.4,708.0 L395.5,707.8 L398.5,707.6 L401.6,707.5 L404.6,707.3 L407.7,707.1 L410.7,706.9 L413.7,706.7 L416.8,706.5 L419.8,706.3 L422.9,706.1 L425.9,705.9 L429.0,705.7 L432.0,705.5 L435.0,705.3 L438.1,705.1 L441.1,704.8 L444.2,704.6 L447.2,704.3 L450.2,704.0 L453.3,703.7 L456.3,703.3 L459.3,702.9 L462.4,702.5 L465.4,702.0 L468.4,701.6 L471.4,701.2 L474.4,700.8 L477.5,700.4 L480.5,700.2 L483.5,700.0 L486.6,700.1 L489.6,700.4 L492.5,701.0 L495.3,702.0 L498.0,703.3 L500.6,704.9 L502.9,706.8 L505.2,708.8 L507.2,711.0 L509.1,713.4 L510.8,715.9 L512.4,718.5 L513.7,721.2 L515.0,724.0 L516.1,726.9 L517.0,729.7 L517.9,732.7 L518.6,735.6 L519.3,738.6 L519.8,741.6 L520.3,744.6 L520.6,747.6 L520.8,750.7 L520.9,753.7 L520.8,756.8 L520.6,759.8 L520.3,762.8 L519.8,765.8 L519.2,768.8 L518.4,771.7 L517.4,774.6 L516.3,777.4 L515.0,780.2 L513.5,782.8 L511.9,785.4 L510.2,787.9 L508.3,790.3 L506.2,792.5 L504.1,794.7 L501.8,796.7 L499.4,798.6 L496.9,800.3 L494.3,801.9 L491.7,803.3 L488.9,804.6 L486.0,805.6 L483.1,806.5 L480.2,807.3 L477.2,807.9 L474.2,808.5 L471.2,809.0 L468.2,809.4 L465.2,809.9 L462.2,810.4 L459.2,810.8 L456.1,811.3 L453.1,811.8 L450.1,812.3 L447.1,812.8 L444.1,813.2 L441.1,813.7 L438.0,814.1 L435.0,814.5 L432.0,814.9 L429.0,815.3 L425.9,815.7 L422.9,816.0 L419.9,816.4 L416.9,816.7 L413.8,817.0 L410.8,817.2 L407.7,817.5 L404.7,817.7 L401.6,817.8 L398.6,817.9 L395.5,817.9 L392.5,817.8 L389.5,817.7 L386.4,817.4 L383.4,817.1 L380.4,816.6 L377.4,815.9 L374.6,815.0 L371.8,813.8 L369.1,812.4 L366.6,810.7 L364.3,808.8 L362.3,806.6 L360.5,804.2 L359.1,801.5 L357.9,798.8 L356.9,795.9 L356.1,793.0 L355.5,790.0 L354.9,787.0 L354.3,784.0 L353.9,781.0 L353.4,778.0 L353.1,774.9 L352.7,771.9 L352.5,768.9 L352.3,765.8 L352.1,762.8 L352.0,759.7 L352.0,756.7 L352.0,753.6 L352.0,750.6 L352.1,747.5 L352.2,744.5 L352.4,741.4 L352.6,738.4 L352.9,735.4 L353.3,732.4 L353.9,729.4 L354.7,726.4 L355.7,723.6 L357.0,720.9 L358.7,718.5Z" fill="#a9cfd2"/>
<g clip-path="url(#c2)"><path d="M360.7,716.4 L363.1,714.6 L365.7,713.1 L368.5,711.9 L371.3,710.9 L374.3,710.2 L377.3,709.6 L380.3,709.1 L383.3,708.8 L386.3,708.5 L389.4,708.2 L392.4,708.0 L395.5,707.8 L398.5,707.6 L401.6,707.5 L404.6,707.3 L407.7,707.1 L410.7,706.9 L413.7,706.7 L416.8,706.5 L419.8,706.3 L422.9,706.1 L425.9,705.9 L429.0,705.7 L432.0,705.5 L435.0,705.3 L438.1,705.1 L441.1,704.8 L444.2,704.6 L447.2,704.3 L450.2,704.0 L453.3,703.7 L456.3,703.3 L459.3,702.9 L462.4,702.5 L465.4,702.0 L468.4,701.6 L471.4,701.2 L474.4,700.8 L477.5,700.4 L480.5,700.2 L483.5,700.0 L486.6,700.1 L489.6,700.4 L492.5,701.0 L495.3,702.0 L498.0,703.3 L500.6,704.9 L502.9,706.8 L505.2,708.8 L507.2,711.0 L509.1,713.4 L510.8,715.9 L512.4,718.5 L513.7,721.2 L515.0,724.0 L516.1,726.9 L517.0,729.7 L517.9,732.7 L518.6,735.6 L519.3,738.6 L519.8,741.6 L520.3,744.6 L520.6,747.6 L520.8,750.7 L520.9,753.7 L520.8,756.8 L520.6,759.8 L520.3,762.8 L519.8,765.8 L519.2,768.8 L518.4,771.7 L517.4,774.6 L516.3,777.4 L515.0,780.2 L513.5,782.8 L511.9,785.4 L510.2,787.9 L508.3,790.3 L506.2,792.5 L504.1,794.7 L501.8,796.7 L499.4,798.6 L496.9,800.3 L494.3,801.9 L491.7,803.3 L488.9,804.6 L486.0,805.6 L483.1,806.5 L480.2,807.3 L477.2,807.9 L474.2,808.5 L471.2,809.0 L468.2,809.4 L465.2,809.9 L462.2,810.4 L459.2,810.8 L456.1,811.3 L453.1,811.8 L450.1,812.3 L447.1,812.8 L444.1,813.2 L441.1,813.7 L438.0,814.1 L435.0,814.5 L432.0,814.9 L429.0,815.3 L425.9,815.7 L422.9,816.0 L419.9,816.4 L416.9,816.7 L413.8,817.0 L410.8,817.2 L407.7,817.5 L404.7,817.7 L401.6,817.8 L398.6,817.9 L395.5,817.9 L392.5,817.8 L389.5,817.7 L386.4,817.4 L383.4,817.1 L380.4,816.6 L377.4,815.9 L374.6,815.0 L371.8,813.8 L369.1,812.4 L366.6,810.7 L364.3,808.8 L362.3,806.6 L360.5,804.2 L359.1,801.5 L357.9,798.8 L356.9,795.9 L356.1,793.0 L355.5,790.0 L354.9,787.0 L354.3,784.0 L353.9,781.0 L353.4,778.0 L353.1,774.9 L352.7,771.9 L352.5,768.9 L352.3,765.8 L352.1,762.8 L352.0,759.7 L352.0,756.7 L352.0,753.6 L352.0,750.6 L352.1,747.5 L352.2,744.5 L352.4,741.4 L352.6,738.4 L352.9,735.4 L353.3,732.4 L353.9,729.4 L354.7,726.4 L355.7,723.6 L357.0,720.9 L358.7,718.5Z" transform="translate(8 0)" fill="none" stroke="#5f9498" stroke-width="1.3" opacity="0.45"/><path d="M360.7,716.4 L363.1,714.6 L365.7,713.1 L368.5,711.9 L371.3,710.9 L374.3,710.2 L377.3,709.6 L380.3,709.1 L383.3,708.8 L386.3,708.5 L389.4,708.2 L392.4,708.0 L395.5,707.8 L398.5,707.6 L401.6,707.5 L404.6,707.3 L407.7,707.1 L410.7,706.9 L413.7,706.7 L416.8,706.5 L419.8,706.3 L422.9,706.1 L425.9,705.9 L429.0,705.7 L432.0,705.5 L435.0,705.3 L438.1,705.1 L441.1,704.8 L444.2,704.6 L447.2,704.3 L450.2,704.0 L453.3,703.7 L456.3,703.3 L459.3,702.9 L462.4,702.5 L465.4,702.0 L468.4,701.6 L471.4,701.2 L474.4,700.8 L477.5,700.4 L480.5,700.2 L483.5,700.0 L486.6,700.1 L489.6,700.4 L492.5,701.0 L495.3,702.0 L498.0,703.3 L500.6,704.9 L502.9,706.8 L505.2,708.8 L507.2,711.0 L509.1,713.4 L510.8,715.9 L512.4,718.5 L513.7,721.2 L515.0,724.0 L516.1,726.9 L517.0,729.7 L517.9,732.7 L518.6,735.6 L519.3,738.6 L519.8,741.6 L520.3,744.6 L520.6,747.6 L520.8,750.7 L520.9,753.7 L520.8,756.8 L520.6,759.8 L520.3,762.8 L519.8,765.8 L519.2,768.8 L518.4,771.7 L517.4,774.6 L516.3,777.4 L515.0,780.2 L513.5,782.8 L511.9,785.4 L510.2,787.9 L508.3,790.3 L506.2,792.5 L504.1,794.7 L501.8,796.7 L499.4,798.6 L496.9,800.3 L494.3,801.9 L491.7,803.3 L488.9,804.6 L486.0,805.6 L483.1,806.5 L480.2,807.3 L477.2,807.9 L474.2,808.5 L471.2,809.0 L468.2,809.4 L465.2,809.9 L462.2,810.4 L459.2,810.8 L456.1,811.3 L453.1,811.8 L450.1,812.3 L447.1,812.8 L444.1,813.2 L441.1,813.7 L438.0,814.1 L435.0,814.5 L432.0,814.9 L429.0,815.3 L425.9,815.7 L422.9,816.0 L419.9,816.4 L416.9,816.7 L413.8,817.0 L410.8,817.2 L407.7,817.5 L404.7,817.7 L401.6,817.8 L398.6,817.9 L395.5,817.9 L392.5,817.8 L389.5,817.7 L386.4,817.4 L383.4,817.1 L380.4,816.6 L377.4,815.9 L374.6,815.0 L371.8,813.8 L369.1,812.4 L366.6,810.7 L364.3,808.8 L362.3,806.6 L360.5,804.2 L359.1,801.5 L357.9,798.8 L356.9,795.9 L356.1,793.0 L355.5,790.0 L354.9,787.0 L354.3,784.0 L353.9,781.0 L353.4,778.0 L353.1,774.9 L352.7,771.9 L352.5,768.9 L352.3,765.8 L352.1,762.8 L352.0,759.7 L352.0,756.7 L352.0,753.6 L352.0,750.6 L352.1,747.5 L352.2,744.5 L352.4,741.4 L352.6,738.4 L352.9,735.4 L353.3,732.4 L353.9,729.4 L354.7,726.4 L355.7,723.6 L357.0,720.9 L358.7,718.5Z" transform="translate(16 0)" fill="#bfe0e3" stroke="#4d8084" stroke-width="2.1"/><path d="M383.4,723.9 L384.6,722.9 L386.2,722.0 L388.0,721.2 L390.1,720.5 L392.5,719.9 L395.0,719.4 L397.7,719.0 L400.4,718.7 L403.2,718.4 L406.1,718.2 L409.1,718.0 L412.1,717.8 L415.1,717.6 L418.1,717.4 L421.2,717.3 L424.3,717.1 L427.3,716.9 L430.4,716.7 L433.5,716.5 L436.5,716.3 L439.5,716.1 L442.6,715.9 L445.6,715.7 L448.7,715.5 L451.7,715.2 L454.8,715.0 L457.9,714.8 L461.0,714.5 L464.1,714.3 L467.3,714.0 L470.4,713.6 L473.6,713.3 L476.7,712.8 L479.8,712.4 L482.9,711.9 L485.8,711.5 L488.8,711.1 L491.6,710.7 L494.4,710.4 L497.1,710.2 L499.7,710.0 L502.0,710.1 L504.0,710.2 L505.8,710.6 L507.5,711.2 L509.1,712.0 L510.8,713.1 L512.5,714.4 L514.1,715.9 L515.6,717.5 L517.0,719.3 L518.4,721.3 L519.6,723.4 L520.7,725.6 L521.8,727.9 L522.7,730.3 L523.5,732.7 L524.2,735.3 L524.9,737.9 L525.5,740.6 L526.0,743.2 L526.4,745.9 L526.7,748.5 L526.8,751.1 L526.9,753.7 L526.8,756.3 L526.7,758.9 L526.4,761.5 L526.0,764.0 L525.4,766.4 L524.8,768.8 L524.0,771.2 L523.1,773.4 L522.0,775.7 L520.9,777.8 L519.6,779.9 L518.2,781.9 L516.6,783.8 L515.0,785.6 L513.2,787.4 L511.4,789.0 L509.4,790.6 L507.4,792.0 L505.4,793.2 L503.3,794.4 L501.1,795.3 L498.8,796.2 L496.4,796.9 L493.9,797.5 L491.3,798.1 L488.5,798.6 L485.6,799.1 L482.7,799.5 L479.6,800.0 L476.6,800.5 L473.6,801.0 L470.6,801.5 L467.6,801.9 L464.6,802.4 L461.6,802.9 L458.6,803.3 L455.6,803.8 L452.6,804.2 L449.7,804.6 L446.7,805.0 L443.7,805.4 L440.8,805.8 L437.8,806.1 L434.8,806.4 L431.9,806.7 L428.9,807.0 L426.0,807.3 L423.0,807.5 L420.1,807.7 L417.3,807.8 L414.4,807.9 L411.6,807.9 L408.8,807.9 L406.1,807.7 L403.5,807.5 L400.9,807.2 L398.4,806.7 L396.0,806.2 L393.9,805.6 L392.0,804.8 L390.3,803.9 L388.7,802.8 L387.2,801.5 L386.0,800.2 L384.9,798.8 L384.0,797.1 L383.2,795.3 L382.5,793.0 L381.8,790.6 L381.2,787.9 L380.7,785.2 L380.2,782.3 L379.8,779.5 L379.3,776.6 L379.0,773.8 L378.7,771.0 L378.5,768.1 L378.3,765.3 L378.1,762.4 L378.0,759.5 L378.0,756.6 L378.0,753.7 L378.0,750.8 L378.1,747.8 L378.2,744.9 L378.4,742.1 L378.6,739.3 L378.8,736.6 L379.2,734.0 L379.7,731.5 L380.2,729.4 L380.9,727.5 L381.6,726.0 L382.4,724.9Z" fill="none" stroke="#5f9498" stroke-width="1.7" opacity="0.75"/><path d="M363.4,719.4 L365.3,717.9 L367.5,716.7 L369.9,715.6 L372.5,714.8 L375.2,714.1 L378.0,713.5 L380.8,713.1 L383.8,712.7 L386.7,712.4 L389.7,712.2 L392.7,712.0 L395.7,711.8 L398.7,711.6 L401.8,711.4 L404.8,711.3 L407.9,711.1 L411.0,710.9 L414.0,710.7 L417.1,710.5 L420.1,710.3 L423.1,710.1 L426.2,709.9 L429.2,709.7 L432.3,709.5 L435.3,709.3 L438.4,709.0 L441.4,708.8 L444.5,708.6 L447.6,708.3 L450.7,708.0 L453.7,707.7 L456.8,707.3 L459.9,706.9 L462.9,706.4 L466.0,706.0 L469.0,705.5 L471.9,705.1 L474.9,704.7 L477.8,704.4 L480.7,704.2 L483.6,704.0 L486.3,704.1 L488.9,704.3 L491.4,704.8 L493.8,705.7 L496.1,706.8 L498.3,708.2 L500.4,709.8 L502.3,711.6 L504.2,713.6 L505.9,715.8 L507.4,718.1 L508.9,720.5 L510.1,723.0 L511.3,725.6 L512.3,728.2 L513.2,730.9 L514.0,733.7 L514.8,736.5 L515.4,739.4 L515.9,742.3 L516.3,745.1 L516.6,748.0 L516.8,750.9 L516.9,753.7 L516.8,756.6 L516.6,759.4 L516.3,762.3 L515.9,765.1 L515.3,767.8 L514.5,770.6 L513.6,773.2 L512.6,775.8 L511.4,778.4 L510.1,780.8 L508.6,783.2 L507.0,785.5 L505.2,787.7 L503.3,789.8 L501.3,791.8 L499.2,793.6 L497.0,795.4 L494.7,797.0 L492.4,798.4 L489.9,799.7 L487.4,800.9 L484.8,801.9 L482.1,802.7 L479.3,803.4 L476.4,804.0 L473.5,804.5 L470.6,805.0 L467.6,805.5 L464.6,805.9 L461.5,806.4 L458.5,806.9 L455.5,807.4 L452.5,807.9 L449.5,808.3 L446.5,808.8 L443.5,809.3 L440.5,809.7 L437.5,810.1 L434.5,810.5 L431.5,811.0 L428.5,811.3 L425.5,811.7 L422.5,812.1 L419.5,812.4 L416.5,812.7 L413.5,813.0 L410.5,813.3 L407.5,813.5 L404.5,813.7 L401.5,813.8 L398.5,813.9 L395.6,813.9 L392.6,813.9 L389.7,813.7 L386.8,813.5 L384.0,813.1 L381.2,812.6 L378.5,812.0 L375.9,811.2 L373.5,810.2 L371.2,809.0 L369.1,807.5 L367.1,805.9 L365.4,804.0 L363.9,802.0 L362.6,799.8 L361.6,797.4 L360.8,794.8 L360.0,792.0 L359.4,789.2 L358.8,786.3 L358.3,783.3 L357.8,780.4 L357.4,777.4 L357.0,774.5 L356.7,771.5 L356.5,768.6 L356.3,765.6 L356.1,762.6 L356.0,759.6 L356.0,756.6 L356.0,753.7 L356.0,750.7 L356.1,747.7 L356.2,744.7 L356.4,741.7 L356.6,738.8 L356.9,735.8 L357.3,733.0 L357.8,730.2 L358.5,727.6 L359.4,725.2 L360.4,723.0 L361.8,721.0Z" fill="none" stroke="#ffffff" stroke-width="2" opacity="0.3"/></g>
<path d="M360.7,716.4 L363.1,714.6 L365.7,713.1 L368.5,711.9 L371.3,710.9 L374.3,710.2 L377.3,709.6 L380.3,709.1 L383.3,708.8 L386.3,708.5 L389.4,708.2 L392.4,708.0 L395.5,707.8 L398.5,707.6 L401.6,707.5 L404.6,707.3 L407.7,707.1 L410.7,706.9 L413.7,706.7 L416.8,706.5 L419.8,706.3 L422.9,706.1 L425.9,705.9 L429.0,705.7 L432.0,705.5 L435.0,705.3 L438.1,705.1 L441.1,704.8 L444.2,704.6 L447.2,704.3 L450.2,704.0 L453.3,703.7 L456.3,703.3 L459.3,702.9 L462.4,702.5 L465.4,702.0 L468.4,701.6 L471.4,701.2 L474.4,700.8 L477.5,700.4 L480.5,700.2 L483.5,700.0 L486.6,700.1 L489.6,700.4 L492.5,701.0 L495.3,702.0 L498.0,703.3 L500.6,704.9 L502.9,706.8 L505.2,708.8 L507.2,711.0 L509.1,713.4 L510.8,715.9 L512.4,718.5 L513.7,721.2 L515.0,724.0 L516.1,726.9 L517.0,729.7 L517.9,732.7 L518.6,735.6 L519.3,738.6 L519.8,741.6 L520.3,744.6 L520.6,747.6 L520.8,750.7 L520.9,753.7 L520.8,756.8 L520.6,759.8 L520.3,762.8 L519.8,765.8 L519.2,768.8 L518.4,771.7 L517.4,774.6 L516.3,777.4 L515.0,780.2 L513.5,782.8 L511.9,785.4 L510.2,787.9 L508.3,790.3 L506.2,792.5 L504.1,794.7 L501.8,796.7 L499.4,798.6 L496.9,800.3 L494.3,801.9 L491.7,803.3 L488.9,804.6 L486.0,805.6 L483.1,806.5 L480.2,807.3 L477.2,807.9 L474.2,808.5 L471.2,809.0 L468.2,809.4 L465.2,809.9 L462.2,810.4 L459.2,810.8 L456.1,811.3 L453.1,811.8 L450.1,812.3 L447.1,812.8 L444.1,813.2 L441.1,813.7 L438.0,814.1 L435.0,814.5 L432.0,814.9 L429.0,815.3 L425.9,815.7 L422.9,816.0 L419.9,816.4 L416.9,816.7 L413.8,817.0 L410.8,817.2 L407.7,817.5 L404.7,817.7 L401.6,817.8 L398.6,817.9 L395.5,817.9 L392.5,817.8 L389.5,817.7 L386.4,817.4 L383.4,817.1 L380.4,816.6 L377.4,815.9 L374.6,815.0 L371.8,813.8 L369.1,812.4 L366.6,810.7 L364.3,808.8 L362.3,806.6 L360.5,804.2 L359.1,801.5 L357.9,798.8 L356.9,795.9 L356.1,793.0 L355.5,790.0 L354.9,787.0 L354.3,784.0 L353.9,781.0 L353.4,778.0 L353.1,774.9 L352.7,771.9 L352.5,768.9 L352.3,765.8 L352.1,762.8 L352.0,759.7 L352.0,756.7 L352.0,753.6 L352.0,750.6 L352.1,747.5 L352.2,744.5 L352.4,741.4 L352.6,738.4 L352.9,735.4 L353.3,732.4 L353.9,729.4 L354.7,726.4 L355.7,723.6 L357.0,720.9 L358.7,718.5Z" fill="none" stroke="#181818" stroke-width="3.1"/>
<clipPath id="c3"><path d="M359.0,599.2 L361.3,597.2 L363.7,595.5 L366.4,594.0 L369.1,592.7 L371.9,591.5 L374.7,590.4 L377.6,589.4 L380.5,588.5 L383.5,587.7 L386.4,587.0 L389.4,586.3 L392.4,585.6 L395.4,585.0 L398.4,584.5 L401.4,584.0 L404.4,583.5 L407.4,583.1 L410.5,582.8 L413.5,582.5 L416.5,582.2 L419.6,582.0 L422.6,581.8 L425.7,581.7 L428.7,581.6 L431.8,581.5 L434.8,581.5 L437.9,581.5 L440.9,581.6 L444.0,581.6 L447.0,581.7 L450.1,581.9 L453.1,582.2 L456.1,582.5 L459.2,582.9 L462.2,583.4 L465.2,584.0 L468.1,584.6 L471.1,585.4 L474.0,586.2 L476.9,587.2 L479.7,588.3 L482.5,589.5 L485.2,590.9 L487.9,592.4 L490.5,594.0 L492.9,595.8 L495.3,597.7 L497.6,599.7 L499.8,601.8 L501.9,604.0 L503.9,606.3 L505.7,608.8 L507.3,611.3 L508.9,613.9 L510.3,616.6 L511.6,619.4 L512.9,622.2 L514.0,625.0 L515.0,627.9 L515.9,630.8 L516.6,633.7 L517.1,636.7 L517.5,639.7 L517.8,642.8 L517.9,645.8 L517.8,648.8 L517.6,651.9 L517.2,654.9 L516.6,657.9 L515.8,660.8 L514.9,663.7 L513.8,666.5 L512.5,669.3 L511.1,672.0 L509.6,674.6 L507.9,677.2 L506.1,679.6 L504.2,682.0 L502.1,684.2 L499.9,686.3 L497.6,688.3 L495.2,690.1 L492.7,691.8 L490.0,693.3 L487.3,694.7 L484.5,695.9 L481.7,697.0 L478.8,698.0 L475.9,698.9 L472.9,699.7 L470.0,700.5 L467.0,701.2 L464.1,701.9 L461.1,702.5 L458.1,703.1 L455.1,703.6 L452.0,704.0 L449.0,704.3 L446.0,704.6 L442.9,704.9 L439.9,705.1 L436.8,705.3 L433.8,705.4 L430.8,705.6 L427.7,705.7 L424.7,705.7 L421.6,705.8 L418.5,705.8 L415.5,705.8 L412.4,705.7 L409.4,705.6 L406.4,705.5 L403.3,705.3 L400.3,705.1 L397.2,704.8 L394.2,704.5 L391.2,704.1 L388.2,703.6 L385.2,703.1 L382.2,702.5 L379.2,701.8 L376.3,701.0 L373.3,700.1 L370.5,699.1 L367.7,697.9 L364.9,696.7 L362.4,695.2 L360.1,693.3 L358.3,691.1 L357.0,688.5 L356.1,685.7 L355.4,682.7 L354.9,679.7 L354.5,676.7 L354.2,673.7 L353.9,670.6 L353.6,667.6 L353.4,664.5 L353.1,661.5 L352.9,658.4 L352.7,655.4 L352.5,652.4 L352.4,649.3 L352.2,646.3 L352.1,643.2 L352.1,640.2 L352.0,637.1 L352.0,634.1 L352.0,631.0 L352.1,628.0 L352.3,624.9 L352.5,621.9 L352.7,618.8 L353.1,615.8 L353.6,612.8 L354.1,609.8 L354.8,606.9 L355.8,604.1 L357.2,601.5Z"/></clipPath>
<path d="M359.0,599.2 L361.3,597.2 L363.7,595.5 L366.4,594.0 L369.1,592.7 L371.9,591.5 L374.7,590.4 L377.6,589.4 L380.5,588.5 L383.5,587.7 L386.4,587.0 L389.4,586.3 L392.4,585.6 L395.4,585.0 L398.4,584.5 L401.4,584.0 L404.4,583.5 L407.4,583.1 L410.5,582.8 L413.5,582.5 L416.5,582.2 L419.6,582.0 L422.6,581.8 L425.7,581.7 L428.7,581.6 L431.8,581.5 L434.8,581.5 L437.9,581.5 L440.9,581.6 L444.0,581.6 L447.0,581.7 L450.1,581.9 L453.1,582.2 L456.1,582.5 L459.2,582.9 L462.2,583.4 L465.2,584.0 L468.1,584.6 L471.1,585.4 L474.0,586.2 L476.9,587.2 L479.7,588.3 L482.5,589.5 L485.2,590.9 L487.9,592.4 L490.5,594.0 L492.9,595.8 L495.3,597.7 L497.6,599.7 L499.8,601.8 L501.9,604.0 L503.9,606.3 L505.7,608.8 L507.3,611.3 L508.9,613.9 L510.3,616.6 L511.6,619.4 L512.9,622.2 L514.0,625.0 L515.0,627.9 L515.9,630.8 L516.6,633.7 L517.1,636.7 L517.5,639.7 L517.8,642.8 L517.9,645.8 L517.8,648.8 L517.6,651.9 L517.2,654.9 L516.6,657.9 L515.8,660.8 L514.9,663.7 L513.8,666.5 L512.5,669.3 L511.1,672.0 L509.6,674.6 L507.9,677.2 L506.1,679.6 L504.2,682.0 L502.1,684.2 L499.9,686.3 L497.6,688.3 L495.2,690.1 L492.7,691.8 L490.0,693.3 L487.3,694.7 L484.5,695.9 L481.7,697.0 L478.8,698.0 L475.9,698.9 L472.9,699.7 L470.0,700.5 L467.0,701.2 L464.1,701.9 L461.1,702.5 L458.1,703.1 L455.1,703.6 L452.0,704.0 L449.0,704.3 L446.0,704.6 L442.9,704.9 L439.9,705.1 L436.8,705.3 L433.8,705.4 L430.8,705.6 L427.7,705.7 L424.7,705.7 L421.6,705.8 L418.5,705.8 L415.5,705.8 L412.4,705.7 L409.4,705.6 L406.4,705.5 L403.3,705.3 L400.3,705.1 L397.2,704.8 L394.2,704.5 L391.2,704.1 L388.2,703.6 L385.2,703.1 L382.2,702.5 L379.2,701.8 L376.3,701.0 L373.3,700.1 L370.5,699.1 L367.7,697.9 L364.9,696.7 L362.4,695.2 L360.1,693.3 L358.3,691.1 L357.0,688.5 L356.1,685.7 L355.4,682.7 L354.9,679.7 L354.5,676.7 L354.2,673.7 L353.9,670.6 L353.6,667.6 L353.4,664.5 L353.1,661.5 L352.9,658.4 L352.7,655.4 L352.5,652.4 L352.4,649.3 L352.2,646.3 L352.1,643.2 L352.1,640.2 L352.0,637.1 L352.0,634.1 L352.0,631.0 L352.1,628.0 L352.3,624.9 L352.5,621.9 L352.7,618.8 L353.1,615.8 L353.6,612.8 L354.1,609.8 L354.8,606.9 L355.8,604.1 L357.2,601.5Z" fill="#b8d2b4"/>
<g clip-path="url(#c3)"><path d="M359.0,599.2 L361.3,597.2 L363.7,595.5 L366.4,594.0 L369.1,592.7 L371.9,591.5 L374.7,590.4 L377.6,589.4 L380.5,588.5 L383.5,587.7 L386.4,587.0 L389.4,586.3 L392.4,585.6 L395.4,585.0 L398.4,584.5 L401.4,584.0 L404.4,583.5 L407.4,583.1 L410.5,582.8 L413.5,582.5 L416.5,582.2 L419.6,582.0 L422.6,581.8 L425.7,581.7 L428.7,581.6 L431.8,581.5 L434.8,581.5 L437.9,581.5 L440.9,581.6 L444.0,581.6 L447.0,581.7 L450.1,581.9 L453.1,582.2 L456.1,582.5 L459.2,582.9 L462.2,583.4 L465.2,584.0 L468.1,584.6 L471.1,585.4 L474.0,586.2 L476.9,587.2 L479.7,588.3 L482.5,589.5 L485.2,590.9 L487.9,592.4 L490.5,594.0 L492.9,595.8 L495.3,597.7 L497.6,599.7 L499.8,601.8 L501.9,604.0 L503.9,606.3 L505.7,608.8 L507.3,611.3 L508.9,613.9 L510.3,616.6 L511.6,619.4 L512.9,622.2 L514.0,625.0 L515.0,627.9 L515.9,630.8 L516.6,633.7 L517.1,636.7 L517.5,639.7 L517.8,642.8 L517.9,645.8 L517.8,648.8 L517.6,651.9 L517.2,654.9 L516.6,657.9 L515.8,660.8 L514.9,663.7 L513.8,666.5 L512.5,669.3 L511.1,672.0 L509.6,674.6 L507.9,677.2 L506.1,679.6 L504.2,682.0 L502.1,684.2 L499.9,686.3 L497.6,688.3 L495.2,690.1 L492.7,691.8 L490.0,693.3 L487.3,694.7 L484.5,695.9 L481.7,697.0 L478.8,698.0 L475.9,698.9 L472.9,699.7 L470.0,700.5 L467.0,701.2 L464.1,701.9 L461.1,702.5 L458.1,703.1 L455.1,703.6 L452.0,704.0 L449.0,704.3 L446.0,704.6 L442.9,704.9 L439.9,705.1 L436.8,705.3 L433.8,705.4 L430.8,705.6 L427.7,705.7 L424.7,705.7 L421.6,705.8 L418.5,705.8 L415.5,705.8 L412.4,705.7 L409.4,705.6 L406.4,705.5 L403.3,705.3 L400.3,705.1 L397.2,704.8 L394.2,704.5 L391.2,704.1 L388.2,703.6 L385.2,703.1 L382.2,702.5 L379.2,701.8 L376.3,701.0 L373.3,700.1 L370.5,699.1 L367.7,697.9 L364.9,696.7 L362.4,695.2 L360.1,693.3 L358.3,691.1 L357.0,688.5 L356.1,685.7 L355.4,682.7 L354.9,679.7 L354.5,676.7 L354.2,673.7 L353.9,670.6 L353.6,667.6 L353.4,664.5 L353.1,661.5 L352.9,658.4 L352.7,655.4 L352.5,652.4 L352.4,649.3 L352.2,646.3 L352.1,643.2 L352.1,640.2 L352.0,637.1 L352.0,634.1 L352.0,631.0 L352.1,628.0 L352.3,624.9 L352.5,621.9 L352.7,618.8 L353.1,615.8 L353.6,612.8 L354.1,609.8 L354.8,606.9 L355.8,604.1 L357.2,601.5Z" transform="translate(6 0)" fill="none" stroke="#7a9e80" stroke-width="1.3" opacity="0.45"/><path d="M359.0,599.2 L361.3,597.2 L363.7,595.5 L366.4,594.0 L369.1,592.7 L371.9,591.5 L374.7,590.4 L377.6,589.4 L380.5,588.5 L383.5,587.7 L386.4,587.0 L389.4,586.3 L392.4,585.6 L395.4,585.0 L398.4,584.5 L401.4,584.0 L404.4,583.5 L407.4,583.1 L410.5,582.8 L413.5,582.5 L416.5,582.2 L419.6,582.0 L422.6,581.8 L425.7,581.7 L428.7,581.6 L431.8,581.5 L434.8,581.5 L437.9,581.5 L440.9,581.6 L444.0,581.6 L447.0,581.7 L450.1,581.9 L453.1,582.2 L456.1,582.5 L459.2,582.9 L462.2,583.4 L465.2,584.0 L468.1,584.6 L471.1,585.4 L474.0,586.2 L476.9,587.2 L479.7,588.3 L482.5,589.5 L485.2,590.9 L487.9,592.4 L490.5,594.0 L492.9,595.8 L495.3,597.7 L497.6,599.7 L499.8,601.8 L501.9,604.0 L503.9,606.3 L505.7,608.8 L507.3,611.3 L508.9,613.9 L510.3,616.6 L511.6,619.4 L512.9,622.2 L514.0,625.0 L515.0,627.9 L515.9,630.8 L516.6,633.7 L517.1,636.7 L517.5,639.7 L517.8,642.8 L517.9,645.8 L517.8,648.8 L517.6,651.9 L517.2,654.9 L516.6,657.9 L515.8,660.8 L514.9,663.7 L513.8,666.5 L512.5,669.3 L511.1,672.0 L509.6,674.6 L507.9,677.2 L506.1,679.6 L504.2,682.0 L502.1,684.2 L499.9,686.3 L497.6,688.3 L495.2,690.1 L492.7,691.8 L490.0,693.3 L487.3,694.7 L484.5,695.9 L481.7,697.0 L478.8,698.0 L475.9,698.9 L472.9,699.7 L470.0,700.5 L467.0,701.2 L464.1,701.9 L461.1,702.5 L458.1,703.1 L455.1,703.6 L452.0,704.0 L449.0,704.3 L446.0,704.6 L442.9,704.9 L439.9,705.1 L436.8,705.3 L433.8,705.4 L430.8,705.6 L427.7,705.7 L424.7,705.7 L421.6,705.8 L418.5,705.8 L415.5,705.8 L412.4,705.7 L409.4,705.6 L406.4,705.5 L403.3,705.3 L400.3,705.1 L397.2,704.8 L394.2,704.5 L391.2,704.1 L388.2,703.6 L385.2,703.1 L382.2,702.5 L379.2,701.8 L376.3,701.0 L373.3,700.1 L370.5,699.1 L367.7,697.9 L364.9,696.7 L362.4,695.2 L360.1,693.3 L358.3,691.1 L357.0,688.5 L356.1,685.7 L355.4,682.7 L354.9,679.7 L354.5,676.7 L354.2,673.7 L353.9,670.6 L353.6,667.6 L353.4,664.5 L353.1,661.5 L352.9,658.4 L352.7,655.4 L352.5,652.4 L352.4,649.3 L352.2,646.3 L352.1,643.2 L352.1,640.2 L352.0,637.1 L352.0,634.1 L352.0,631.0 L352.1,628.0 L352.3,624.9 L352.5,621.9 L352.7,618.8 L353.1,615.8 L353.6,612.8 L354.1,609.8 L354.8,606.9 L355.8,604.1 L357.2,601.5Z" transform="translate(12 0)" fill="#cfe3cc" stroke="#5f8466" stroke-width="2.1"/><path d="M378.3,606.1 L379.4,605.1 L381.0,604.0 L383.0,602.9 L385.3,601.8 L387.7,600.8 L390.2,599.8 L392.7,598.9 L395.4,598.1 L398.0,597.4 L400.8,596.7 L403.6,596.0 L406.4,595.4 L409.2,594.9 L412.1,594.4 L415.0,593.9 L417.8,593.4 L420.7,593.1 L423.6,592.7 L426.4,592.4 L429.3,592.2 L432.2,592.0 L435.1,591.8 L438.0,591.7 L441.0,591.6 L443.9,591.5 L446.9,591.5 L449.8,591.5 L452.8,591.6 L455.7,591.6 L458.6,591.7 L461.4,591.9 L464.2,592.1 L466.9,592.4 L469.7,592.8 L472.4,593.2 L475.1,593.7 L477.8,594.3 L480.4,595.0 L483.0,595.8 L485.5,596.6 L487.9,597.6 L490.3,598.6 L492.5,599.7 L494.7,601.0 L496.9,602.3 L499.0,603.8 L501.0,605.4 L502.9,607.1 L504.7,608.8 L506.4,610.6 L508.0,612.5 L509.5,614.5 L510.9,616.6 L512.2,618.8 L513.4,621.1 L514.6,623.5 L515.6,626.0 L516.6,628.5 L517.5,630.9 L518.2,633.4 L518.8,635.8 L519.3,638.3 L519.6,640.8 L519.8,643.3 L519.9,645.8 L519.8,648.4 L519.6,650.8 L519.3,653.3 L518.8,655.6 L518.2,658.0 L517.5,660.3 L516.5,662.6 L515.5,664.9 L514.3,667.2 L513.1,669.4 L511.7,671.5 L510.2,673.5 L508.6,675.4 L506.9,677.2 L505.2,678.9 L503.4,680.5 L501.4,682.0 L499.4,683.3 L497.3,684.5 L495.1,685.6 L492.7,686.6 L490.2,687.6 L487.7,688.5 L485.0,689.3 L482.3,690.1 L479.5,690.8 L476.7,691.5 L473.9,692.1 L471.1,692.7 L468.4,693.2 L465.6,693.7 L462.8,694.1 L460.0,694.4 L457.1,694.7 L454.2,694.9 L451.3,695.1 L448.3,695.3 L445.3,695.4 L442.4,695.6 L439.4,695.7 L436.4,695.8 L433.5,695.8 L430.6,695.8 L427.6,695.8 L424.7,695.7 L421.8,695.7 L418.9,695.5 L416.0,695.4 L413.1,695.1 L410.3,694.9 L407.4,694.5 L404.6,694.2 L401.8,693.7 L399.0,693.3 L396.3,692.7 L393.6,692.1 L391.1,691.4 L388.6,690.6 L386.1,689.7 L383.6,688.7 L381.5,687.8 L380.0,687.0 L379.2,686.3 L378.7,685.7 L378.2,684.6 L377.7,683.0 L377.2,680.8 L376.8,678.2 L376.4,675.5 L376.1,672.6 L375.8,669.7 L375.6,666.7 L375.3,663.7 L375.1,660.7 L374.9,657.7 L374.7,654.8 L374.5,651.8 L374.3,648.8 L374.2,645.9 L374.1,642.9 L374.0,640.0 L374.0,637.0 L374.0,634.1 L374.0,631.2 L374.1,628.3 L374.2,625.5 L374.4,622.7 L374.7,619.9 L375.0,617.2 L375.4,614.5 L375.9,611.9 L376.4,609.7 L377.0,608.1 L377.6,607.0Z" fill="none" stroke="#7a9e80" stroke-width="1.7" opacity="0.75"/><path d="M361.9,602.0 L363.7,600.4 L365.9,598.9 L368.2,597.6 L370.8,596.3 L373.4,595.2 L376.1,594.2 L378.9,593.2 L381.7,592.4 L384.5,591.6 L387.4,590.8 L390.3,590.2 L393.2,589.6 L396.1,589.0 L399.1,588.4 L402.0,587.9 L405.0,587.5 L407.9,587.1 L410.9,586.7 L413.9,586.4 L416.8,586.2 L419.8,586.0 L422.8,585.8 L425.8,585.7 L428.8,585.6 L431.8,585.5 L434.8,585.5 L437.9,585.5 L440.9,585.6 L443.9,585.6 L446.8,585.7 L449.8,585.9 L452.7,586.1 L455.7,586.4 L458.6,586.8 L461.5,587.3 L464.3,587.9 L467.2,588.5 L470.0,589.2 L472.8,590.1 L475.5,591.0 L478.2,592.0 L480.8,593.2 L483.4,594.4 L485.8,595.8 L488.2,597.4 L490.5,599.0 L492.8,600.8 L494.9,602.6 L497.0,604.6 L498.9,606.7 L500.7,608.8 L502.4,611.1 L504.0,613.4 L505.4,615.9 L506.7,618.4 L508.0,621.0 L509.2,623.7 L510.2,626.4 L511.2,629.1 L512.0,631.8 L512.7,634.6 L513.2,637.3 L513.6,640.1 L513.8,643.0 L513.9,645.8 L513.8,648.6 L513.6,651.5 L513.2,654.2 L512.7,657.0 L512.0,659.7 L511.1,662.3 L510.1,665.0 L508.9,667.6 L507.6,670.1 L506.2,672.5 L504.6,674.9 L502.9,677.2 L501.2,679.4 L499.2,681.4 L497.2,683.4 L495.1,685.2 L492.9,686.9 L490.6,688.4 L488.1,689.8 L485.6,691.0 L483.0,692.2 L480.3,693.2 L477.5,694.2 L474.7,695.0 L471.9,695.9 L469.0,696.6 L466.1,697.3 L463.2,698.0 L460.3,698.6 L457.4,699.1 L454.5,699.6 L451.5,700.0 L448.6,700.4 L445.6,700.6 L442.6,700.9 L439.6,701.1 L436.6,701.3 L433.6,701.4 L430.6,701.6 L427.6,701.7 L424.6,701.7 L421.6,701.8 L418.6,701.8 L415.5,701.8 L412.5,701.7 L409.5,701.7 L406.6,701.5 L403.6,701.3 L400.6,701.1 L397.6,700.8 L394.7,700.5 L391.7,700.1 L388.8,699.7 L385.9,699.2 L383.0,698.6 L380.2,697.9 L377.4,697.2 L374.6,696.3 L371.9,695.3 L369.3,694.3 L366.8,693.1 L364.6,691.9 L363.0,690.5 L361.7,688.9 L360.7,686.9 L359.9,684.6 L359.3,681.9 L358.8,679.1 L358.5,676.2 L358.1,673.2 L357.9,670.3 L357.6,667.2 L357.4,664.2 L357.1,661.2 L356.9,658.2 L356.7,655.1 L356.5,652.1 L356.3,649.1 L356.2,646.1 L356.1,643.1 L356.1,640.1 L356.0,637.1 L356.0,634.1 L356.0,631.1 L356.1,628.1 L356.3,625.1 L356.5,622.2 L356.7,619.3 L357.1,616.4 L357.5,613.5 L358.0,610.6 L358.7,608.0 L359.5,605.7 L360.5,603.7Z" fill="none" stroke="#ffffff" stroke-width="2" opacity="0.3"/></g>
<path d="M359.0,599.2 L361.3,597.2 L363.7,595.5 L366.4,594.0 L369.1,592.7 L371.9,591.5 L374.7,590.4 L377.6,589.4 L380.5,588.5 L383.5,587.7 L386.4,587.0 L389.4,586.3 L392.4,585.6 L395.4,585.0 L398.4,584.5 L401.4,584.0 L404.4,583.5 L407.4,583.1 L410.5,582.8 L413.5,582.5 L416.5,582.2 L419.6,582.0 L422.6,581.8 L425.7,581.7 L428.7,581.6 L431.8,581.5 L434.8,581.5 L437.9,581.5 L440.9,581.6 L444.0,581.6 L447.0,581.7 L450.1,581.9 L453.1,582.2 L456.1,582.5 L459.2,582.9 L462.2,583.4 L465.2,584.0 L468.1,584.6 L471.1,585.4 L474.0,586.2 L476.9,587.2 L479.7,588.3 L482.5,589.5 L485.2,590.9 L487.9,592.4 L490.5,594.0 L492.9,595.8 L495.3,597.7 L497.6,599.7 L499.8,601.8 L501.9,604.0 L503.9,606.3 L505.7,608.8 L507.3,611.3 L508.9,613.9 L510.3,616.6 L511.6,619.4 L512.9,622.2 L514.0,625.0 L515.0,627.9 L515.9,630.8 L516.6,633.7 L517.1,636.7 L517.5,639.7 L517.8,642.8 L517.9,645.8 L517.8,648.8 L517.6,651.9 L517.2,654.9 L516.6,657.9 L515.8,660.8 L514.9,663.7 L513.8,666.5 L512.5,669.3 L511.1,672.0 L509.6,674.6 L507.9,677.2 L506.1,679.6 L504.2,682.0 L502.1,684.2 L499.9,686.3 L497.6,688.3 L495.2,690.1 L492.7,691.8 L490.0,693.3 L487.3,694.7 L484.5,695.9 L481.7,697.0 L478.8,698.0 L475.9,698.9 L472.9,699.7 L470.0,700.5 L467.0,701.2 L464.1,701.9 L461.1,702.5 L458.1,703.1 L455.1,703.6 L452.0,704.0 L449.0,704.3 L446.0,704.6 L442.9,704.9 L439.9,705.1 L436.8,705.3 L433.8,705.4 L430.8,705.6 L427.7,705.7 L424.7,705.7 L421.6,705.8 L418.5,705.8 L415.5,705.8 L412.4,705.7 L409.4,705.6 L406.4,705.5 L403.3,705.3 L400.3,705.1 L397.2,704.8 L394.2,704.5 L391.2,704.1 L388.2,703.6 L385.2,703.1 L382.2,702.5 L379.2,701.8 L376.3,701.0 L373.3,700.1 L370.5,699.1 L367.7,697.9 L364.9,696.7 L362.4,695.2 L360.1,693.3 L358.3,691.1 L357.0,688.5 L356.1,685.7 L355.4,682.7 L354.9,679.7 L354.5,676.7 L354.2,673.7 L353.9,670.6 L353.6,667.6 L353.4,664.5 L353.1,661.5 L352.9,658.4 L352.7,655.4 L352.5,652.4 L352.4,649.3 L352.2,646.3 L352.1,643.2 L352.1,640.2 L352.0,637.1 L352.0,634.1 L352.0,631.0 L352.1,628.0 L352.3,624.9 L352.5,621.9 L352.7,618.8 L353.1,615.8 L353.6,612.8 L354.1,609.8 L354.8,606.9 L355.8,604.1 L357.2,601.5Z" fill="none" stroke="#181818" stroke-width="3.1"/>
<clipPath id="c4"><path d="M198.3,836.6 L201.6,836.1 L205.0,835.8 L208.4,835.6 L211.8,835.5 L215.2,835.4 L218.6,835.4 L222.0,835.3 L225.4,835.2 L228.8,835.2 L232.2,835.1 L235.6,835.0 L239.0,834.9 L242.4,834.8 L245.8,834.7 L249.2,834.7 L252.6,834.6 L256.0,834.5 L259.4,834.4 L262.8,834.3 L266.2,834.2 L269.6,834.1 L273.0,833.9 L276.4,833.8 L279.8,833.6 L283.1,833.4 L286.5,833.2 L289.9,833.0 L293.3,832.8 L296.7,832.6 L300.1,832.4 L303.5,832.2 L306.9,832.0 L310.3,831.9 L313.7,831.9 L317.1,831.9 L320.5,831.9 L323.9,832.0 L327.3,832.2 L330.7,832.5 L334.0,832.9 L337.4,833.5 L340.7,834.4 L343.9,835.4 L347.0,836.7 L350.0,838.3 L352.8,840.1 L355.5,842.2 L358.0,844.4 L360.3,846.9 L362.4,849.5 L364.3,852.3 L366.0,855.2 L367.6,858.2 L368.9,861.3 L370.1,864.5 L371.2,867.7 L372.1,871.0 L372.8,874.3 L373.3,877.7 L373.7,881.0 L373.9,884.4 L373.8,887.8 L373.5,891.2 L373.0,894.5 L372.3,897.8 L371.4,901.1 L370.3,904.3 L369.0,907.4 L367.5,910.5 L365.8,913.4 L364.0,916.2 L361.9,919.0 L359.8,921.6 L357.5,924.0 L355.0,926.4 L352.4,928.5 L349.7,930.5 L346.8,932.3 L343.8,933.9 L340.8,935.4 L337.6,936.7 L334.5,937.9 L331.2,939.0 L328.0,940.0 L324.7,940.9 L321.5,941.8 L318.2,942.6 L314.8,943.4 L311.5,944.1 L308.2,944.8 L304.8,945.4 L301.5,946.0 L298.1,946.6 L294.8,947.0 L291.4,947.5 L288.0,947.9 L284.6,948.2 L281.3,948.5 L277.9,948.8 L274.5,949.1 L271.1,949.3 L267.7,949.5 L264.3,949.6 L260.9,949.7 L257.5,949.8 L254.1,949.8 L250.7,949.7 L247.3,949.5 L243.9,949.3 L240.5,949.0 L237.1,948.7 L233.8,948.3 L230.4,947.9 L227.0,947.4 L223.6,946.9 L220.3,946.4 L216.9,945.9 L213.6,945.2 L210.3,944.5 L207.0,943.7 L203.7,942.7 L200.6,941.5 L197.5,940.1 L194.6,938.4 L191.8,936.5 L189.1,934.4 L186.6,932.2 L184.3,929.7 L182.1,927.1 L180.1,924.4 L178.2,921.6 L176.5,918.7 L175.0,915.6 L173.8,912.5 L172.6,909.3 L171.7,906.0 L171.0,902.7 L170.4,899.4 L170.1,896.0 L169.9,892.6 L169.9,889.2 L170.0,885.8 L170.2,882.4 L170.6,879.1 L171.1,875.7 L171.7,872.4 L172.4,869.0 L173.2,865.8 L174.2,862.5 L175.3,859.3 L176.7,856.2 L178.3,853.2 L180.1,850.4 L182.1,847.7 L184.3,845.1 L186.7,842.7 L189.2,840.6 L192.0,838.8 L195.1,837.5Z"/></clipPath>
<path d="M198.3,836.6 L201.6,836.1 L205.0,835.8 L208.4,835.6 L211.8,835.5 L215.2,835.4 L218.6,835.4 L222.0,835.3 L225.4,835.2 L228.8,835.2 L232.2,835.1 L235.6,835.0 L239.0,834.9 L242.4,834.8 L245.8,834.7 L249.2,834.7 L252.6,834.6 L256.0,834.5 L259.4,834.4 L262.8,834.3 L266.2,834.2 L269.6,834.1 L273.0,833.9 L276.4,833.8 L279.8,833.6 L283.1,833.4 L286.5,833.2 L289.9,833.0 L293.3,832.8 L296.7,832.6 L300.1,832.4 L303.5,832.2 L306.9,832.0 L310.3,831.9 L313.7,831.9 L317.1,831.9 L320.5,831.9 L323.9,832.0 L327.3,832.2 L330.7,832.5 L334.0,832.9 L337.4,833.5 L340.7,834.4 L343.9,835.4 L347.0,836.7 L350.0,838.3 L352.8,840.1 L355.5,842.2 L358.0,844.4 L360.3,846.9 L362.4,849.5 L364.3,852.3 L366.0,855.2 L367.6,858.2 L368.9,861.3 L370.1,864.5 L371.2,867.7 L372.1,871.0 L372.8,874.3 L373.3,877.7 L373.7,881.0 L373.9,884.4 L373.8,887.8 L373.5,891.2 L373.0,894.5 L372.3,897.8 L371.4,901.1 L370.3,904.3 L369.0,907.4 L367.5,910.5 L365.8,913.4 L364.0,916.2 L361.9,919.0 L359.8,921.6 L357.5,924.0 L355.0,926.4 L352.4,928.5 L349.7,930.5 L346.8,932.3 L343.8,933.9 L340.8,935.4 L337.6,936.7 L334.5,937.9 L331.2,939.0 L328.0,940.0 L324.7,940.9 L321.5,941.8 L318.2,942.6 L314.8,943.4 L311.5,944.1 L308.2,944.8 L304.8,945.4 L301.5,946.0 L298.1,946.6 L294.8,947.0 L291.4,947.5 L288.0,947.9 L284.6,948.2 L281.3,948.5 L277.9,948.8 L274.5,949.1 L271.1,949.3 L267.7,949.5 L264.3,949.6 L260.9,949.7 L257.5,949.8 L254.1,949.8 L250.7,949.7 L247.3,949.5 L243.9,949.3 L240.5,949.0 L237.1,948.7 L233.8,948.3 L230.4,947.9 L227.0,947.4 L223.6,946.9 L220.3,946.4 L216.9,945.9 L213.6,945.2 L210.3,944.5 L207.0,943.7 L203.7,942.7 L200.6,941.5 L197.5,940.1 L194.6,938.4 L191.8,936.5 L189.1,934.4 L186.6,932.2 L184.3,929.7 L182.1,927.1 L180.1,924.4 L178.2,921.6 L176.5,918.7 L175.0,915.6 L173.8,912.5 L172.6,909.3 L171.7,906.0 L171.0,902.7 L170.4,899.4 L170.1,896.0 L169.9,892.6 L169.9,889.2 L170.0,885.8 L170.2,882.4 L170.6,879.1 L171.1,875.7 L171.7,872.4 L172.4,869.0 L173.2,865.8 L174.2,862.5 L175.3,859.3 L176.7,856.2 L178.3,853.2 L180.1,850.4 L182.1,847.7 L184.3,845.1 L186.7,842.7 L189.2,840.6 L192.0,838.8 L195.1,837.5Z" fill="#b8d2b4"/>
<g clip-path="url(#c4)"><path d="M198.3,836.6 L201.6,836.1 L205.0,835.8 L208.4,835.6 L211.8,835.5 L215.2,835.4 L218.6,835.4 L222.0,835.3 L225.4,835.2 L228.8,835.2 L232.2,835.1 L235.6,835.0 L239.0,834.9 L242.4,834.8 L245.8,834.7 L249.2,834.7 L252.6,834.6 L256.0,834.5 L259.4,834.4 L262.8,834.3 L266.2,834.2 L269.6,834.1 L273.0,833.9 L276.4,833.8 L279.8,833.6 L283.1,833.4 L286.5,833.2 L289.9,833.0 L293.3,832.8 L296.7,832.6 L300.1,832.4 L303.5,832.2 L306.9,832.0 L310.3,831.9 L313.7,831.9 L317.1,831.9 L320.5,831.9 L323.9,832.0 L327.3,832.2 L330.7,832.5 L334.0,832.9 L337.4,833.5 L340.7,834.4 L343.9,835.4 L347.0,836.7 L350.0,838.3 L352.8,840.1 L355.5,842.2 L358.0,844.4 L360.3,846.9 L362.4,849.5 L364.3,852.3 L366.0,855.2 L367.6,858.2 L368.9,861.3 L370.1,864.5 L371.2,867.7 L372.1,871.0 L372.8,874.3 L373.3,877.7 L373.7,881.0 L373.9,884.4 L373.8,887.8 L373.5,891.2 L373.0,894.5 L372.3,897.8 L371.4,901.1 L370.3,904.3 L369.0,907.4 L367.5,910.5 L365.8,913.4 L364.0,916.2 L361.9,919.0 L359.8,921.6 L357.5,924.0 L355.0,926.4 L352.4,928.5 L349.7,930.5 L346.8,932.3 L343.8,933.9 L340.8,935.4 L337.6,936.7 L334.5,937.9 L331.2,939.0 L328.0,940.0 L324.7,940.9 L321.5,941.8 L318.2,942.6 L314.8,943.4 L311.5,944.1 L308.2,944.8 L304.8,945.4 L301.5,946.0 L298.1,946.6 L294.8,947.0 L291.4,947.5 L288.0,947.9 L284.6,948.2 L281.3,948.5 L277.9,948.8 L274.5,949.1 L271.1,949.3 L267.7,949.5 L264.3,949.6 L260.9,949.7 L257.5,949.8 L254.1,949.8 L250.7,949.7 L247.3,949.5 L243.9,949.3 L240.5,949.0 L237.1,948.7 L233.8,948.3 L230.4,947.9 L227.0,947.4 L223.6,946.9 L220.3,946.4 L216.9,945.9 L213.6,945.2 L210.3,944.5 L207.0,943.7 L203.7,942.7 L200.6,941.5 L197.5,940.1 L194.6,938.4 L191.8,936.5 L189.1,934.4 L186.6,932.2 L184.3,929.7 L182.1,927.1 L180.1,924.4 L178.2,921.6 L176.5,918.7 L175.0,915.6 L173.8,912.5 L172.6,909.3 L171.7,906.0 L171.0,902.7 L170.4,899.4 L170.1,896.0 L169.9,892.6 L169.9,889.2 L170.0,885.8 L170.2,882.4 L170.6,879.1 L171.1,875.7 L171.7,872.4 L172.4,869.0 L173.2,865.8 L174.2,862.5 L175.3,859.3 L176.7,856.2 L178.3,853.2 L180.1,850.4 L182.1,847.7 L184.3,845.1 L186.7,842.7 L189.2,840.6 L192.0,838.8 L195.1,837.5Z" transform="translate(11 0)" fill="none" stroke="#7a9e80" stroke-width="1.3" opacity="0.45"/><path d="M198.3,836.6 L201.6,836.1 L205.0,835.8 L208.4,835.6 L211.8,835.5 L215.2,835.4 L218.6,835.4 L222.0,835.3 L225.4,835.2 L228.8,835.2 L232.2,835.1 L235.6,835.0 L239.0,834.9 L242.4,834.8 L245.8,834.7 L249.2,834.7 L252.6,834.6 L256.0,834.5 L259.4,834.4 L262.8,834.3 L266.2,834.2 L269.6,834.1 L273.0,833.9 L276.4,833.8 L279.8,833.6 L283.1,833.4 L286.5,833.2 L289.9,833.0 L293.3,832.8 L296.7,832.6 L300.1,832.4 L303.5,832.2 L306.9,832.0 L310.3,831.9 L313.7,831.9 L317.1,831.9 L320.5,831.9 L323.9,832.0 L327.3,832.2 L330.7,832.5 L334.0,832.9 L337.4,833.5 L340.7,834.4 L343.9,835.4 L347.0,836.7 L350.0,838.3 L352.8,840.1 L355.5,842.2 L358.0,844.4 L360.3,846.9 L362.4,849.5 L364.3,852.3 L366.0,855.2 L367.6,858.2 L368.9,861.3 L370.1,864.5 L371.2,867.7 L372.1,871.0 L372.8,874.3 L373.3,877.7 L373.7,881.0 L373.9,884.4 L373.8,887.8 L373.5,891.2 L373.0,894.5 L372.3,897.8 L371.4,901.1 L370.3,904.3 L369.0,907.4 L367.5,910.5 L365.8,913.4 L364.0,916.2 L361.9,919.0 L359.8,921.6 L357.5,924.0 L355.0,926.4 L352.4,928.5 L349.7,930.5 L346.8,932.3 L343.8,933.9 L340.8,935.4 L337.6,936.7 L334.5,937.9 L331.2,939.0 L328.0,940.0 L324.7,940.9 L321.5,941.8 L318.2,942.6 L314.8,943.4 L311.5,944.1 L308.2,944.8 L304.8,945.4 L301.5,946.0 L298.1,946.6 L294.8,947.0 L291.4,947.5 L288.0,947.9 L284.6,948.2 L281.3,948.5 L277.9,948.8 L274.5,949.1 L271.1,949.3 L267.7,949.5 L264.3,949.6 L260.9,949.7 L257.5,949.8 L254.1,949.8 L250.7,949.7 L247.3,949.5 L243.9,949.3 L240.5,949.0 L237.1,948.7 L233.8,948.3 L230.4,947.9 L227.0,947.4 L223.6,946.9 L220.3,946.4 L216.9,945.9 L213.6,945.2 L210.3,944.5 L207.0,943.7 L203.7,942.7 L200.6,941.5 L197.5,940.1 L194.6,938.4 L191.8,936.5 L189.1,934.4 L186.6,932.2 L184.3,929.7 L182.1,927.1 L180.1,924.4 L178.2,921.6 L176.5,918.7 L175.0,915.6 L173.8,912.5 L172.6,909.3 L171.7,906.0 L171.0,902.7 L170.4,899.4 L170.1,896.0 L169.9,892.6 L169.9,889.2 L170.0,885.8 L170.2,882.4 L170.6,879.1 L171.1,875.7 L171.7,872.4 L172.4,869.0 L173.2,865.8 L174.2,862.5 L175.3,859.3 L176.7,856.2 L178.3,853.2 L180.1,850.4 L182.1,847.7 L184.3,845.1 L186.7,842.7 L189.2,840.6 L192.0,838.8 L195.1,837.5Z" transform="translate(24 0)" fill="#cfe3cc" stroke="#5f8466" stroke-width="2.1"/><path d="M224.4,846.4 L226.9,846.0 L229.7,845.8 L232.8,845.6 L236.0,845.5 L239.3,845.4 L242.7,845.4 L246.2,845.3 L249.6,845.2 L253.0,845.2 L256.4,845.1 L259.8,845.0 L263.2,844.9 L266.6,844.8 L270.0,844.7 L273.4,844.7 L276.8,844.6 L280.2,844.5 L283.6,844.4 L287.1,844.3 L290.5,844.2 L293.9,844.1 L297.4,843.9 L300.8,843.8 L304.3,843.6 L307.7,843.4 L311.2,843.2 L314.6,843.0 L318.0,842.8 L321.3,842.6 L324.7,842.4 L328.0,842.2 L331.3,842.0 L334.6,841.9 L337.8,841.9 L341.0,841.9 L344.3,841.9 L347.5,842.0 L350.6,842.2 L353.6,842.5 L356.5,842.8 L359.3,843.3 L361.9,844.0 L364.4,844.8 L366.7,845.8 L368.9,846.9 L371.1,848.3 L373.1,849.8 L375.0,851.6 L376.8,853.4 L378.4,855.5 L379.9,857.7 L381.3,860.0 L382.5,862.5 L383.7,865.1 L384.7,867.8 L385.6,870.6 L386.3,873.4 L387.0,876.2 L387.4,879.0 L387.7,881.8 L387.9,884.5 L387.8,887.3 L387.6,890.0 L387.2,892.7 L386.6,895.4 L385.8,898.1 L384.9,900.8 L383.9,903.3 L382.7,905.8 L381.3,908.2 L379.8,910.5 L378.1,912.8 L376.3,914.9 L374.4,917.0 L372.4,918.9 L370.3,920.6 L368.1,922.2 L365.7,923.7 L363.3,925.0 L360.7,926.3 L357.9,927.4 L355.1,928.5 L352.1,929.5 L349.1,930.4 L346.1,931.3 L343.0,932.1 L339.8,932.9 L336.6,933.7 L333.5,934.4 L330.3,935.0 L327.1,935.6 L323.9,936.2 L320.7,936.7 L317.4,937.1 L314.2,937.5 L310.9,937.9 L307.6,938.3 L304.4,938.6 L301.1,938.9 L297.8,939.1 L294.5,939.3 L291.2,939.5 L287.9,939.6 L284.7,939.7 L281.4,939.8 L278.2,939.8 L275.0,939.7 L271.8,939.6 L268.6,939.4 L265.4,939.1 L262.2,938.8 L259.0,938.4 L255.7,938.0 L252.4,937.5 L249.1,937.0 L245.9,936.5 L242.7,936.0 L239.6,935.4 L236.6,934.8 L233.7,934.1 L231.0,933.2 L228.4,932.3 L226.1,931.2 L223.8,929.9 L221.7,928.5 L219.6,926.8 L217.6,925.0 L215.7,923.0 L213.9,920.9 L212.2,918.7 L210.7,916.4 L209.4,914.0 L208.2,911.5 L207.1,908.9 L206.2,906.3 L205.4,903.6 L204.8,900.8 L204.3,898.0 L204.0,895.2 L203.9,892.3 L203.9,889.4 L204.0,886.4 L204.2,883.4 L204.5,880.3 L205.0,877.3 L205.5,874.3 L206.1,871.3 L206.9,868.4 L207.7,865.6 L208.6,863.0 L209.7,860.6 L210.9,858.3 L212.3,856.0 L213.9,853.9 L215.7,851.9 L217.4,850.1 L219.1,848.7 L220.7,847.7 L222.4,847.0Z" fill="none" stroke="#7a9e80" stroke-width="1.7" opacity="0.75"/><path d="M199.1,840.6 L202.1,840.1 L205.3,839.8 L208.5,839.6 L211.9,839.5 L215.2,839.4 L218.6,839.4 L222.0,839.3 L225.5,839.2 L228.9,839.2 L232.3,839.1 L235.7,839.0 L239.1,838.9 L242.5,838.8 L245.9,838.7 L249.3,838.7 L252.7,838.6 L256.1,838.5 L259.5,838.4 L262.9,838.3 L266.3,838.2 L269.7,838.1 L273.1,837.9 L276.6,837.8 L280.0,837.6 L283.4,837.4 L286.8,837.2 L290.2,837.0 L293.6,836.8 L297.0,836.6 L300.3,836.4 L303.7,836.2 L307.1,836.0 L310.4,835.9 L313.7,835.9 L317.1,835.9 L320.4,835.9 L323.7,836.0 L327.0,836.2 L330.3,836.5 L333.4,836.9 L336.5,837.5 L339.5,838.2 L342.5,839.2 L345.3,840.3 L348.0,841.8 L350.5,843.4 L352.9,845.2 L355.2,847.3 L357.3,849.5 L359.2,851.9 L361.0,854.4 L362.5,857.1 L363.9,859.9 L365.2,862.8 L366.3,865.8 L367.3,868.9 L368.2,872.0 L368.9,875.1 L369.4,878.2 L369.7,881.3 L369.9,884.5 L369.8,887.6 L369.5,890.7 L369.1,893.8 L368.4,896.9 L367.6,899.9 L366.5,902.9 L365.3,905.8 L364.0,908.6 L362.4,911.3 L360.7,913.9 L358.8,916.5 L356.8,918.9 L354.6,921.2 L352.4,923.4 L350.0,925.4 L347.4,927.2 L344.8,928.9 L342.0,930.4 L339.1,931.7 L336.2,933.0 L333.1,934.1 L330.0,935.2 L326.9,936.2 L323.7,937.1 L320.5,938.0 L317.2,938.8 L314.0,939.5 L310.7,940.2 L307.4,940.9 L304.1,941.5 L300.8,942.1 L297.5,942.6 L294.2,943.1 L290.9,943.5 L287.6,943.9 L284.2,944.2 L280.9,944.6 L277.5,944.8 L274.2,945.1 L270.8,945.3 L267.5,945.5 L264.1,945.6 L260.8,945.7 L257.5,945.8 L254.1,945.8 L250.8,945.7 L247.5,945.5 L244.2,945.3 L240.9,945.1 L237.6,944.7 L234.2,944.3 L230.9,943.9 L227.6,943.5 L224.2,943.0 L220.9,942.5 L217.6,941.9 L214.4,941.3 L211.2,940.6 L208.1,939.8 L205.0,938.9 L202.1,937.8 L199.3,936.5 L196.7,935.0 L194.1,933.3 L191.7,931.4 L189.4,929.3 L187.3,927.0 L185.2,924.6 L183.3,922.1 L181.6,919.5 L180.1,916.8 L178.7,914.0 L177.5,911.1 L176.5,908.1 L175.6,905.0 L174.9,902.0 L174.4,898.8 L174.1,895.7 L173.9,892.5 L173.9,889.3 L174.0,886.1 L174.2,882.8 L174.6,879.6 L175.0,876.3 L175.6,873.1 L176.3,870.0 L177.1,866.8 L178.0,863.8 L179.1,860.8 L180.3,858.0 L181.7,855.3 L183.4,852.6 L185.2,850.2 L187.2,847.8 L189.4,845.7 L191.6,843.8 L193.9,842.4 L196.4,841.3Z" fill="none" stroke="#ffffff" stroke-width="2" opacity="0.3"/></g>
<path d="M198.3,836.6 L201.6,836.1 L205.0,835.8 L208.4,835.6 L211.8,835.5 L215.2,835.4 L218.6,835.4 L222.0,835.3 L225.4,835.2 L228.8,835.2 L232.2,835.1 L235.6,835.0 L239.0,834.9 L242.4,834.8 L245.8,834.7 L249.2,834.7 L252.6,834.6 L256.0,834.5 L259.4,834.4 L262.8,834.3 L266.2,834.2 L269.6,834.1 L273.0,833.9 L276.4,833.8 L279.8,833.6 L283.1,833.4 L286.5,833.2 L289.9,833.0 L293.3,832.8 L296.7,832.6 L300.1,832.4 L303.5,832.2 L306.9,832.0 L310.3,831.9 L313.7,831.9 L317.1,831.9 L320.5,831.9 L323.9,832.0 L327.3,832.2 L330.7,832.5 L334.0,832.9 L337.4,833.5 L340.7,834.4 L343.9,835.4 L347.0,836.7 L350.0,838.3 L352.8,840.1 L355.5,842.2 L358.0,844.4 L360.3,846.9 L362.4,849.5 L364.3,852.3 L366.0,855.2 L367.6,858.2 L368.9,861.3 L370.1,864.5 L371.2,867.7 L372.1,871.0 L372.8,874.3 L373.3,877.7 L373.7,881.0 L373.9,884.4 L373.8,887.8 L373.5,891.2 L373.0,894.5 L372.3,897.8 L371.4,901.1 L370.3,904.3 L369.0,907.4 L367.5,910.5 L365.8,913.4 L364.0,916.2 L361.9,919.0 L359.8,921.6 L357.5,924.0 L355.0,926.4 L352.4,928.5 L349.7,930.5 L346.8,932.3 L343.8,933.9 L340.8,935.4 L337.6,936.7 L334.5,937.9 L331.2,939.0 L328.0,940.0 L324.7,940.9 L321.5,941.8 L318.2,942.6 L314.8,943.4 L311.5,944.1 L308.2,944.8 L304.8,945.4 L301.5,946.0 L298.1,946.6 L294.8,947.0 L291.4,947.5 L288.0,947.9 L284.6,948.2 L281.3,948.5 L277.9,948.8 L274.5,949.1 L271.1,949.3 L267.7,949.5 L264.3,949.6 L260.9,949.7 L257.5,949.8 L254.1,949.8 L250.7,949.7 L247.3,949.5 L243.9,949.3 L240.5,949.0 L237.1,948.7 L233.8,948.3 L230.4,947.9 L227.0,947.4 L223.6,946.9 L220.3,946.4 L216.9,945.9 L213.6,945.2 L210.3,944.5 L207.0,943.7 L203.7,942.7 L200.6,941.5 L197.5,940.1 L194.6,938.4 L191.8,936.5 L189.1,934.4 L186.6,932.2 L184.3,929.7 L182.1,927.1 L180.1,924.4 L178.2,921.6 L176.5,918.7 L175.0,915.6 L173.8,912.5 L172.6,909.3 L171.7,906.0 L171.0,902.7 L170.4,899.4 L170.1,896.0 L169.9,892.6 L169.9,889.2 L170.0,885.8 L170.2,882.4 L170.6,879.1 L171.1,875.7 L171.7,872.4 L172.4,869.0 L173.2,865.8 L174.2,862.5 L175.3,859.3 L176.7,856.2 L178.3,853.2 L180.1,850.4 L182.1,847.7 L184.3,845.1 L186.7,842.7 L189.2,840.6 L192.0,838.8 L195.1,837.5Z" fill="none" stroke="#181818" stroke-width="3.1"/>
<clipPath id="c5"><path d="M200.4,724.8 L203.8,724.2 L207.2,723.6 L210.7,723.1 L214.1,722.7 L217.5,722.3 L221.0,721.9 L224.4,721.6 L227.8,721.3 L231.3,721.1 L234.7,720.8 L238.2,720.6 L241.6,720.4 L245.1,720.3 L248.6,720.1 L252.0,719.9 L255.5,719.8 L258.9,719.6 L262.4,719.5 L265.8,719.3 L269.3,719.1 L272.7,719.0 L276.2,718.8 L279.6,718.6 L283.1,718.4 L286.5,718.2 L290.0,718.0 L293.4,717.8 L296.9,717.6 L300.4,717.4 L303.8,717.2 L307.3,717.1 L310.7,717.0 L314.2,716.9 L317.6,716.8 L321.1,716.8 L324.5,716.9 L328.0,717.1 L331.4,717.4 L334.8,718.0 L338.1,718.8 L341.3,720.0 L344.4,721.5 L347.4,723.2 L350.3,725.1 L353.0,727.2 L355.5,729.5 L357.9,732.0 L360.1,734.6 L362.1,737.4 L364.0,740.3 L365.8,743.3 L367.4,746.3 L368.9,749.4 L370.2,752.6 L371.4,755.8 L372.5,759.1 L373.4,762.4 L374.2,765.8 L374.8,769.2 L375.3,772.6 L375.5,776.1 L375.6,779.5 L375.5,782.9 L375.2,786.4 L374.8,789.8 L374.1,793.2 L373.2,796.5 L372.1,799.8 L370.8,803.0 L369.4,806.1 L367.7,809.1 L365.8,812.0 L363.7,814.7 L361.4,817.2 L358.9,819.6 L356.3,821.8 L353.5,823.8 L350.6,825.6 L347.5,827.2 L344.3,828.5 L341.1,829.6 L337.8,830.6 L334.4,831.4 L331.0,832.1 L327.6,832.6 L324.2,833.1 L320.8,833.6 L317.4,834.0 L313.9,834.3 L310.5,834.6 L307.0,834.9 L303.6,835.2 L300.1,835.5 L296.7,835.7 L293.2,836.0 L289.8,836.2 L286.3,836.4 L282.9,836.6 L279.4,836.7 L276.0,836.8 L272.5,836.9 L269.1,837.0 L265.6,837.0 L262.1,837.0 L258.7,837.0 L255.2,837.0 L251.8,837.0 L248.3,837.0 L244.9,836.9 L241.4,836.8 L237.9,836.7 L234.5,836.6 L231.0,836.4 L227.6,836.2 L224.1,835.8 L220.7,835.4 L217.3,834.8 L213.9,834.1 L210.6,833.3 L207.3,832.3 L204.1,831.1 L200.9,829.7 L197.9,828.1 L195.0,826.3 L192.2,824.3 L189.6,822.1 L187.1,819.7 L184.8,817.1 L182.6,814.4 L180.6,811.6 L178.8,808.7 L177.1,805.7 L175.6,802.6 L174.2,799.4 L173.0,796.2 L172.0,792.9 L171.1,789.6 L170.4,786.2 L169.9,782.8 L169.5,779.4 L169.3,775.9 L169.3,772.5 L169.5,769.0 L169.9,765.6 L170.4,762.2 L171.2,758.8 L172.1,755.5 L173.1,752.2 L174.3,749.0 L175.6,745.8 L177.1,742.7 L178.8,739.7 L180.7,736.8 L182.8,734.2 L185.2,731.7 L187.9,729.6 L190.7,727.8 L193.8,726.4 L197.1,725.5Z"/></clipPath>
<path d="M200.4,724.8 L203.8,724.2 L207.2,723.6 L210.7,723.1 L214.1,722.7 L217.5,722.3 L221.0,721.9 L224.4,721.6 L227.8,721.3 L231.3,721.1 L234.7,720.8 L238.2,720.6 L241.6,720.4 L245.1,720.3 L248.6,720.1 L252.0,719.9 L255.5,719.8 L258.9,719.6 L262.4,719.5 L265.8,719.3 L269.3,719.1 L272.7,719.0 L276.2,718.8 L279.6,718.6 L283.1,718.4 L286.5,718.2 L290.0,718.0 L293.4,717.8 L296.9,717.6 L300.4,717.4 L303.8,717.2 L307.3,717.1 L310.7,717.0 L314.2,716.9 L317.6,716.8 L321.1,716.8 L324.5,716.9 L328.0,717.1 L331.4,717.4 L334.8,718.0 L338.1,718.8 L341.3,720.0 L344.4,721.5 L347.4,723.2 L350.3,725.1 L353.0,727.2 L355.5,729.5 L357.9,732.0 L360.1,734.6 L362.1,737.4 L364.0,740.3 L365.8,743.3 L367.4,746.3 L368.9,749.4 L370.2,752.6 L371.4,755.8 L372.5,759.1 L373.4,762.4 L374.2,765.8 L374.8,769.2 L375.3,772.6 L375.5,776.1 L375.6,779.5 L375.5,782.9 L375.2,786.4 L374.8,789.8 L374.1,793.2 L373.2,796.5 L372.1,799.8 L370.8,803.0 L369.4,806.1 L367.7,809.1 L365.8,812.0 L363.7,814.7 L361.4,817.2 L358.9,819.6 L356.3,821.8 L353.5,823.8 L350.6,825.6 L347.5,827.2 L344.3,828.5 L341.1,829.6 L337.8,830.6 L334.4,831.4 L331.0,832.1 L327.6,832.6 L324.2,833.1 L320.8,833.6 L317.4,834.0 L313.9,834.3 L310.5,834.6 L307.0,834.9 L303.6,835.2 L300.1,835.5 L296.7,835.7 L293.2,836.0 L289.8,836.2 L286.3,836.4 L282.9,836.6 L279.4,836.7 L276.0,836.8 L272.5,836.9 L269.1,837.0 L265.6,837.0 L262.1,837.0 L258.7,837.0 L255.2,837.0 L251.8,837.0 L248.3,837.0 L244.9,836.9 L241.4,836.8 L237.9,836.7 L234.5,836.6 L231.0,836.4 L227.6,836.2 L224.1,835.8 L220.7,835.4 L217.3,834.8 L213.9,834.1 L210.6,833.3 L207.3,832.3 L204.1,831.1 L200.9,829.7 L197.9,828.1 L195.0,826.3 L192.2,824.3 L189.6,822.1 L187.1,819.7 L184.8,817.1 L182.6,814.4 L180.6,811.6 L178.8,808.7 L177.1,805.7 L175.6,802.6 L174.2,799.4 L173.0,796.2 L172.0,792.9 L171.1,789.6 L170.4,786.2 L169.9,782.8 L169.5,779.4 L169.3,775.9 L169.3,772.5 L169.5,769.0 L169.9,765.6 L170.4,762.2 L171.2,758.8 L172.1,755.5 L173.1,752.2 L174.3,749.0 L175.6,745.8 L177.1,742.7 L178.8,739.7 L180.7,736.8 L182.8,734.2 L185.2,731.7 L187.9,729.6 L190.7,727.8 L193.8,726.4 L197.1,725.5Z" fill="#e6cf9e"/>
<g clip-path="url(#c5)"><path d="M200.4,724.8 L203.8,724.2 L207.2,723.6 L210.7,723.1 L214.1,722.7 L217.5,722.3 L221.0,721.9 L224.4,721.6 L227.8,721.3 L231.3,721.1 L234.7,720.8 L238.2,720.6 L241.6,720.4 L245.1,720.3 L248.6,720.1 L252.0,719.9 L255.5,719.8 L258.9,719.6 L262.4,719.5 L265.8,719.3 L269.3,719.1 L272.7,719.0 L276.2,718.8 L279.6,718.6 L283.1,718.4 L286.5,718.2 L290.0,718.0 L293.4,717.8 L296.9,717.6 L300.4,717.4 L303.8,717.2 L307.3,717.1 L310.7,717.0 L314.2,716.9 L317.6,716.8 L321.1,716.8 L324.5,716.9 L328.0,717.1 L331.4,717.4 L334.8,718.0 L338.1,718.8 L341.3,720.0 L344.4,721.5 L347.4,723.2 L350.3,725.1 L353.0,727.2 L355.5,729.5 L357.9,732.0 L360.1,734.6 L362.1,737.4 L364.0,740.3 L365.8,743.3 L367.4,746.3 L368.9,749.4 L370.2,752.6 L371.4,755.8 L372.5,759.1 L373.4,762.4 L374.2,765.8 L374.8,769.2 L375.3,772.6 L375.5,776.1 L375.6,779.5 L375.5,782.9 L375.2,786.4 L374.8,789.8 L374.1,793.2 L373.2,796.5 L372.1,799.8 L370.8,803.0 L369.4,806.1 L367.7,809.1 L365.8,812.0 L363.7,814.7 L361.4,817.2 L358.9,819.6 L356.3,821.8 L353.5,823.8 L350.6,825.6 L347.5,827.2 L344.3,828.5 L341.1,829.6 L337.8,830.6 L334.4,831.4 L331.0,832.1 L327.6,832.6 L324.2,833.1 L320.8,833.6 L317.4,834.0 L313.9,834.3 L310.5,834.6 L307.0,834.9 L303.6,835.2 L300.1,835.5 L296.7,835.7 L293.2,836.0 L289.8,836.2 L286.3,836.4 L282.9,836.6 L279.4,836.7 L276.0,836.8 L272.5,836.9 L269.1,837.0 L265.6,837.0 L262.1,837.0 L258.7,837.0 L255.2,837.0 L251.8,837.0 L248.3,837.0 L244.9,836.9 L241.4,836.8 L237.9,836.7 L234.5,836.6 L231.0,836.4 L227.6,836.2 L224.1,835.8 L220.7,835.4 L217.3,834.8 L213.9,834.1 L210.6,833.3 L207.3,832.3 L204.1,831.1 L200.9,829.7 L197.9,828.1 L195.0,826.3 L192.2,824.3 L189.6,822.1 L187.1,819.7 L184.8,817.1 L182.6,814.4 L180.6,811.6 L178.8,808.7 L177.1,805.7 L175.6,802.6 L174.2,799.4 L173.0,796.2 L172.0,792.9 L171.1,789.6 L170.4,786.2 L169.9,782.8 L169.5,779.4 L169.3,775.9 L169.3,772.5 L169.5,769.0 L169.9,765.6 L170.4,762.2 L171.2,758.8 L172.1,755.5 L173.1,752.2 L174.3,749.0 L175.6,745.8 L177.1,742.7 L178.8,739.7 L180.7,736.8 L182.8,734.2 L185.2,731.7 L187.9,729.6 L190.7,727.8 L193.8,726.4 L197.1,725.5Z" transform="translate(11 0)" fill="none" stroke="#a08c5e" stroke-width="1.3" opacity="0.45"/><path d="M200.4,724.8 L203.8,724.2 L207.2,723.6 L210.7,723.1 L214.1,722.7 L217.5,722.3 L221.0,721.9 L224.4,721.6 L227.8,721.3 L231.3,721.1 L234.7,720.8 L238.2,720.6 L241.6,720.4 L245.1,720.3 L248.6,720.1 L252.0,719.9 L255.5,719.8 L258.9,719.6 L262.4,719.5 L265.8,719.3 L269.3,719.1 L272.7,719.0 L276.2,718.8 L279.6,718.6 L283.1,718.4 L286.5,718.2 L290.0,718.0 L293.4,717.8 L296.9,717.6 L300.4,717.4 L303.8,717.2 L307.3,717.1 L310.7,717.0 L314.2,716.9 L317.6,716.8 L321.1,716.8 L324.5,716.9 L328.0,717.1 L331.4,717.4 L334.8,718.0 L338.1,718.8 L341.3,720.0 L344.4,721.5 L347.4,723.2 L350.3,725.1 L353.0,727.2 L355.5,729.5 L357.9,732.0 L360.1,734.6 L362.1,737.4 L364.0,740.3 L365.8,743.3 L367.4,746.3 L368.9,749.4 L370.2,752.6 L371.4,755.8 L372.5,759.1 L373.4,762.4 L374.2,765.8 L374.8,769.2 L375.3,772.6 L375.5,776.1 L375.6,779.5 L375.5,782.9 L375.2,786.4 L374.8,789.8 L374.1,793.2 L373.2,796.5 L372.1,799.8 L370.8,803.0 L369.4,806.1 L367.7,809.1 L365.8,812.0 L363.7,814.7 L361.4,817.2 L358.9,819.6 L356.3,821.8 L353.5,823.8 L350.6,825.6 L347.5,827.2 L344.3,828.5 L341.1,829.6 L337.8,830.6 L334.4,831.4 L331.0,832.1 L327.6,832.6 L324.2,833.1 L320.8,833.6 L317.4,834.0 L313.9,834.3 L310.5,834.6 L307.0,834.9 L303.6,835.2 L300.1,835.5 L296.7,835.7 L293.2,836.0 L289.8,836.2 L286.3,836.4 L282.9,836.6 L279.4,836.7 L276.0,836.8 L272.5,836.9 L269.1,837.0 L265.6,837.0 L262.1,837.0 L258.7,837.0 L255.2,837.0 L251.8,837.0 L248.3,837.0 L244.9,836.9 L241.4,836.8 L237.9,836.7 L234.5,836.6 L231.0,836.4 L227.6,836.2 L224.1,835.8 L220.7,835.4 L217.3,834.8 L213.9,834.1 L210.6,833.3 L207.3,832.3 L204.1,831.1 L200.9,829.7 L197.9,828.1 L195.0,826.3 L192.2,824.3 L189.6,822.1 L187.1,819.7 L184.8,817.1 L182.6,814.4 L180.6,811.6 L178.8,808.7 L177.1,805.7 L175.6,802.6 L174.2,799.4 L173.0,796.2 L172.0,792.9 L171.1,789.6 L170.4,786.2 L169.9,782.8 L169.5,779.4 L169.3,775.9 L169.3,772.5 L169.5,769.0 L169.9,765.6 L170.4,762.2 L171.2,758.8 L172.1,755.5 L173.1,752.2 L174.3,749.0 L175.6,745.8 L177.1,742.7 L178.8,739.7 L180.7,736.8 L182.8,734.2 L185.2,731.7 L187.9,729.6 L190.7,727.8 L193.8,726.4 L197.1,725.5Z" transform="translate(24 0)" fill="#f4dfb4" stroke="#877446" stroke-width="2.1"/><path d="M226.3,734.6 L229.4,734.0 L232.7,733.5 L236.0,733.0 L239.3,732.6 L242.6,732.2 L246.0,731.9 L249.3,731.6 L252.6,731.3 L256.0,731.0 L259.4,730.8 L262.8,730.6 L266.2,730.4 L269.6,730.2 L273.0,730.1 L276.5,729.9 L279.9,729.8 L283.4,729.6 L286.8,729.5 L290.3,729.3 L293.8,729.1 L297.2,729.0 L300.7,728.8 L304.2,728.6 L307.7,728.4 L311.1,728.2 L314.6,728.0 L318.0,727.8 L321.4,727.6 L324.9,727.4 L328.3,727.2 L331.6,727.1 L335.0,727.0 L338.4,726.9 L341.7,726.8 L345.0,726.8 L348.2,726.9 L351.3,727.0 L354.1,727.3 L356.7,727.8 L359.1,728.4 L361.5,729.3 L363.8,730.3 L366.1,731.6 L368.3,733.1 L370.5,734.8 L372.5,736.7 L374.4,738.7 L376.2,740.8 L377.9,743.1 L379.5,745.6 L381.0,748.1 L382.4,750.8 L383.7,753.6 L384.9,756.4 L386.0,759.2 L386.9,762.0 L387.8,764.9 L388.4,767.8 L388.9,770.7 L389.3,773.6 L389.5,776.5 L389.6,779.5 L389.5,782.4 L389.3,785.3 L388.9,788.1 L388.3,790.9 L387.6,793.6 L386.7,796.4 L385.7,799.0 L384.5,801.5 L383.2,803.9 L381.7,806.1 L380.1,808.2 L378.2,810.2 L376.3,812.1 L374.2,813.9 L372.0,815.5 L369.7,816.9 L367.3,818.1 L364.7,819.2 L362.1,820.1 L359.2,820.9 L356.3,821.6 L353.2,822.2 L350.1,822.8 L346.9,823.2 L343.6,823.6 L340.3,824.0 L336.9,824.4 L333.6,824.7 L330.2,825.0 L326.8,825.3 L323.4,825.5 L320.0,825.8 L316.6,826.0 L313.2,826.2 L309.8,826.4 L306.4,826.6 L303.1,826.7 L299.7,826.8 L296.3,826.9 L292.9,827.0 L289.5,827.0 L286.1,827.0 L282.7,827.0 L279.3,827.0 L275.9,827.0 L272.4,827.0 L269.0,826.9 L265.6,826.8 L262.3,826.7 L258.9,826.6 L255.7,826.4 L252.4,826.2 L249.3,825.9 L246.2,825.5 L243.1,825.0 L240.2,824.4 L237.3,823.7 L234.5,822.8 L231.8,821.8 L229.3,820.7 L226.8,819.4 L224.5,818.0 L222.4,816.4 L220.3,814.7 L218.3,812.7 L216.4,810.6 L214.6,808.4 L212.9,806.0 L211.4,803.6 L209.9,801.0 L208.7,798.4 L207.5,795.8 L206.5,793.0 L205.6,790.2 L204.9,787.3 L204.3,784.4 L203.8,781.5 L203.5,778.6 L203.3,775.6 L203.3,772.7 L203.5,769.8 L203.8,766.9 L204.3,764.1 L204.9,761.2 L205.7,758.3 L206.6,755.4 L207.6,752.6 L208.7,749.9 L210.0,747.3 L211.3,744.9 L212.7,742.8 L214.3,740.8 L216.0,739.1 L217.7,737.7 L219.4,736.6 L221.3,735.8 L223.5,735.2Z" fill="none" stroke="#a08c5e" stroke-width="1.7" opacity="0.75"/><path d="M201.2,728.7 L204.5,728.1 L207.8,727.6 L211.2,727.1 L214.6,726.7 L218.0,726.3 L221.4,725.9 L224.8,725.6 L228.2,725.3 L231.6,725.0 L235.0,724.8 L238.4,724.6 L241.9,724.4 L245.3,724.3 L248.7,724.1 L252.2,723.9 L255.6,723.8 L259.1,723.6 L262.6,723.5 L266.0,723.3 L269.5,723.1 L272.9,723.0 L276.4,722.8 L279.9,722.6 L283.3,722.4 L286.8,722.2 L290.2,722.0 L293.7,721.8 L297.1,721.6 L300.6,721.4 L304.0,721.2 L307.4,721.1 L310.8,721.0 L314.2,720.9 L317.7,720.8 L321.0,720.8 L324.4,720.9 L327.7,721.1 L330.9,721.4 L333.9,721.9 L336.9,722.7 L339.8,723.7 L342.6,725.0 L345.3,726.5 L347.9,728.3 L350.4,730.3 L352.7,732.4 L354.9,734.7 L356.9,737.1 L358.9,739.7 L360.6,742.4 L362.3,745.2 L363.8,748.1 L365.2,751.1 L366.5,754.1 L367.7,757.2 L368.7,760.3 L369.6,763.4 L370.3,766.6 L370.9,769.8 L371.3,773.0 L371.5,776.3 L371.6,779.5 L371.5,782.7 L371.3,785.9 L370.8,789.1 L370.2,792.3 L369.4,795.4 L368.3,798.4 L367.2,801.4 L365.8,804.3 L364.3,807.0 L362.6,809.6 L360.7,812.1 L358.5,814.4 L356.3,816.6 L353.8,818.6 L351.3,820.5 L348.6,822.1 L345.8,823.5 L342.9,824.8 L339.9,825.8 L336.8,826.7 L333.6,827.5 L330.3,828.1 L327.0,828.7 L323.7,829.2 L320.3,829.6 L316.9,830.0 L313.5,830.3 L310.1,830.7 L306.7,831.0 L303.3,831.2 L299.8,831.5 L296.4,831.8 L293.0,832.0 L289.6,832.2 L286.1,832.4 L282.7,832.6 L279.3,832.7 L275.9,832.8 L272.4,832.9 L269.0,833.0 L265.6,833.0 L262.1,833.0 L258.7,833.0 L255.2,833.0 L251.8,833.0 L248.4,833.0 L244.9,832.9 L241.5,832.8 L238.1,832.7 L234.7,832.6 L231.3,832.4 L227.9,832.2 L224.6,831.9 L221.3,831.4 L218.0,830.9 L214.8,830.2 L211.7,829.5 L208.6,828.5 L205.6,827.4 L202.7,826.1 L199.9,824.6 L197.2,823.0 L194.7,821.1 L192.2,819.1 L190.0,816.9 L187.8,814.5 L185.8,812.0 L184.0,809.4 L182.2,806.6 L180.6,803.8 L179.2,800.9 L177.9,798.0 L176.8,794.9 L175.9,791.8 L175.0,788.7 L174.4,785.5 L173.9,782.3 L173.5,779.0 L173.3,775.8 L173.3,772.6 L173.5,769.4 L173.9,766.1 L174.4,762.9 L175.1,759.8 L175.9,756.6 L176.9,753.5 L178.0,750.4 L179.3,747.4 L180.6,744.5 L182.2,741.8 L183.9,739.2 L185.8,736.8 L187.9,734.7 L190.2,732.8 L192.6,731.3 L195.2,730.2 L198.1,729.3Z" fill="none" stroke="#ffffff" stroke-width="2" opacity="0.3"/></g>
<path d="M200.4,724.8 L203.8,724.2 L207.2,723.6 L210.7,723.1 L214.1,722.7 L217.5,722.3 L221.0,721.9 L224.4,721.6 L227.8,721.3 L231.3,721.1 L234.7,720.8 L238.2,720.6 L241.6,720.4 L245.1,720.3 L248.6,720.1 L252.0,719.9 L255.5,719.8 L258.9,719.6 L262.4,719.5 L265.8,719.3 L269.3,719.1 L272.7,719.0 L276.2,718.8 L279.6,718.6 L283.1,718.4 L286.5,718.2 L290.0,718.0 L293.4,717.8 L296.9,717.6 L300.4,717.4 L303.8,717.2 L307.3,717.1 L310.7,717.0 L314.2,716.9 L317.6,716.8 L321.1,716.8 L324.5,716.9 L328.0,717.1 L331.4,717.4 L334.8,718.0 L338.1,718.8 L341.3,720.0 L344.4,721.5 L347.4,723.2 L350.3,725.1 L353.0,727.2 L355.5,729.5 L357.9,732.0 L360.1,734.6 L362.1,737.4 L364.0,740.3 L365.8,743.3 L367.4,746.3 L368.9,749.4 L370.2,752.6 L371.4,755.8 L372.5,759.1 L373.4,762.4 L374.2,765.8 L374.8,769.2 L375.3,772.6 L375.5,776.1 L375.6,779.5 L375.5,782.9 L375.2,786.4 L374.8,789.8 L374.1,793.2 L373.2,796.5 L372.1,799.8 L370.8,803.0 L369.4,806.1 L367.7,809.1 L365.8,812.0 L363.7,814.7 L361.4,817.2 L358.9,819.6 L356.3,821.8 L353.5,823.8 L350.6,825.6 L347.5,827.2 L344.3,828.5 L341.1,829.6 L337.8,830.6 L334.4,831.4 L331.0,832.1 L327.6,832.6 L324.2,833.1 L320.8,833.6 L317.4,834.0 L313.9,834.3 L310.5,834.6 L307.0,834.9 L303.6,835.2 L300.1,835.5 L296.7,835.7 L293.2,836.0 L289.8,836.2 L286.3,836.4 L282.9,836.6 L279.4,836.7 L276.0,836.8 L272.5,836.9 L269.1,837.0 L265.6,837.0 L262.1,837.0 L258.7,837.0 L255.2,837.0 L251.8,837.0 L248.3,837.0 L244.9,836.9 L241.4,836.8 L237.9,836.7 L234.5,836.6 L231.0,836.4 L227.6,836.2 L224.1,835.8 L220.7,835.4 L217.3,834.8 L213.9,834.1 L210.6,833.3 L207.3,832.3 L204.1,831.1 L200.9,829.7 L197.9,828.1 L195.0,826.3 L192.2,824.3 L189.6,822.1 L187.1,819.7 L184.8,817.1 L182.6,814.4 L180.6,811.6 L178.8,808.7 L177.1,805.7 L175.6,802.6 L174.2,799.4 L173.0,796.2 L172.0,792.9 L171.1,789.6 L170.4,786.2 L169.9,782.8 L169.5,779.4 L169.3,775.9 L169.3,772.5 L169.5,769.0 L169.9,765.6 L170.4,762.2 L171.2,758.8 L172.1,755.5 L173.1,752.2 L174.3,749.0 L175.6,745.8 L177.1,742.7 L178.8,739.7 L180.7,736.8 L182.8,734.2 L185.2,731.7 L187.9,729.6 L190.7,727.8 L193.8,726.4 L197.1,725.5Z" fill="none" stroke="#181818" stroke-width="3.1"/>
<clipPath id="c6"><path d="M249.8,591.8 L253.2,591.2 L256.7,590.6 L260.1,590.0 L263.6,589.5 L267.0,589.1 L270.5,588.6 L273.9,588.3 L277.4,587.9 L280.9,587.6 L284.4,587.4 L287.8,587.2 L291.3,587.0 L294.8,586.9 L298.3,586.9 L301.8,586.8 L305.2,586.9 L308.7,587.0 L312.2,587.1 L315.7,587.4 L319.1,587.8 L322.6,588.3 L326.0,588.9 L329.4,589.7 L332.7,590.6 L336.0,591.7 L339.3,593.0 L342.5,594.4 L345.6,595.9 L348.6,597.6 L351.5,599.5 L354.3,601.6 L356.9,603.9 L359.3,606.3 L361.6,609.0 L363.7,611.7 L365.6,614.6 L367.4,617.6 L369.1,620.6 L370.6,623.8 L372.0,626.9 L373.3,630.2 L374.4,633.5 L375.4,636.8 L376.2,640.2 L376.9,643.6 L377.4,647.0 L377.8,650.5 L377.9,654.0 L377.9,657.4 L377.6,660.9 L377.1,664.3 L376.4,667.7 L375.5,671.1 L374.4,674.4 L373.1,677.6 L371.6,680.7 L370.0,683.8 L368.1,686.7 L366.0,689.5 L363.8,692.1 L361.3,694.5 L358.7,696.8 L355.9,698.9 L353.0,700.8 L350.0,702.5 L346.9,704.0 L343.7,705.3 L340.4,706.5 L337.1,707.6 L333.7,708.5 L330.4,709.4 L327.0,710.2 L323.6,711.0 L320.2,711.7 L316.7,712.4 L313.3,713.0 L309.9,713.6 L306.4,714.2 L303.0,714.7 L299.6,715.2 L296.1,715.7 L292.6,716.1 L289.2,716.5 L285.7,716.8 L282.2,717.2 L278.8,717.5 L275.3,717.8 L271.8,718.1 L268.3,718.3 L264.9,718.5 L261.4,718.8 L257.9,718.9 L254.4,719.1 L250.9,719.3 L247.5,719.4 L244.0,719.4 L240.5,719.4 L237.0,719.4 L233.5,719.2 L230.1,718.9 L226.6,718.6 L223.1,718.1 L219.7,717.6 L216.3,716.9 L212.9,716.1 L209.5,715.2 L206.2,714.1 L203.0,712.9 L199.8,711.5 L196.7,709.9 L193.8,708.1 L190.9,706.1 L188.2,703.9 L185.7,701.5 L183.3,699.0 L181.1,696.4 L179.0,693.6 L177.1,690.7 L175.4,687.6 L173.9,684.5 L172.5,681.3 L171.4,678.0 L170.5,674.7 L169.9,671.3 L169.4,667.8 L169.1,664.4 L169.0,660.9 L169.1,657.4 L169.4,654.0 L169.9,650.5 L170.6,647.1 L171.5,643.8 L172.8,640.7 L174.5,637.7 L176.6,635.1 L179.0,632.7 L181.6,630.4 L184.2,628.1 L186.7,625.7 L189.2,623.3 L191.7,620.9 L194.3,618.5 L197.0,616.3 L199.7,614.1 L202.4,611.9 L205.1,609.7 L207.9,607.6 L210.8,605.6 L213.7,603.7 L216.7,602.0 L219.8,600.4 L222.9,599.0 L226.2,597.7 L229.5,596.6 L232.8,595.6 L236.2,594.7 L239.6,593.9 L243.0,593.2 L246.4,592.5Z"/></clipPath>
<path d="M249.8,591.8 L253.2,591.2 L256.7,590.6 L260.1,590.0 L263.6,589.5 L267.0,589.1 L270.5,588.6 L273.9,588.3 L277.4,587.9 L280.9,587.6 L284.4,587.4 L287.8,587.2 L291.3,587.0 L294.8,586.9 L298.3,586.9 L301.8,586.8 L305.2,586.9 L308.7,587.0 L312.2,587.1 L315.7,587.4 L319.1,587.8 L322.6,588.3 L326.0,588.9 L329.4,589.7 L332.7,590.6 L336.0,591.7 L339.3,593.0 L342.5,594.4 L345.6,595.9 L348.6,597.6 L351.5,599.5 L354.3,601.6 L356.9,603.9 L359.3,606.3 L361.6,609.0 L363.7,611.7 L365.6,614.6 L367.4,617.6 L369.1,620.6 L370.6,623.8 L372.0,626.9 L373.3,630.2 L374.4,633.5 L375.4,636.8 L376.2,640.2 L376.9,643.6 L377.4,647.0 L377.8,650.5 L377.9,654.0 L377.9,657.4 L377.6,660.9 L377.1,664.3 L376.4,667.7 L375.5,671.1 L374.4,674.4 L373.1,677.6 L371.6,680.7 L370.0,683.8 L368.1,686.7 L366.0,689.5 L363.8,692.1 L361.3,694.5 L358.7,696.8 L355.9,698.9 L353.0,700.8 L350.0,702.5 L346.9,704.0 L343.7,705.3 L340.4,706.5 L337.1,707.6 L333.7,708.5 L330.4,709.4 L327.0,710.2 L323.6,711.0 L320.2,711.7 L316.7,712.4 L313.3,713.0 L309.9,713.6 L306.4,714.2 L303.0,714.7 L299.6,715.2 L296.1,715.7 L292.6,716.1 L289.2,716.5 L285.7,716.8 L282.2,717.2 L278.8,717.5 L275.3,717.8 L271.8,718.1 L268.3,718.3 L264.9,718.5 L261.4,718.8 L257.9,718.9 L254.4,719.1 L250.9,719.3 L247.5,719.4 L244.0,719.4 L240.5,719.4 L237.0,719.4 L233.5,719.2 L230.1,718.9 L226.6,718.6 L223.1,718.1 L219.7,717.6 L216.3,716.9 L212.9,716.1 L209.5,715.2 L206.2,714.1 L203.0,712.9 L199.8,711.5 L196.7,709.9 L193.8,708.1 L190.9,706.1 L188.2,703.9 L185.7,701.5 L183.3,699.0 L181.1,696.4 L179.0,693.6 L177.1,690.7 L175.4,687.6 L173.9,684.5 L172.5,681.3 L171.4,678.0 L170.5,674.7 L169.9,671.3 L169.4,667.8 L169.1,664.4 L169.0,660.9 L169.1,657.4 L169.4,654.0 L169.9,650.5 L170.6,647.1 L171.5,643.8 L172.8,640.7 L174.5,637.7 L176.6,635.1 L179.0,632.7 L181.6,630.4 L184.2,628.1 L186.7,625.7 L189.2,623.3 L191.7,620.9 L194.3,618.5 L197.0,616.3 L199.7,614.1 L202.4,611.9 L205.1,609.7 L207.9,607.6 L210.8,605.6 L213.7,603.7 L216.7,602.0 L219.8,600.4 L222.9,599.0 L226.2,597.7 L229.5,596.6 L232.8,595.6 L236.2,594.7 L239.6,593.9 L243.0,593.2 L246.4,592.5Z" fill="#e0bbb5"/>
<g clip-path="url(#c6)"><path d="M249.8,591.8 L253.2,591.2 L256.7,590.6 L260.1,590.0 L263.6,589.5 L267.0,589.1 L270.5,588.6 L273.9,588.3 L277.4,587.9 L280.9,587.6 L284.4,587.4 L287.8,587.2 L291.3,587.0 L294.8,586.9 L298.3,586.9 L301.8,586.8 L305.2,586.9 L308.7,587.0 L312.2,587.1 L315.7,587.4 L319.1,587.8 L322.6,588.3 L326.0,588.9 L329.4,589.7 L332.7,590.6 L336.0,591.7 L339.3,593.0 L342.5,594.4 L345.6,595.9 L348.6,597.6 L351.5,599.5 L354.3,601.6 L356.9,603.9 L359.3,606.3 L361.6,609.0 L363.7,611.7 L365.6,614.6 L367.4,617.6 L369.1,620.6 L370.6,623.8 L372.0,626.9 L373.3,630.2 L374.4,633.5 L375.4,636.8 L376.2,640.2 L376.9,643.6 L377.4,647.0 L377.8,650.5 L377.9,654.0 L377.9,657.4 L377.6,660.9 L377.1,664.3 L376.4,667.7 L375.5,671.1 L374.4,674.4 L373.1,677.6 L371.6,680.7 L370.0,683.8 L368.1,686.7 L366.0,689.5 L363.8,692.1 L361.3,694.5 L358.7,696.8 L355.9,698.9 L353.0,700.8 L350.0,702.5 L346.9,704.0 L343.7,705.3 L340.4,706.5 L337.1,707.6 L333.7,708.5 L330.4,709.4 L327.0,710.2 L323.6,711.0 L320.2,711.7 L316.7,712.4 L313.3,713.0 L309.9,713.6 L306.4,714.2 L303.0,714.7 L299.6,715.2 L296.1,715.7 L292.6,716.1 L289.2,716.5 L285.7,716.8 L282.2,717.2 L278.8,717.5 L275.3,717.8 L271.8,718.1 L268.3,718.3 L264.9,718.5 L261.4,718.8 L257.9,718.9 L254.4,719.1 L250.9,719.3 L247.5,719.4 L244.0,719.4 L240.5,719.4 L237.0,719.4 L233.5,719.2 L230.1,718.9 L226.6,718.6 L223.1,718.1 L219.7,717.6 L216.3,716.9 L212.9,716.1 L209.5,715.2 L206.2,714.1 L203.0,712.9 L199.8,711.5 L196.7,709.9 L193.8,708.1 L190.9,706.1 L188.2,703.9 L185.7,701.5 L183.3,699.0 L181.1,696.4 L179.0,693.6 L177.1,690.7 L175.4,687.6 L173.9,684.5 L172.5,681.3 L171.4,678.0 L170.5,674.7 L169.9,671.3 L169.4,667.8 L169.1,664.4 L169.0,660.9 L169.1,657.4 L169.4,654.0 L169.9,650.5 L170.6,647.1 L171.5,643.8 L172.8,640.7 L174.5,637.7 L176.6,635.1 L179.0,632.7 L181.6,630.4 L184.2,628.1 L186.7,625.7 L189.2,623.3 L191.7,620.9 L194.3,618.5 L197.0,616.3 L199.7,614.1 L202.4,611.9 L205.1,609.7 L207.9,607.6 L210.8,605.6 L213.7,603.7 L216.7,602.0 L219.8,600.4 L222.9,599.0 L226.2,597.7 L229.5,596.6 L232.8,595.6 L236.2,594.7 L239.6,593.9 L243.0,593.2 L246.4,592.5Z" transform="translate(12 0)" fill="none" stroke="#9b7672" stroke-width="1.3" opacity="0.45"/><path d="M249.8,591.8 L253.2,591.2 L256.7,590.6 L260.1,590.0 L263.6,589.5 L267.0,589.1 L270.5,588.6 L273.9,588.3 L277.4,587.9 L280.9,587.6 L284.4,587.4 L287.8,587.2 L291.3,587.0 L294.8,586.9 L298.3,586.9 L301.8,586.8 L305.2,586.9 L308.7,587.0 L312.2,587.1 L315.7,587.4 L319.1,587.8 L322.6,588.3 L326.0,588.9 L329.4,589.7 L332.7,590.6 L336.0,591.7 L339.3,593.0 L342.5,594.4 L345.6,595.9 L348.6,597.6 L351.5,599.5 L354.3,601.6 L356.9,603.9 L359.3,606.3 L361.6,609.0 L363.7,611.7 L365.6,614.6 L367.4,617.6 L369.1,620.6 L370.6,623.8 L372.0,626.9 L373.3,630.2 L374.4,633.5 L375.4,636.8 L376.2,640.2 L376.9,643.6 L377.4,647.0 L377.8,650.5 L377.9,654.0 L377.9,657.4 L377.6,660.9 L377.1,664.3 L376.4,667.7 L375.5,671.1 L374.4,674.4 L373.1,677.6 L371.6,680.7 L370.0,683.8 L368.1,686.7 L366.0,689.5 L363.8,692.1 L361.3,694.5 L358.7,696.8 L355.9,698.9 L353.0,700.8 L350.0,702.5 L346.9,704.0 L343.7,705.3 L340.4,706.5 L337.1,707.6 L333.7,708.5 L330.4,709.4 L327.0,710.2 L323.6,711.0 L320.2,711.7 L316.7,712.4 L313.3,713.0 L309.9,713.6 L306.4,714.2 L303.0,714.7 L299.6,715.2 L296.1,715.7 L292.6,716.1 L289.2,716.5 L285.7,716.8 L282.2,717.2 L278.8,717.5 L275.3,717.8 L271.8,718.1 L268.3,718.3 L264.9,718.5 L261.4,718.8 L257.9,718.9 L254.4,719.1 L250.9,719.3 L247.5,719.4 L244.0,719.4 L240.5,719.4 L237.0,719.4 L233.5,719.2 L230.1,718.9 L226.6,718.6 L223.1,718.1 L219.7,717.6 L216.3,716.9 L212.9,716.1 L209.5,715.2 L206.2,714.1 L203.0,712.9 L199.8,711.5 L196.7,709.9 L193.8,708.1 L190.9,706.1 L188.2,703.9 L185.7,701.5 L183.3,699.0 L181.1,696.4 L179.0,693.6 L177.1,690.7 L175.4,687.6 L173.9,684.5 L172.5,681.3 L171.4,678.0 L170.5,674.7 L169.9,671.3 L169.4,667.8 L169.1,664.4 L169.0,660.9 L169.1,657.4 L169.4,654.0 L169.9,650.5 L170.6,647.1 L171.5,643.8 L172.8,640.7 L174.5,637.7 L176.6,635.1 L179.0,632.7 L181.6,630.4 L184.2,628.1 L186.7,625.7 L189.2,623.3 L191.7,620.9 L194.3,618.5 L197.0,616.3 L199.7,614.1 L202.4,611.9 L205.1,609.7 L207.9,607.6 L210.8,605.6 L213.7,603.7 L216.7,602.0 L219.8,600.4 L222.9,599.0 L226.2,597.7 L229.5,596.6 L232.8,595.6 L236.2,594.7 L239.6,593.9 L243.0,593.2 L246.4,592.5Z" transform="translate(27 0)" fill="#f0cec9" stroke="#7f5e5b" stroke-width="2.1"/><path d="M278.7,601.7 L282.0,601.0 L285.3,600.5 L288.6,599.9 L292.0,599.4 L295.3,599.0 L298.6,598.6 L302.0,598.2 L305.3,597.9 L308.6,597.6 L312.0,597.4 L315.3,597.2 L318.7,597.0 L322.1,596.9 L325.4,596.9 L328.8,596.8 L332.1,596.9 L335.4,597.0 L338.6,597.1 L341.8,597.3 L344.9,597.7 L348.0,598.1 L350.9,598.7 L353.9,599.4 L356.8,600.2 L359.7,601.2 L362.5,602.2 L365.3,603.5 L367.9,604.8 L370.5,606.2 L372.8,607.7 L375.0,609.3 L377.0,611.1 L379.0,613.1 L380.8,615.2 L382.5,617.5 L384.2,620.0 L385.8,622.6 L387.2,625.2 L388.5,628.0 L389.8,630.8 L390.9,633.6 L391.9,636.5 L392.7,639.5 L393.5,642.4 L394.1,645.4 L394.5,648.3 L394.8,651.2 L394.9,654.1 L394.9,657.0 L394.7,659.8 L394.3,662.6 L393.7,665.4 L392.9,668.2 L392.0,670.9 L391.0,673.6 L389.7,676.2 L388.4,678.7 L386.9,681.0 L385.2,683.2 L383.4,685.3 L381.5,687.3 L379.4,689.1 L377.2,690.7 L374.9,692.2 L372.4,693.6 L369.8,694.8 L367.0,696.0 L364.2,697.0 L361.2,698.0 L358.1,698.9 L354.9,699.7 L351.7,700.5 L348.5,701.2 L345.2,701.9 L341.9,702.6 L338.5,703.2 L335.2,703.8 L331.9,704.3 L328.5,704.8 L325.2,705.3 L321.8,705.7 L318.5,706.2 L315.1,706.5 L311.7,706.9 L308.3,707.2 L304.9,707.5 L301.5,707.8 L298.1,708.1 L294.6,708.3 L291.2,708.6 L287.8,708.8 L284.4,709.0 L281.0,709.1 L277.6,709.3 L274.2,709.4 L270.9,709.4 L267.6,709.4 L264.3,709.4 L261.1,709.2 L257.9,709.0 L254.8,708.7 L251.6,708.2 L248.5,707.7 L245.4,707.1 L242.4,706.4 L239.4,705.6 L236.5,704.6 L233.8,703.6 L231.1,702.4 L228.6,701.1 L226.2,699.7 L223.9,698.1 L221.8,696.3 L219.7,694.4 L217.8,692.4 L215.9,690.2 L214.2,687.9 L212.7,685.5 L211.3,683.0 L210.0,680.4 L208.9,677.8 L208.0,675.1 L207.3,672.4 L206.7,669.7 L206.4,666.8 L206.1,663.9 L206.0,660.9 L206.1,657.9 L206.3,655.0 L206.7,652.2 L207.3,649.5 L208.0,647.1 L208.8,645.0 L209.8,643.4 L211.0,641.8 L212.9,640.0 L215.3,637.9 L218.0,635.4 L220.7,632.9 L223.1,630.5 L225.5,628.2 L227.9,626.1 L230.4,623.9 L233.0,621.8 L235.6,619.7 L238.2,617.7 L240.8,615.7 L243.4,613.9 L245.9,612.2 L248.5,610.7 L251.1,609.4 L253.8,608.2 L256.6,607.1 L259.5,606.1 L262.5,605.3 L265.6,604.5 L268.8,603.7 L272.0,603.0 L275.4,602.3Z" fill="none" stroke="#9b7672" stroke-width="1.7" opacity="0.75"/><path d="M250.6,595.8 L253.9,595.1 L257.3,594.5 L260.7,594.0 L264.1,593.5 L267.5,593.0 L270.9,592.6 L274.3,592.2 L277.8,591.9 L281.2,591.6 L284.6,591.4 L288.0,591.2 L291.5,591.0 L294.9,590.9 L298.3,590.9 L301.8,590.8 L305.2,590.9 L308.6,591.0 L312.0,591.1 L315.3,591.4 L318.6,591.7 L321.9,592.2 L325.2,592.8 L328.4,593.6 L331.6,594.5 L334.7,595.5 L337.8,596.7 L340.8,598.0 L343.7,599.5 L346.6,601.0 L349.2,602.8 L351.8,604.7 L354.1,606.8 L356.4,609.0 L358.5,611.5 L360.4,614.1 L362.2,616.8 L364.0,619.6 L365.5,622.5 L367.0,625.4 L368.3,628.5 L369.5,631.6 L370.6,634.7 L371.5,637.9 L372.3,641.1 L373.0,644.3 L373.5,647.5 L373.8,650.8 L373.9,654.0 L373.9,657.2 L373.6,660.5 L373.2,663.6 L372.5,666.8 L371.7,669.9 L370.7,673.0 L369.5,676.0 L368.1,678.9 L366.5,681.7 L364.8,684.4 L362.9,687.0 L360.8,689.4 L358.6,691.6 L356.2,693.7 L353.7,695.6 L351.0,697.4 L348.2,698.9 L345.2,700.3 L342.2,701.6 L339.1,702.7 L335.9,703.7 L332.7,704.7 L329.4,705.5 L326.1,706.3 L322.7,707.1 L319.4,707.8 L316.0,708.4 L312.6,709.1 L309.2,709.7 L305.8,710.2 L302.4,710.8 L299.0,711.2 L295.6,711.7 L292.2,712.1 L288.7,712.5 L285.3,712.9 L281.9,713.2 L278.4,713.5 L275.0,713.8 L271.5,714.1 L268.1,714.3 L264.6,714.6 L261.1,714.8 L257.7,715.0 L254.2,715.1 L250.8,715.3 L247.4,715.4 L243.9,715.4 L240.5,715.4 L237.1,715.4 L233.8,715.2 L230.4,715.0 L227.1,714.6 L223.7,714.2 L220.4,713.6 L217.1,713.0 L213.9,712.2 L210.7,711.3 L207.6,710.3 L204.5,709.2 L201.5,707.8 L198.7,706.4 L195.9,704.7 L193.3,702.9 L190.8,700.9 L188.5,698.7 L186.3,696.4 L184.2,693.9 L182.3,691.3 L180.5,688.6 L178.9,685.8 L177.5,682.9 L176.3,679.9 L175.3,676.9 L174.4,673.8 L173.8,670.6 L173.4,667.4 L173.1,664.2 L173.0,660.9 L173.1,657.6 L173.4,654.4 L173.8,651.2 L174.4,648.1 L175.3,645.1 L176.4,642.4 L177.8,640.0 L179.6,637.8 L181.8,635.6 L184.3,633.4 L186.9,631.0 L189.5,628.6 L192.0,626.2 L194.5,623.8 L197.0,621.5 L199.6,619.3 L202.2,617.2 L204.9,615.0 L207.6,612.9 L210.3,610.9 L213.0,608.9 L215.8,607.1 L218.6,605.5 L221.5,604.0 L224.5,602.7 L227.5,601.5 L230.7,600.4 L233.9,599.5 L237.1,598.6 L240.5,597.8 L243.8,597.1 L247.2,596.4Z" fill="none" stroke="#ffffff" stroke-width="2" opacity="0.3"/></g>
<path d="M249.8,591.8 L253.2,591.2 L256.7,590.6 L260.1,590.0 L263.6,589.5 L267.0,589.1 L270.5,588.6 L273.9,588.3 L277.4,587.9 L280.9,587.6 L284.4,587.4 L287.8,587.2 L291.3,587.0 L294.8,586.9 L298.3,586.9 L301.8,586.8 L305.2,586.9 L308.7,587.0 L312.2,587.1 L315.7,587.4 L319.1,587.8 L322.6,588.3 L326.0,588.9 L329.4,589.7 L332.7,590.6 L336.0,591.7 L339.3,593.0 L342.5,594.4 L345.6,595.9 L348.6,597.6 L351.5,599.5 L354.3,601.6 L356.9,603.9 L359.3,606.3 L361.6,609.0 L363.7,611.7 L365.6,614.6 L367.4,617.6 L369.1,620.6 L370.6,623.8 L372.0,626.9 L373.3,630.2 L374.4,633.5 L375.4,636.8 L376.2,640.2 L376.9,643.6 L377.4,647.0 L377.8,650.5 L377.9,654.0 L377.9,657.4 L377.6,660.9 L377.1,664.3 L376.4,667.7 L375.5,671.1 L374.4,674.4 L373.1,677.6 L371.6,680.7 L370.0,683.8 L368.1,686.7 L366.0,689.5 L363.8,692.1 L361.3,694.5 L358.7,696.8 L355.9,698.9 L353.0,700.8 L350.0,702.5 L346.9,704.0 L343.7,705.3 L340.4,706.5 L337.1,707.6 L333.7,708.5 L330.4,709.4 L327.0,710.2 L323.6,711.0 L320.2,711.7 L316.7,712.4 L313.3,713.0 L309.9,713.6 L306.4,714.2 L303.0,714.7 L299.6,715.2 L296.1,715.7 L292.6,716.1 L289.2,716.5 L285.7,716.8 L282.2,717.2 L278.8,717.5 L275.3,717.8 L271.8,718.1 L268.3,718.3 L264.9,718.5 L261.4,718.8 L257.9,718.9 L254.4,719.1 L250.9,719.3 L247.5,719.4 L244.0,719.4 L240.5,719.4 L237.0,719.4 L233.5,719.2 L230.1,718.9 L226.6,718.6 L223.1,718.1 L219.7,717.6 L216.3,716.9 L212.9,716.1 L209.5,715.2 L206.2,714.1 L203.0,712.9 L199.8,711.5 L196.7,709.9 L193.8,708.1 L190.9,706.1 L188.2,703.9 L185.7,701.5 L183.3,699.0 L181.1,696.4 L179.0,693.6 L177.1,690.7 L175.4,687.6 L173.9,684.5 L172.5,681.3 L171.4,678.0 L170.5,674.7 L169.9,671.3 L169.4,667.8 L169.1,664.4 L169.0,660.9 L169.1,657.4 L169.4,654.0 L169.9,650.5 L170.6,647.1 L171.5,643.8 L172.8,640.7 L174.5,637.7 L176.6,635.1 L179.0,632.7 L181.6,630.4 L184.2,628.1 L186.7,625.7 L189.2,623.3 L191.7,620.9 L194.3,618.5 L197.0,616.3 L199.7,614.1 L202.4,611.9 L205.1,609.7 L207.9,607.6 L210.8,605.6 L213.7,603.7 L216.7,602.0 L219.8,600.4 L222.9,599.0 L226.2,597.7 L229.5,596.6 L232.8,595.6 L236.2,594.7 L239.6,593.9 L243.0,593.2 L246.4,592.5Z" fill="none" stroke="#181818" stroke-width="3.1"/>
<path d="M226.0,487.5 L228.4,487.7 L230.7,488.1 L233.1,488.7 L235.4,489.4 L237.6,490.3 L239.7,491.4 L241.7,492.7 L243.5,494.2 L245.3,495.8 L246.9,497.6 L248.4,499.4 L249.8,501.4 L251.0,503.5 L252.1,505.6 L253.1,507.8 L254.0,510.0 L254.8,512.3 L255.4,514.6 L256.0,517.0 L256.5,519.4 L257.0,521.7 L257.4,524.1 L257.7,526.5 L257.9,528.9 L258.1,531.3 L258.2,533.8 L258.3,536.2 L258.3,538.6 L258.3,541.0 L258.2,543.4 L258.0,545.9 L257.9,548.3 L257.7,550.7 L257.4,553.1 L257.2,555.5 L256.9,557.9 L256.6,560.3 L256.2,562.7 L255.8,565.1 L255.4,567.5 L255.0,569.9 L254.6,572.3 L254.1,574.6 L253.6,577.0 L253.1,579.4 L252.6,581.8 L252.0,584.1 L251.4,586.5 L250.8,588.8 L250.1,591.1 L249.4,593.4 L248.6,595.7 L247.7,598.0 L246.8,600.2 L245.9,602.5 L244.9,604.7 L243.9,606.9 L242.8,609.0 L241.6,611.2 L240.4,613.3 L239.2,615.3 L237.9,617.4 L236.5,619.3 L235.0,621.3 L233.5,623.1 L231.9,624.9 L230.2,626.7 L228.4,628.3 L226.6,629.9 L224.7,631.3 L222.7,632.7 L220.6,633.9 L218.5,635.0 L216.3,636.0 L214.0,636.8 L211.7,637.4 L209.4,637.9 L207.0,638.2 L204.6,638.4 L202.2,638.4 L199.8,638.3 L197.4,637.9 L195.1,637.4 L192.8,636.6 L190.6,635.7 L188.5,634.6 L186.5,633.4 L184.6,631.9 L182.8,630.3 L181.1,628.6 L179.5,626.8 L178.1,624.9 L176.7,622.9 L175.5,620.8 L174.4,618.7 L173.4,616.5 L172.5,614.2 L171.7,612.0 L171.0,609.7 L170.3,607.3 L169.8,605.0 L169.3,602.6 L168.9,600.2 L168.6,597.8 L168.3,595.4 L168.2,593.0 L168.1,590.6 L168.0,588.2 L168.0,585.7 L168.1,583.3 L168.2,580.9 L168.3,578.5 L168.5,576.1 L168.7,573.7 L169.0,571.2 L169.3,568.8 L169.7,566.4 L170.1,564.1 L170.5,561.7 L171.0,559.3 L171.5,556.9 L172.1,554.6 L172.7,552.2 L173.3,549.9 L174.0,547.6 L174.8,545.3 L175.5,543.0 L176.4,540.7 L177.2,538.4 L178.1,536.2 L179.0,533.9 L180.0,531.7 L181.0,529.5 L182.1,527.3 L183.1,525.2 L184.3,523.0 L185.4,520.9 L186.6,518.8 L187.9,516.7 L189.1,514.7 L190.4,512.6 L191.8,510.6 L193.2,508.6 L194.6,506.7 L196.1,504.7 L197.6,502.8 L199.1,501.0 L200.8,499.2 L202.4,497.5 L204.2,495.8 L206.0,494.3 L208.0,492.9 L210.0,491.6 L212.1,490.4 L214.3,489.5 L216.6,488.7 L218.9,488.1 L221.2,487.7 L223.6,487.5Z" fill="#f4dfb4" stroke="#181818" stroke-width="3.0"/>
<path d="M225.8,491.5 L227.9,491.7 L230.0,492.0 L232.0,492.5 L234.0,493.1 L235.9,493.9 L237.7,494.8 L239.3,495.9 L240.9,497.2 L242.5,498.6 L243.9,500.2 L245.2,501.8 L246.4,503.6 L247.5,505.4 L248.5,507.3 L249.4,509.3 L250.2,511.4 L250.9,513.5 L251.6,515.7 L252.1,517.9 L252.6,520.1 L253.0,522.4 L253.4,524.7 L253.7,527.0 L253.9,529.3 L254.1,531.6 L254.2,533.9 L254.3,536.2 L254.3,538.6 L254.3,540.9 L254.2,543.3 L254.0,545.6 L253.9,548.0 L253.7,550.3 L253.5,552.7 L253.2,555.0 L252.9,557.4 L252.6,559.8 L252.2,562.1 L251.9,564.5 L251.5,566.8 L251.1,569.2 L250.6,571.5 L250.2,573.9 L249.7,576.2 L249.2,578.5 L248.7,580.9 L248.2,583.2 L247.6,585.4 L246.9,587.7 L246.3,589.9 L245.6,592.2 L244.8,594.4 L244.0,596.5 L243.1,598.7 L242.2,600.9 L241.3,603.0 L240.3,605.1 L239.2,607.2 L238.1,609.2 L237.0,611.2 L235.8,613.2 L234.6,615.1 L233.3,617.0 L231.9,618.8 L230.4,620.5 L229.0,622.2 L227.4,623.8 L225.8,625.3 L224.1,626.8 L222.3,628.1 L220.6,629.3 L218.7,630.4 L216.8,631.4 L214.8,632.3 L212.8,633.0 L210.8,633.5 L208.7,634.0 L206.6,634.3 L204.5,634.4 L202.3,634.4 L200.2,634.3 L198.2,634.0 L196.2,633.5 L194.2,632.9 L192.3,632.1 L190.5,631.2 L188.8,630.1 L187.1,628.8 L185.5,627.4 L184.0,625.9 L182.6,624.3 L181.3,622.6 L180.1,620.8 L179.0,618.9 L178.0,616.9 L177.1,614.9 L176.3,612.8 L175.5,610.7 L174.8,608.5 L174.2,606.3 L173.7,604.1 L173.2,601.9 L172.8,599.6 L172.5,597.4 L172.3,595.1 L172.2,592.8 L172.1,590.5 L172.0,588.1 L172.0,585.8 L172.1,583.4 L172.2,581.1 L172.3,578.8 L172.5,576.4 L172.7,574.1 L173.0,571.7 L173.3,569.4 L173.6,567.1 L174.0,564.7 L174.4,562.4 L174.9,560.1 L175.4,557.8 L175.9,555.6 L176.5,553.3 L177.2,551.0 L177.8,548.8 L178.6,546.5 L179.3,544.3 L180.1,542.1 L180.9,539.9 L181.8,537.7 L182.7,535.5 L183.7,533.4 L184.6,531.2 L185.6,529.1 L186.7,527.0 L187.8,524.9 L188.9,522.9 L190.1,520.8 L191.3,518.8 L192.5,516.8 L193.8,514.8 L195.1,512.9 L196.4,510.9 L197.8,509.0 L199.2,507.2 L200.7,505.4 L202.1,503.6 L203.7,501.9 L205.2,500.3 L206.8,498.8 L208.5,497.4 L210.2,496.2 L212.0,495.0 L213.9,494.0 L215.8,493.2 L217.7,492.5 L219.7,492.0 L221.7,491.7 L223.7,491.5Z" fill="none" stroke="#ffffff" stroke-width="2" opacity="0.35"/>
<path d="M191.0,626.8 L189.6,625.7 L188.3,624.5 L187.0,623.2 L185.8,621.8 L184.6,620.3 L183.5,618.7 L182.6,617.0 L181.6,615.2 L180.8,613.3 L180.0,611.4 L179.3,609.4 L178.6,607.4 L178.1,605.3 L177.6,603.3 L177.1,601.2 L176.8,599.1 L176.5,596.9 L176.3,594.8 L176.2,592.6 L176.1,590.3 L176.0,588.1 L176.0,585.8 L176.1,583.6 L176.2,581.3 L176.3,579.0 L176.5,576.7 L176.7,574.5 L177.0,572.2 L177.2,569.9 L177.6,567.7 L177.9,565.4 L178.3,563.2 L178.8,560.9 L179.3,558.7 L179.8,556.5 L180.4,554.3 L181.0,552.1 L181.7,550.0 L182.4,547.8 L183.1,545.6 L183.9,543.5 L184.7,541.3 L185.5,539.2 L186.4,537.1 L187.3,535.0 L188.3,532.9 L189.2,530.9 L190.3,528.8 L191.3,526.8 L192.4,524.8 L193.5,522.8 L194.7,520.9 L195.9,518.9 L197.1,517.0 L198.4,515.1 L199.7,513.3 L201.0,511.4 L202.4,509.7 L203.7,507.9 L205.2,506.3 L206.6,504.7 L208.0,503.2 L209.5,501.8 L211.0,500.6 L212.5,499.5 L214.0,498.5" fill="none" stroke="#a08c5e" stroke-width="1.4" opacity="0.35"/>
<path d="M235.7,500.9 C237.0,505.5 242.4,518.4 243.7,528.3 C245.0,538.2 245.0,549.8 243.7,560.5 C242.4,571.2 238.9,582.8 235.7,592.7 C232.5,602.6 229.0,614.2 224.4,620.1 C219.8,626.0 211.0,626.8 208.3,628.1" fill="none" stroke="#a08c5e" stroke-width="2" opacity="0.85" stroke-linecap="round"/>
<g stroke="#262626" stroke-width="1.6" fill="none" stroke-linejoin="round" stroke-linecap="round"><line x1="437" y1="267.5" x2="591" y2="267.5"/><ellipse cx="433.7" cy="267.3" rx="2.8" ry="3.6" fill="#ece6da" stroke-width="1.5"/><path d="M590.5,263.2 Q596,265 598,268.8 Q594.5,271 591.2,270.8 Q589.8,267 590.5,263.2Z" fill="#f3f0e8" stroke-width="1.4"/><line x1="489.5" y1="858.7" x2="591" y2="858.7"/><path d="M484.5,854.5 L489,854.5 L489.5,859 L490,862 L486,861.5 L484.5,861 Z" fill="#f1dcd6" stroke-width="1.4"/><path d="M590.8,854 Q596.5,856.5 598.2,860.8 Q595,863 591.6,862.8 Q590,858.5 590.8,854Z" fill="#f3f0e8" stroke-width="1.4"/></g>
<defs><radialGradient id="rg" cx="50%" cy="50%" r="50%"><stop offset="0.55" stop-color="#dddbd6"/><stop offset="0.82" stop-color="#d3d1cc"/><stop offset="1" stop-color="#b3b1ac"/></radialGradient></defs>
<ellipse cx="814.5" cy="481" rx="95" ry="107.5" transform="rotate(4 814.5 481)" fill="url(#rg)" stroke="#1e1e1e" stroke-width="3.2"/>
<ellipse cx="821" cy="483" rx="78" ry="97" transform="rotate(4 821 483)" fill="none" stroke="#3a3a3a" stroke-width="1.8" opacity="0.8"/><path d="M893,430 Q905,480 895,540" fill="none" stroke="#666" stroke-width="1.3" opacity="0.6"/>
<ellipse cx="828" cy="482" rx="59" ry="82" transform="rotate(4 828 482)" fill="#bdbab5" stroke="#2a2a2a" stroke-width="2.4"/>
<ellipse cx="815.5" cy="482" rx="59" ry="81.5" transform="rotate(4 815.5 482)" fill="#f8f7f2" stroke="#1a1a1a" stroke-width="3.2"/>
<g transform="translate(875.7 981) rotate(-45.3)">
<path d="M32,-17 L27,-16.8 L0.5,-4.8 Q-1,-0.5 0.5,3.9 L27,17.6 L32,17.5 Z" fill="#d2601e"/>
<rect x="29" y="-17.5" width="106.6" height="35" rx="2.5" fill="#f4913e"/>
<path d="M128.6,-17.5 L132,-17.5 Q135.6,-17.5 135.6,-14 L135.6,14 Q135.6,17.5 132,17.5 L128.6,17.5 Z" fill="#c85a1c"/>
<rect x="118.5" y="-17.5" width="5" height="35" fill="#2d2d2d"/>
<rect x="39.3" y="-17.5" width="5" height="35" fill="#2d2d2d"/>
<ellipse cx="81.2" cy="0" rx="32" ry="12" fill="#c4561a"/>
</g>
<path d="M895.3,895.85 Q896.405,903.4625 903.8,904.6 Q896.405,905.7375000000001 895.3,913.35 Q894.1949999999999,905.7375000000001 886.8,904.6 Q894.1949999999999,903.4625 895.3,895.85 Z" fill="#f0923c"/>
<path d="M970,933.9 Q971.781,944.862 983.7,946.5 Q971.781,948.138 970,959.1 Q968.219,948.138 956.3,946.5 Q968.219,944.862 970,933.9 Z" fill="#f0923c"/>
<g font-family="Liberation Sans, sans-serif" fill="#24343a" stroke="#24343a" stroke-width="0.35" stroke-linejoin="round"><text transform="translate(621 135) scale(0.98 1)" font-size="31.5" textLength="278.6" lengthAdjust="spacing">BIODEGRADABLE</text>
<text transform="translate(621 172) scale(0.98 1)" font-size="31.5" textLength="237.8" lengthAdjust="spacing">GBE EAPSULE</text>
<text transform="translate(620 236) scale(1.0 1)" font-size="33.5" textLength="276.0" lengthAdjust="spacing">Modified sodium</text>
<text transform="translate(621 275) scale(1.0 1)" font-size="33.5" textLength="300.0" lengthAdjust="spacing">alginate and chitin</text>
<text transform="translate(653 651) scale(0.98 1)" font-size="31.5" textLength="280.6" lengthAdjust="spacing">MAGNETIC RING</text>
<text transform="translate(652 711) scale(1.0 1)" font-size="33.5" textLength="237.0" lengthAdjust="spacing">Blodegradable</text>
<text transform="translate(654 751) scale(1.0 1)" font-size="33.5" textLength="277.0" lengthAdjust="spacing">ceramic particies</text>
<text transform="translate(620 845) scale(1.0 1)" font-size="33.5" textLength="226.0" lengthAdjust="spacing">Self-adnesive</text>
<text transform="translate(621 885) scale(1.0 1)" font-size="33.5" textLength="142.0" lengthAdjust="spacing">gel edge</text></g>
</svg></body></html>
